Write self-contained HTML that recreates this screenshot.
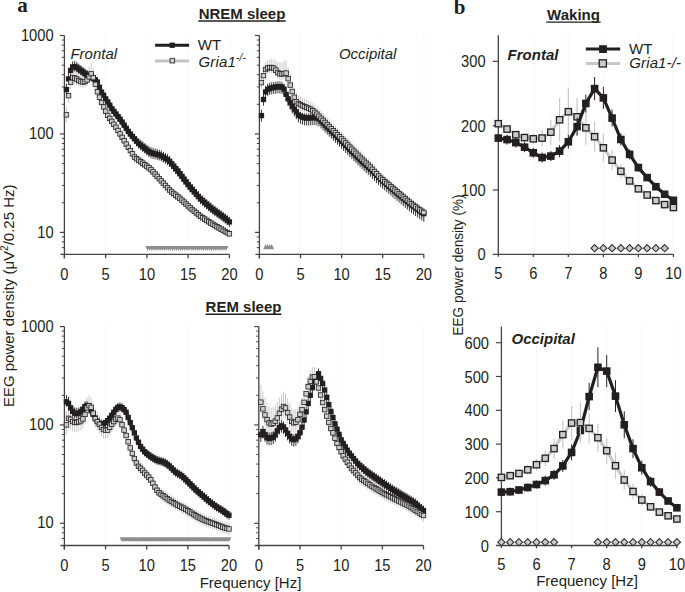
<!DOCTYPE html>
<html><head><meta charset="utf-8"><title>EEG power density</title><style>html,body{margin:0;padding:0;background:#fff;width:685px;height:592px;overflow:hidden}svg{display:block}</style></head><body>
<svg width="685" height="592" viewBox="0 0 685 592">
<rect width="685" height="592" fill="#ffffff"/>
<line x1="105.65" y1="35.50" x2="105.65" y2="253.30" stroke="#e6e6e6" stroke-width="1" stroke-dasharray="1 3"/>
<line x1="146.90" y1="35.50" x2="146.90" y2="253.30" stroke="#e6e6e6" stroke-width="1" stroke-dasharray="1 3"/>
<line x1="188.15" y1="35.50" x2="188.15" y2="253.30" stroke="#e6e6e6" stroke-width="1" stroke-dasharray="1 3"/>
<line x1="229.40" y1="35.50" x2="229.40" y2="253.30" stroke="#e6e6e6" stroke-width="1" stroke-dasharray="1 3"/>
<line x1="64.40" y1="35.50" x2="64.40" y2="258.30" stroke="#444444" stroke-width="1.3" />
<line x1="60.40" y1="254.30" x2="229.40" y2="254.30" stroke="#444444" stroke-width="1.3" />
<line x1="64.40" y1="254.30" x2="64.40" y2="258.30" stroke="#444444" stroke-width="1.3" />
<line x1="105.65" y1="254.30" x2="105.65" y2="258.30" stroke="#444444" stroke-width="1.3" />
<line x1="146.90" y1="254.30" x2="146.90" y2="258.30" stroke="#444444" stroke-width="1.3" />
<line x1="188.15" y1="254.30" x2="188.15" y2="258.30" stroke="#444444" stroke-width="1.3" />
<line x1="229.40" y1="254.30" x2="229.40" y2="258.30" stroke="#444444" stroke-width="1.3" />
<line x1="59.90" y1="232.40" x2="64.40" y2="232.40" stroke="#444444" stroke-width="1.2" />
<line x1="59.90" y1="133.95" x2="64.40" y2="133.95" stroke="#444444" stroke-width="1.2" />
<line x1="59.90" y1="35.50" x2="64.40" y2="35.50" stroke="#444444" stroke-width="1.2" />
<line x1="61.80" y1="247.65" x2="64.40" y2="247.65" stroke="#444444" stroke-width="1.0" />
<line x1="61.80" y1="241.94" x2="64.40" y2="241.94" stroke="#444444" stroke-width="1.0" />
<line x1="61.80" y1="236.90" x2="64.40" y2="236.90" stroke="#444444" stroke-width="1.0" />
<line x1="61.80" y1="202.76" x2="64.40" y2="202.76" stroke="#444444" stroke-width="1.0" />
<line x1="61.80" y1="185.43" x2="64.40" y2="185.43" stroke="#444444" stroke-width="1.0" />
<line x1="61.80" y1="173.13" x2="64.40" y2="173.13" stroke="#444444" stroke-width="1.0" />
<line x1="61.80" y1="163.59" x2="64.40" y2="163.59" stroke="#444444" stroke-width="1.0" />
<line x1="61.80" y1="155.79" x2="64.40" y2="155.79" stroke="#444444" stroke-width="1.0" />
<line x1="61.80" y1="149.20" x2="64.40" y2="149.20" stroke="#444444" stroke-width="1.0" />
<line x1="61.80" y1="143.49" x2="64.40" y2="143.49" stroke="#444444" stroke-width="1.0" />
<line x1="61.80" y1="138.45" x2="64.40" y2="138.45" stroke="#444444" stroke-width="1.0" />
<line x1="61.80" y1="104.31" x2="64.40" y2="104.31" stroke="#444444" stroke-width="1.0" />
<line x1="61.80" y1="86.98" x2="64.40" y2="86.98" stroke="#444444" stroke-width="1.0" />
<line x1="61.80" y1="74.68" x2="64.40" y2="74.68" stroke="#444444" stroke-width="1.0" />
<line x1="61.80" y1="65.14" x2="64.40" y2="65.14" stroke="#444444" stroke-width="1.0" />
<line x1="61.80" y1="57.34" x2="64.40" y2="57.34" stroke="#444444" stroke-width="1.0" />
<line x1="61.80" y1="50.75" x2="64.40" y2="50.75" stroke="#444444" stroke-width="1.0" />
<line x1="61.80" y1="45.04" x2="64.40" y2="45.04" stroke="#444444" stroke-width="1.0" />
<line x1="61.80" y1="40.00" x2="64.40" y2="40.00" stroke="#444444" stroke-width="1.0" />
<text transform="translate(53.60,237.50) scale(0.98,1.05)" x="0" y="0" font-family="Liberation Sans" font-size="15" font-weight="normal" font-style="normal" text-anchor="end" fill="#231f20" >10</text>
<text transform="translate(53.60,139.05) scale(0.98,1.05)" x="0" y="0" font-family="Liberation Sans" font-size="15" font-weight="normal" font-style="normal" text-anchor="end" fill="#231f20" >100</text>
<text transform="translate(53.60,40.60) scale(0.98,1.05)" x="0" y="0" font-family="Liberation Sans" font-size="15" font-weight="normal" font-style="normal" text-anchor="end" fill="#231f20" >1000</text>
<text transform="translate(64.40,280.10) scale(0.98,1.05)" x="0" y="0" font-family="Liberation Sans" font-size="15" font-weight="normal" font-style="normal" text-anchor="middle" fill="#231f20" >0</text>
<text transform="translate(105.65,280.10) scale(0.98,1.05)" x="0" y="0" font-family="Liberation Sans" font-size="15" font-weight="normal" font-style="normal" text-anchor="middle" fill="#231f20" >5</text>
<text transform="translate(146.90,280.10) scale(0.98,1.05)" x="0" y="0" font-family="Liberation Sans" font-size="15" font-weight="normal" font-style="normal" text-anchor="middle" fill="#231f20" >10</text>
<text transform="translate(188.15,280.10) scale(0.98,1.05)" x="0" y="0" font-family="Liberation Sans" font-size="15" font-weight="normal" font-style="normal" text-anchor="middle" fill="#231f20" >15</text>
<text transform="translate(229.40,280.10) scale(0.98,1.05)" x="0" y="0" font-family="Liberation Sans" font-size="15" font-weight="normal" font-style="normal" text-anchor="middle" fill="#231f20" >20</text>
<line x1="300.50" y1="35.50" x2="300.50" y2="253.30" stroke="#e6e6e6" stroke-width="1" stroke-dasharray="1 3"/>
<line x1="341.60" y1="35.50" x2="341.60" y2="253.30" stroke="#e6e6e6" stroke-width="1" stroke-dasharray="1 3"/>
<line x1="382.70" y1="35.50" x2="382.70" y2="253.30" stroke="#e6e6e6" stroke-width="1" stroke-dasharray="1 3"/>
<line x1="423.80" y1="35.50" x2="423.80" y2="253.30" stroke="#e6e6e6" stroke-width="1" stroke-dasharray="1 3"/>
<line x1="259.40" y1="35.50" x2="259.40" y2="258.30" stroke="#444444" stroke-width="1.3" />
<line x1="255.40" y1="254.30" x2="423.80" y2="254.30" stroke="#444444" stroke-width="1.3" />
<line x1="259.40" y1="254.30" x2="259.40" y2="258.30" stroke="#444444" stroke-width="1.3" />
<line x1="300.50" y1="254.30" x2="300.50" y2="258.30" stroke="#444444" stroke-width="1.3" />
<line x1="341.60" y1="254.30" x2="341.60" y2="258.30" stroke="#444444" stroke-width="1.3" />
<line x1="382.70" y1="254.30" x2="382.70" y2="258.30" stroke="#444444" stroke-width="1.3" />
<line x1="423.80" y1="254.30" x2="423.80" y2="258.30" stroke="#444444" stroke-width="1.3" />
<line x1="254.90" y1="232.40" x2="259.40" y2="232.40" stroke="#444444" stroke-width="1.2" />
<line x1="254.90" y1="133.95" x2="259.40" y2="133.95" stroke="#444444" stroke-width="1.2" />
<line x1="254.90" y1="35.50" x2="259.40" y2="35.50" stroke="#444444" stroke-width="1.2" />
<line x1="256.80" y1="247.65" x2="259.40" y2="247.65" stroke="#444444" stroke-width="1.0" />
<line x1="256.80" y1="241.94" x2="259.40" y2="241.94" stroke="#444444" stroke-width="1.0" />
<line x1="256.80" y1="236.90" x2="259.40" y2="236.90" stroke="#444444" stroke-width="1.0" />
<line x1="256.80" y1="202.76" x2="259.40" y2="202.76" stroke="#444444" stroke-width="1.0" />
<line x1="256.80" y1="185.43" x2="259.40" y2="185.43" stroke="#444444" stroke-width="1.0" />
<line x1="256.80" y1="173.13" x2="259.40" y2="173.13" stroke="#444444" stroke-width="1.0" />
<line x1="256.80" y1="163.59" x2="259.40" y2="163.59" stroke="#444444" stroke-width="1.0" />
<line x1="256.80" y1="155.79" x2="259.40" y2="155.79" stroke="#444444" stroke-width="1.0" />
<line x1="256.80" y1="149.20" x2="259.40" y2="149.20" stroke="#444444" stroke-width="1.0" />
<line x1="256.80" y1="143.49" x2="259.40" y2="143.49" stroke="#444444" stroke-width="1.0" />
<line x1="256.80" y1="138.45" x2="259.40" y2="138.45" stroke="#444444" stroke-width="1.0" />
<line x1="256.80" y1="104.31" x2="259.40" y2="104.31" stroke="#444444" stroke-width="1.0" />
<line x1="256.80" y1="86.98" x2="259.40" y2="86.98" stroke="#444444" stroke-width="1.0" />
<line x1="256.80" y1="74.68" x2="259.40" y2="74.68" stroke="#444444" stroke-width="1.0" />
<line x1="256.80" y1="65.14" x2="259.40" y2="65.14" stroke="#444444" stroke-width="1.0" />
<line x1="256.80" y1="57.34" x2="259.40" y2="57.34" stroke="#444444" stroke-width="1.0" />
<line x1="256.80" y1="50.75" x2="259.40" y2="50.75" stroke="#444444" stroke-width="1.0" />
<line x1="256.80" y1="45.04" x2="259.40" y2="45.04" stroke="#444444" stroke-width="1.0" />
<line x1="256.80" y1="40.00" x2="259.40" y2="40.00" stroke="#444444" stroke-width="1.0" />
<text transform="translate(259.40,280.10) scale(0.98,1.05)" x="0" y="0" font-family="Liberation Sans" font-size="15" font-weight="normal" font-style="normal" text-anchor="middle" fill="#231f20" >0</text>
<text transform="translate(300.50,280.10) scale(0.98,1.05)" x="0" y="0" font-family="Liberation Sans" font-size="15" font-weight="normal" font-style="normal" text-anchor="middle" fill="#231f20" >5</text>
<text transform="translate(341.60,280.10) scale(0.98,1.05)" x="0" y="0" font-family="Liberation Sans" font-size="15" font-weight="normal" font-style="normal" text-anchor="middle" fill="#231f20" >10</text>
<text transform="translate(382.70,280.10) scale(0.98,1.05)" x="0" y="0" font-family="Liberation Sans" font-size="15" font-weight="normal" font-style="normal" text-anchor="middle" fill="#231f20" >15</text>
<text transform="translate(423.80,280.10) scale(0.98,1.05)" x="0" y="0" font-family="Liberation Sans" font-size="15" font-weight="normal" font-style="normal" text-anchor="middle" fill="#231f20" >20</text>
<line x1="105.55" y1="326.60" x2="105.55" y2="544.50" stroke="#e6e6e6" stroke-width="1" stroke-dasharray="1 3"/>
<line x1="146.70" y1="326.60" x2="146.70" y2="544.50" stroke="#e6e6e6" stroke-width="1" stroke-dasharray="1 3"/>
<line x1="187.85" y1="326.60" x2="187.85" y2="544.50" stroke="#e6e6e6" stroke-width="1" stroke-dasharray="1 3"/>
<line x1="229.00" y1="326.60" x2="229.00" y2="544.50" stroke="#e6e6e6" stroke-width="1" stroke-dasharray="1 3"/>
<line x1="64.40" y1="326.60" x2="64.40" y2="549.50" stroke="#444444" stroke-width="1.3" />
<line x1="60.40" y1="545.50" x2="229.00" y2="545.50" stroke="#444444" stroke-width="1.3" />
<line x1="64.40" y1="545.50" x2="64.40" y2="549.50" stroke="#444444" stroke-width="1.3" />
<line x1="105.55" y1="545.50" x2="105.55" y2="549.50" stroke="#444444" stroke-width="1.3" />
<line x1="146.70" y1="545.50" x2="146.70" y2="549.50" stroke="#444444" stroke-width="1.3" />
<line x1="187.85" y1="545.50" x2="187.85" y2="549.50" stroke="#444444" stroke-width="1.3" />
<line x1="229.00" y1="545.50" x2="229.00" y2="549.50" stroke="#444444" stroke-width="1.3" />
<line x1="59.90" y1="523.30" x2="64.40" y2="523.30" stroke="#444444" stroke-width="1.2" />
<line x1="59.90" y1="424.95" x2="64.40" y2="424.95" stroke="#444444" stroke-width="1.2" />
<line x1="59.90" y1="326.60" x2="64.40" y2="326.60" stroke="#444444" stroke-width="1.2" />
<line x1="61.80" y1="538.53" x2="64.40" y2="538.53" stroke="#444444" stroke-width="1.0" />
<line x1="61.80" y1="532.83" x2="64.40" y2="532.83" stroke="#444444" stroke-width="1.0" />
<line x1="61.80" y1="527.80" x2="64.40" y2="527.80" stroke="#444444" stroke-width="1.0" />
<line x1="61.80" y1="493.69" x2="64.40" y2="493.69" stroke="#444444" stroke-width="1.0" />
<line x1="61.80" y1="476.38" x2="64.40" y2="476.38" stroke="#444444" stroke-width="1.0" />
<line x1="61.80" y1="464.09" x2="64.40" y2="464.09" stroke="#444444" stroke-width="1.0" />
<line x1="61.80" y1="454.56" x2="64.40" y2="454.56" stroke="#444444" stroke-width="1.0" />
<line x1="61.80" y1="446.77" x2="64.40" y2="446.77" stroke="#444444" stroke-width="1.0" />
<line x1="61.80" y1="440.18" x2="64.40" y2="440.18" stroke="#444444" stroke-width="1.0" />
<line x1="61.80" y1="434.48" x2="64.40" y2="434.48" stroke="#444444" stroke-width="1.0" />
<line x1="61.80" y1="429.45" x2="64.40" y2="429.45" stroke="#444444" stroke-width="1.0" />
<line x1="61.80" y1="395.34" x2="64.40" y2="395.34" stroke="#444444" stroke-width="1.0" />
<line x1="61.80" y1="378.03" x2="64.40" y2="378.03" stroke="#444444" stroke-width="1.0" />
<line x1="61.80" y1="365.74" x2="64.40" y2="365.74" stroke="#444444" stroke-width="1.0" />
<line x1="61.80" y1="356.21" x2="64.40" y2="356.21" stroke="#444444" stroke-width="1.0" />
<line x1="61.80" y1="348.42" x2="64.40" y2="348.42" stroke="#444444" stroke-width="1.0" />
<line x1="61.80" y1="341.83" x2="64.40" y2="341.83" stroke="#444444" stroke-width="1.0" />
<line x1="61.80" y1="336.13" x2="64.40" y2="336.13" stroke="#444444" stroke-width="1.0" />
<line x1="61.80" y1="331.10" x2="64.40" y2="331.10" stroke="#444444" stroke-width="1.0" />
<text transform="translate(53.60,528.40) scale(0.98,1.05)" x="0" y="0" font-family="Liberation Sans" font-size="15" font-weight="normal" font-style="normal" text-anchor="end" fill="#231f20" >10</text>
<text transform="translate(53.60,430.05) scale(0.98,1.05)" x="0" y="0" font-family="Liberation Sans" font-size="15" font-weight="normal" font-style="normal" text-anchor="end" fill="#231f20" >100</text>
<text transform="translate(53.60,331.70) scale(0.98,1.05)" x="0" y="0" font-family="Liberation Sans" font-size="15" font-weight="normal" font-style="normal" text-anchor="end" fill="#231f20" >1000</text>
<text transform="translate(64.40,571.30) scale(0.98,1.05)" x="0" y="0" font-family="Liberation Sans" font-size="15" font-weight="normal" font-style="normal" text-anchor="middle" fill="#231f20" >0</text>
<text transform="translate(105.55,571.30) scale(0.98,1.05)" x="0" y="0" font-family="Liberation Sans" font-size="15" font-weight="normal" font-style="normal" text-anchor="middle" fill="#231f20" >5</text>
<text transform="translate(146.70,571.30) scale(0.98,1.05)" x="0" y="0" font-family="Liberation Sans" font-size="15" font-weight="normal" font-style="normal" text-anchor="middle" fill="#231f20" >10</text>
<text transform="translate(187.85,571.30) scale(0.98,1.05)" x="0" y="0" font-family="Liberation Sans" font-size="15" font-weight="normal" font-style="normal" text-anchor="middle" fill="#231f20" >15</text>
<text transform="translate(229.00,571.30) scale(0.98,1.05)" x="0" y="0" font-family="Liberation Sans" font-size="15" font-weight="normal" font-style="normal" text-anchor="middle" fill="#231f20" >20</text>
<line x1="299.98" y1="326.60" x2="299.98" y2="544.50" stroke="#e6e6e6" stroke-width="1" stroke-dasharray="1 3"/>
<line x1="341.15" y1="326.60" x2="341.15" y2="544.50" stroke="#e6e6e6" stroke-width="1" stroke-dasharray="1 3"/>
<line x1="382.33" y1="326.60" x2="382.33" y2="544.50" stroke="#e6e6e6" stroke-width="1" stroke-dasharray="1 3"/>
<line x1="423.50" y1="326.60" x2="423.50" y2="544.50" stroke="#e6e6e6" stroke-width="1" stroke-dasharray="1 3"/>
<line x1="258.80" y1="326.60" x2="258.80" y2="549.50" stroke="#444444" stroke-width="1.3" />
<line x1="254.80" y1="545.50" x2="423.50" y2="545.50" stroke="#444444" stroke-width="1.3" />
<line x1="258.80" y1="545.50" x2="258.80" y2="549.50" stroke="#444444" stroke-width="1.3" />
<line x1="299.98" y1="545.50" x2="299.98" y2="549.50" stroke="#444444" stroke-width="1.3" />
<line x1="341.15" y1="545.50" x2="341.15" y2="549.50" stroke="#444444" stroke-width="1.3" />
<line x1="382.33" y1="545.50" x2="382.33" y2="549.50" stroke="#444444" stroke-width="1.3" />
<line x1="423.50" y1="545.50" x2="423.50" y2="549.50" stroke="#444444" stroke-width="1.3" />
<line x1="254.30" y1="523.30" x2="258.80" y2="523.30" stroke="#444444" stroke-width="1.2" />
<line x1="254.30" y1="424.95" x2="258.80" y2="424.95" stroke="#444444" stroke-width="1.2" />
<line x1="254.30" y1="326.60" x2="258.80" y2="326.60" stroke="#444444" stroke-width="1.2" />
<line x1="256.20" y1="538.53" x2="258.80" y2="538.53" stroke="#444444" stroke-width="1.0" />
<line x1="256.20" y1="532.83" x2="258.80" y2="532.83" stroke="#444444" stroke-width="1.0" />
<line x1="256.20" y1="527.80" x2="258.80" y2="527.80" stroke="#444444" stroke-width="1.0" />
<line x1="256.20" y1="493.69" x2="258.80" y2="493.69" stroke="#444444" stroke-width="1.0" />
<line x1="256.20" y1="476.38" x2="258.80" y2="476.38" stroke="#444444" stroke-width="1.0" />
<line x1="256.20" y1="464.09" x2="258.80" y2="464.09" stroke="#444444" stroke-width="1.0" />
<line x1="256.20" y1="454.56" x2="258.80" y2="454.56" stroke="#444444" stroke-width="1.0" />
<line x1="256.20" y1="446.77" x2="258.80" y2="446.77" stroke="#444444" stroke-width="1.0" />
<line x1="256.20" y1="440.18" x2="258.80" y2="440.18" stroke="#444444" stroke-width="1.0" />
<line x1="256.20" y1="434.48" x2="258.80" y2="434.48" stroke="#444444" stroke-width="1.0" />
<line x1="256.20" y1="429.45" x2="258.80" y2="429.45" stroke="#444444" stroke-width="1.0" />
<line x1="256.20" y1="395.34" x2="258.80" y2="395.34" stroke="#444444" stroke-width="1.0" />
<line x1="256.20" y1="378.03" x2="258.80" y2="378.03" stroke="#444444" stroke-width="1.0" />
<line x1="256.20" y1="365.74" x2="258.80" y2="365.74" stroke="#444444" stroke-width="1.0" />
<line x1="256.20" y1="356.21" x2="258.80" y2="356.21" stroke="#444444" stroke-width="1.0" />
<line x1="256.20" y1="348.42" x2="258.80" y2="348.42" stroke="#444444" stroke-width="1.0" />
<line x1="256.20" y1="341.83" x2="258.80" y2="341.83" stroke="#444444" stroke-width="1.0" />
<line x1="256.20" y1="336.13" x2="258.80" y2="336.13" stroke="#444444" stroke-width="1.0" />
<line x1="256.20" y1="331.10" x2="258.80" y2="331.10" stroke="#444444" stroke-width="1.0" />
<text transform="translate(258.80,571.30) scale(0.98,1.05)" x="0" y="0" font-family="Liberation Sans" font-size="15" font-weight="normal" font-style="normal" text-anchor="middle" fill="#231f20" >0</text>
<text transform="translate(299.98,571.30) scale(0.98,1.05)" x="0" y="0" font-family="Liberation Sans" font-size="15" font-weight="normal" font-style="normal" text-anchor="middle" fill="#231f20" >5</text>
<text transform="translate(341.15,571.30) scale(0.98,1.05)" x="0" y="0" font-family="Liberation Sans" font-size="15" font-weight="normal" font-style="normal" text-anchor="middle" fill="#231f20" >10</text>
<text transform="translate(382.33,571.30) scale(0.98,1.05)" x="0" y="0" font-family="Liberation Sans" font-size="15" font-weight="normal" font-style="normal" text-anchor="middle" fill="#231f20" >15</text>
<text transform="translate(423.50,571.30) scale(0.98,1.05)" x="0" y="0" font-family="Liberation Sans" font-size="15" font-weight="normal" font-style="normal" text-anchor="middle" fill="#231f20" >20</text>
<line x1="66.46" y1="106.86" x2="66.46" y2="122.55" stroke="#c4c4c4" stroke-width="0.9"/>
<line x1="68.53" y1="87.67" x2="68.53" y2="103.10" stroke="#c4c4c4" stroke-width="0.9"/>
<line x1="70.59" y1="74.28" x2="70.59" y2="89.46" stroke="#c4c4c4" stroke-width="0.9"/>
<line x1="72.65" y1="69.54" x2="72.65" y2="84.45" stroke="#c4c4c4" stroke-width="0.9"/>
<line x1="74.71" y1="70.05" x2="74.71" y2="84.71" stroke="#c4c4c4" stroke-width="0.9"/>
<line x1="76.78" y1="71.05" x2="76.78" y2="85.46" stroke="#c4c4c4" stroke-width="0.9"/>
<line x1="78.84" y1="72.52" x2="78.84" y2="86.66" stroke="#c4c4c4" stroke-width="0.9"/>
<line x1="80.90" y1="73.30" x2="80.90" y2="87.52" stroke="#c4c4c4" stroke-width="0.9"/>
<line x1="82.96" y1="73.24" x2="82.96" y2="87.99" stroke="#c4c4c4" stroke-width="0.9"/>
<line x1="85.03" y1="72.22" x2="85.03" y2="87.48" stroke="#c4c4c4" stroke-width="0.9"/>
<line x1="87.09" y1="70.10" x2="87.09" y2="85.87" stroke="#c4c4c4" stroke-width="0.9"/>
<line x1="89.15" y1="66.58" x2="89.15" y2="82.86" stroke="#c4c4c4" stroke-width="0.9"/>
<line x1="91.21" y1="63.07" x2="91.21" y2="79.87" stroke="#c4c4c4" stroke-width="0.9"/>
<line x1="93.28" y1="67.41" x2="93.28" y2="83.62" stroke="#c4c4c4" stroke-width="0.9"/>
<line x1="95.34" y1="75.40" x2="95.34" y2="90.31" stroke="#c4c4c4" stroke-width="0.9"/>
<line x1="97.40" y1="84.15" x2="97.40" y2="97.77" stroke="#c4c4c4" stroke-width="0.9"/>
<line x1="99.46" y1="90.86" x2="99.46" y2="103.20" stroke="#c4c4c4" stroke-width="0.9"/>
<line x1="101.53" y1="96.52" x2="101.53" y2="108.46" stroke="#c4c4c4" stroke-width="0.9"/>
<line x1="103.59" y1="101.00" x2="103.59" y2="112.86" stroke="#c4c4c4" stroke-width="0.9"/>
<line x1="105.65" y1="105.34" x2="105.65" y2="117.12" stroke="#c4c4c4" stroke-width="0.9"/>
<line x1="107.71" y1="109.62" x2="107.71" y2="121.31" stroke="#c4c4c4" stroke-width="0.9"/>
<line x1="109.78" y1="112.62" x2="109.78" y2="124.23" stroke="#c4c4c4" stroke-width="0.9"/>
<line x1="111.84" y1="115.62" x2="111.84" y2="127.15" stroke="#c4c4c4" stroke-width="0.9"/>
<line x1="113.90" y1="118.63" x2="113.90" y2="130.07" stroke="#c4c4c4" stroke-width="0.9"/>
<line x1="115.96" y1="121.63" x2="115.96" y2="132.99" stroke="#c4c4c4" stroke-width="0.9"/>
<line x1="118.03" y1="124.87" x2="118.03" y2="136.15" stroke="#c4c4c4" stroke-width="0.9"/>
<line x1="120.09" y1="128.35" x2="120.09" y2="139.54" stroke="#c4c4c4" stroke-width="0.9"/>
<line x1="122.15" y1="131.83" x2="122.15" y2="142.94" stroke="#c4c4c4" stroke-width="0.9"/>
<line x1="124.21" y1="135.31" x2="124.21" y2="146.34" stroke="#c4c4c4" stroke-width="0.9"/>
<line x1="126.28" y1="138.67" x2="126.28" y2="149.62" stroke="#c4c4c4" stroke-width="0.9"/>
<line x1="128.34" y1="141.94" x2="128.34" y2="152.81" stroke="#c4c4c4" stroke-width="0.9"/>
<line x1="130.40" y1="145.22" x2="130.40" y2="156.00" stroke="#c4c4c4" stroke-width="0.9"/>
<line x1="132.46" y1="148.50" x2="132.46" y2="159.20" stroke="#c4c4c4" stroke-width="0.9"/>
<line x1="134.53" y1="151.77" x2="134.53" y2="162.39" stroke="#c4c4c4" stroke-width="0.9"/>
<line x1="136.59" y1="153.39" x2="136.59" y2="163.93" stroke="#c4c4c4" stroke-width="0.9"/>
<line x1="138.65" y1="154.94" x2="138.65" y2="165.40" stroke="#c4c4c4" stroke-width="0.9"/>
<line x1="140.71" y1="156.50" x2="140.71" y2="166.87" stroke="#c4c4c4" stroke-width="0.9"/>
<line x1="142.78" y1="158.05" x2="142.78" y2="168.34" stroke="#c4c4c4" stroke-width="0.9"/>
<line x1="144.84" y1="159.61" x2="144.84" y2="169.82" stroke="#c4c4c4" stroke-width="0.9"/>
<line x1="146.90" y1="161.16" x2="146.90" y2="171.29" stroke="#c4c4c4" stroke-width="0.9"/>
<line x1="148.96" y1="162.72" x2="148.96" y2="172.76" stroke="#c4c4c4" stroke-width="0.9"/>
<line x1="151.03" y1="164.63" x2="151.03" y2="174.60" stroke="#c4c4c4" stroke-width="0.9"/>
<line x1="153.09" y1="166.90" x2="153.09" y2="176.82" stroke="#c4c4c4" stroke-width="0.9"/>
<line x1="155.15" y1="169.17" x2="155.15" y2="179.04" stroke="#c4c4c4" stroke-width="0.9"/>
<line x1="157.21" y1="171.44" x2="157.21" y2="181.26" stroke="#c4c4c4" stroke-width="0.9"/>
<line x1="159.28" y1="173.71" x2="159.28" y2="183.47" stroke="#c4c4c4" stroke-width="0.9"/>
<line x1="161.34" y1="176.00" x2="161.34" y2="185.72" stroke="#c4c4c4" stroke-width="0.9"/>
<line x1="163.40" y1="178.32" x2="163.40" y2="187.98" stroke="#c4c4c4" stroke-width="0.9"/>
<line x1="165.46" y1="180.63" x2="165.46" y2="190.25" stroke="#c4c4c4" stroke-width="0.9"/>
<line x1="167.53" y1="182.95" x2="167.53" y2="192.51" stroke="#c4c4c4" stroke-width="0.9"/>
<line x1="169.59" y1="185.26" x2="169.59" y2="194.77" stroke="#c4c4c4" stroke-width="0.9"/>
<line x1="171.65" y1="187.15" x2="171.65" y2="196.61" stroke="#c4c4c4" stroke-width="0.9"/>
<line x1="173.71" y1="188.81" x2="173.71" y2="198.21" stroke="#c4c4c4" stroke-width="0.9"/>
<line x1="175.78" y1="190.46" x2="175.78" y2="199.82" stroke="#c4c4c4" stroke-width="0.9"/>
<line x1="177.84" y1="192.12" x2="177.84" y2="201.42" stroke="#c4c4c4" stroke-width="0.9"/>
<line x1="179.90" y1="193.78" x2="179.90" y2="203.03" stroke="#c4c4c4" stroke-width="0.9"/>
<line x1="181.96" y1="195.64" x2="181.96" y2="204.84" stroke="#c4c4c4" stroke-width="0.9"/>
<line x1="184.03" y1="197.56" x2="184.03" y2="206.71" stroke="#c4c4c4" stroke-width="0.9"/>
<line x1="186.09" y1="199.49" x2="186.09" y2="208.59" stroke="#c4c4c4" stroke-width="0.9"/>
<line x1="188.15" y1="201.41" x2="188.15" y2="210.46" stroke="#c4c4c4" stroke-width="0.9"/>
<line x1="190.21" y1="203.34" x2="190.21" y2="212.33" stroke="#c4c4c4" stroke-width="0.9"/>
<line x1="192.28" y1="205.09" x2="192.28" y2="214.03" stroke="#c4c4c4" stroke-width="0.9"/>
<line x1="194.34" y1="206.81" x2="194.34" y2="215.71" stroke="#c4c4c4" stroke-width="0.9"/>
<line x1="196.40" y1="208.54" x2="196.40" y2="217.38" stroke="#c4c4c4" stroke-width="0.9"/>
<line x1="198.46" y1="210.26" x2="198.46" y2="219.05" stroke="#c4c4c4" stroke-width="0.9"/>
<line x1="200.53" y1="211.99" x2="200.53" y2="220.72" stroke="#c4c4c4" stroke-width="0.9"/>
<line x1="202.59" y1="213.37" x2="202.59" y2="222.06" stroke="#c4c4c4" stroke-width="0.9"/>
<line x1="204.65" y1="214.73" x2="204.65" y2="223.36" stroke="#c4c4c4" stroke-width="0.9"/>
<line x1="206.71" y1="216.08" x2="206.71" y2="224.66" stroke="#c4c4c4" stroke-width="0.9"/>
<line x1="208.78" y1="217.44" x2="208.78" y2="225.97" stroke="#c4c4c4" stroke-width="0.9"/>
<line x1="210.84" y1="218.79" x2="210.84" y2="227.27" stroke="#c4c4c4" stroke-width="0.9"/>
<line x1="212.90" y1="220.12" x2="212.90" y2="228.55" stroke="#c4c4c4" stroke-width="0.9"/>
<line x1="214.96" y1="221.35" x2="214.96" y2="229.73" stroke="#c4c4c4" stroke-width="0.9"/>
<line x1="217.03" y1="222.58" x2="217.03" y2="230.91" stroke="#c4c4c4" stroke-width="0.9"/>
<line x1="219.09" y1="223.81" x2="219.09" y2="232.08" stroke="#c4c4c4" stroke-width="0.9"/>
<line x1="221.15" y1="225.04" x2="221.15" y2="233.26" stroke="#c4c4c4" stroke-width="0.9"/>
<line x1="223.21" y1="226.26" x2="223.21" y2="234.43" stroke="#c4c4c4" stroke-width="0.9"/>
<line x1="225.28" y1="227.44" x2="225.28" y2="235.55" stroke="#c4c4c4" stroke-width="0.9"/>
<line x1="227.34" y1="228.61" x2="227.34" y2="236.68" stroke="#c4c4c4" stroke-width="0.9"/>
<line x1="229.40" y1="229.79" x2="229.40" y2="237.81" stroke="#c4c4c4" stroke-width="0.9"/>
<line x1="66.46" y1="83.65" x2="66.46" y2="94.51" stroke="#231f20" stroke-width="0.9"/>
<line x1="68.53" y1="73.06" x2="68.53" y2="83.81" stroke="#231f20" stroke-width="0.9"/>
<line x1="70.59" y1="64.62" x2="70.59" y2="75.26" stroke="#231f20" stroke-width="0.9"/>
<line x1="72.65" y1="61.32" x2="72.65" y2="71.84" stroke="#231f20" stroke-width="0.9"/>
<line x1="74.71" y1="61.00" x2="74.71" y2="71.40" stroke="#231f20" stroke-width="0.9"/>
<line x1="76.78" y1="62.09" x2="76.78" y2="72.38" stroke="#231f20" stroke-width="0.9"/>
<line x1="78.84" y1="63.65" x2="78.84" y2="73.82" stroke="#231f20" stroke-width="0.9"/>
<line x1="80.90" y1="65.28" x2="80.90" y2="75.34" stroke="#231f20" stroke-width="0.9"/>
<line x1="82.96" y1="66.83" x2="82.96" y2="76.78" stroke="#231f20" stroke-width="0.9"/>
<line x1="85.03" y1="68.39" x2="85.03" y2="78.23" stroke="#231f20" stroke-width="0.9"/>
<line x1="87.09" y1="70.01" x2="87.09" y2="79.72" stroke="#231f20" stroke-width="0.9"/>
<line x1="89.15" y1="71.12" x2="89.15" y2="80.73" stroke="#231f20" stroke-width="0.9"/>
<line x1="91.21" y1="72.24" x2="91.21" y2="81.73" stroke="#231f20" stroke-width="0.9"/>
<line x1="93.28" y1="73.43" x2="93.28" y2="82.80" stroke="#231f20" stroke-width="0.9"/>
<line x1="95.34" y1="75.11" x2="95.34" y2="84.37" stroke="#231f20" stroke-width="0.9"/>
<line x1="97.40" y1="77.40" x2="97.40" y2="86.54" stroke="#231f20" stroke-width="0.9"/>
<line x1="99.46" y1="82.73" x2="99.46" y2="91.76" stroke="#231f20" stroke-width="0.9"/>
<line x1="101.53" y1="87.60" x2="101.53" y2="96.60" stroke="#231f20" stroke-width="0.9"/>
<line x1="103.59" y1="90.73" x2="103.59" y2="99.73" stroke="#231f20" stroke-width="0.9"/>
<line x1="105.65" y1="94.35" x2="105.65" y2="103.35" stroke="#231f20" stroke-width="0.9"/>
<line x1="107.71" y1="97.49" x2="107.71" y2="106.49" stroke="#231f20" stroke-width="0.9"/>
<line x1="109.78" y1="100.67" x2="109.78" y2="109.67" stroke="#231f20" stroke-width="0.9"/>
<line x1="111.84" y1="104.20" x2="111.84" y2="113.20" stroke="#231f20" stroke-width="0.9"/>
<line x1="113.90" y1="106.83" x2="113.90" y2="115.83" stroke="#231f20" stroke-width="0.9"/>
<line x1="115.96" y1="109.46" x2="115.96" y2="118.46" stroke="#231f20" stroke-width="0.9"/>
<line x1="118.03" y1="112.08" x2="118.03" y2="121.08" stroke="#231f20" stroke-width="0.9"/>
<line x1="120.09" y1="114.71" x2="120.09" y2="123.71" stroke="#231f20" stroke-width="0.9"/>
<line x1="122.15" y1="117.58" x2="122.15" y2="126.58" stroke="#231f20" stroke-width="0.9"/>
<line x1="124.21" y1="120.69" x2="124.21" y2="129.69" stroke="#231f20" stroke-width="0.9"/>
<line x1="126.28" y1="123.79" x2="126.28" y2="132.79" stroke="#231f20" stroke-width="0.9"/>
<line x1="128.34" y1="126.90" x2="128.34" y2="135.90" stroke="#231f20" stroke-width="0.9"/>
<line x1="130.40" y1="129.56" x2="130.40" y2="138.60" stroke="#231f20" stroke-width="0.9"/>
<line x1="132.46" y1="131.83" x2="132.46" y2="141.07" stroke="#231f20" stroke-width="0.9"/>
<line x1="134.53" y1="134.09" x2="134.53" y2="143.54" stroke="#231f20" stroke-width="0.9"/>
<line x1="136.59" y1="136.36" x2="136.59" y2="146.02" stroke="#231f20" stroke-width="0.9"/>
<line x1="138.65" y1="138.61" x2="138.65" y2="148.47" stroke="#231f20" stroke-width="0.9"/>
<line x1="140.71" y1="140.13" x2="140.71" y2="150.20" stroke="#231f20" stroke-width="0.9"/>
<line x1="142.78" y1="141.66" x2="142.78" y2="151.93" stroke="#231f20" stroke-width="0.9"/>
<line x1="144.84" y1="143.18" x2="144.84" y2="153.67" stroke="#231f20" stroke-width="0.9"/>
<line x1="146.90" y1="144.71" x2="146.90" y2="155.40" stroke="#231f20" stroke-width="0.9"/>
<line x1="148.96" y1="146.23" x2="148.96" y2="157.13" stroke="#231f20" stroke-width="0.9"/>
<line x1="151.03" y1="147.28" x2="151.03" y2="158.27" stroke="#231f20" stroke-width="0.9"/>
<line x1="153.09" y1="147.85" x2="153.09" y2="158.81" stroke="#231f20" stroke-width="0.9"/>
<line x1="155.15" y1="148.42" x2="155.15" y2="159.36" stroke="#231f20" stroke-width="0.9"/>
<line x1="157.21" y1="148.99" x2="157.21" y2="159.90" stroke="#231f20" stroke-width="0.9"/>
<line x1="159.28" y1="149.56" x2="159.28" y2="160.45" stroke="#231f20" stroke-width="0.9"/>
<line x1="161.34" y1="150.56" x2="161.34" y2="161.42" stroke="#231f20" stroke-width="0.9"/>
<line x1="163.40" y1="151.80" x2="163.40" y2="162.63" stroke="#231f20" stroke-width="0.9"/>
<line x1="165.46" y1="153.04" x2="165.46" y2="163.84" stroke="#231f20" stroke-width="0.9"/>
<line x1="167.53" y1="154.27" x2="167.53" y2="165.05" stroke="#231f20" stroke-width="0.9"/>
<line x1="169.59" y1="156.08" x2="169.59" y2="166.83" stroke="#231f20" stroke-width="0.9"/>
<line x1="171.65" y1="158.50" x2="171.65" y2="169.23" stroke="#231f20" stroke-width="0.9"/>
<line x1="173.71" y1="160.92" x2="173.71" y2="171.62" stroke="#231f20" stroke-width="0.9"/>
<line x1="175.78" y1="163.34" x2="175.78" y2="174.02" stroke="#231f20" stroke-width="0.9"/>
<line x1="177.84" y1="165.77" x2="177.84" y2="176.42" stroke="#231f20" stroke-width="0.9"/>
<line x1="179.90" y1="168.38" x2="179.90" y2="179.00" stroke="#231f20" stroke-width="0.9"/>
<line x1="181.96" y1="171.12" x2="181.96" y2="181.72" stroke="#231f20" stroke-width="0.9"/>
<line x1="184.03" y1="173.86" x2="184.03" y2="184.44" stroke="#231f20" stroke-width="0.9"/>
<line x1="186.09" y1="176.60" x2="186.09" y2="187.15" stroke="#231f20" stroke-width="0.9"/>
<line x1="188.15" y1="179.35" x2="188.15" y2="189.87" stroke="#231f20" stroke-width="0.9"/>
<line x1="190.21" y1="181.85" x2="190.21" y2="192.35" stroke="#231f20" stroke-width="0.9"/>
<line x1="192.28" y1="184.23" x2="192.28" y2="194.70" stroke="#231f20" stroke-width="0.9"/>
<line x1="194.34" y1="186.60" x2="194.34" y2="197.04" stroke="#231f20" stroke-width="0.9"/>
<line x1="196.40" y1="188.97" x2="196.40" y2="199.39" stroke="#231f20" stroke-width="0.9"/>
<line x1="198.46" y1="191.34" x2="198.46" y2="201.74" stroke="#231f20" stroke-width="0.9"/>
<line x1="200.53" y1="193.72" x2="200.53" y2="204.08" stroke="#231f20" stroke-width="0.9"/>
<line x1="202.59" y1="195.56" x2="202.59" y2="205.90" stroke="#231f20" stroke-width="0.9"/>
<line x1="204.65" y1="197.36" x2="204.65" y2="207.67" stroke="#231f20" stroke-width="0.9"/>
<line x1="206.71" y1="199.15" x2="206.71" y2="209.44" stroke="#231f20" stroke-width="0.9"/>
<line x1="208.78" y1="200.95" x2="208.78" y2="211.21" stroke="#231f20" stroke-width="0.9"/>
<line x1="210.84" y1="202.74" x2="210.84" y2="212.98" stroke="#231f20" stroke-width="0.9"/>
<line x1="212.90" y1="204.48" x2="212.90" y2="214.69" stroke="#231f20" stroke-width="0.9"/>
<line x1="214.96" y1="205.96" x2="214.96" y2="216.15" stroke="#231f20" stroke-width="0.9"/>
<line x1="217.03" y1="207.44" x2="217.03" y2="217.60" stroke="#231f20" stroke-width="0.9"/>
<line x1="219.09" y1="208.92" x2="219.09" y2="219.06" stroke="#231f20" stroke-width="0.9"/>
<line x1="221.15" y1="210.40" x2="221.15" y2="220.51" stroke="#231f20" stroke-width="0.9"/>
<line x1="223.21" y1="211.88" x2="223.21" y2="221.97" stroke="#231f20" stroke-width="0.9"/>
<line x1="225.28" y1="213.48" x2="225.28" y2="223.54" stroke="#231f20" stroke-width="0.9"/>
<line x1="227.34" y1="215.20" x2="227.34" y2="225.23" stroke="#231f20" stroke-width="0.9"/>
<line x1="229.40" y1="216.91" x2="229.40" y2="226.92" stroke="#231f20" stroke-width="0.9"/>
<rect x="63.81" y="86.90" width="5.3" height="5.3" fill="#231f20"/>
<rect x="65.88" y="76.22" width="5.3" height="5.3" fill="#231f20"/>
<rect x="67.94" y="67.70" width="5.3" height="5.3" fill="#231f20"/>
<rect x="70.00" y="64.31" width="5.3" height="5.3" fill="#231f20"/>
<rect x="72.06" y="63.90" width="5.3" height="5.3" fill="#231f20"/>
<rect x="74.12" y="64.90" width="5.3" height="5.3" fill="#231f20"/>
<rect x="76.19" y="66.38" width="5.3" height="5.3" fill="#231f20"/>
<rect x="78.25" y="67.92" width="5.3" height="5.3" fill="#231f20"/>
<rect x="80.31" y="69.39" width="5.3" height="5.3" fill="#231f20"/>
<rect x="82.38" y="70.87" width="5.3" height="5.3" fill="#231f20"/>
<rect x="84.44" y="72.39" width="5.3" height="5.3" fill="#231f20"/>
<rect x="86.50" y="73.42" width="5.3" height="5.3" fill="#231f20"/>
<rect x="88.56" y="74.46" width="5.3" height="5.3" fill="#231f20"/>
<rect x="90.62" y="75.56" width="5.3" height="5.3" fill="#231f20"/>
<rect x="92.69" y="77.16" width="5.3" height="5.3" fill="#231f20"/>
<rect x="94.75" y="79.36" width="5.3" height="5.3" fill="#231f20"/>
<rect x="96.81" y="84.60" width="5.3" height="5.3" fill="#231f20"/>
<rect x="98.88" y="89.45" width="5.3" height="5.3" fill="#231f20"/>
<rect x="100.94" y="92.58" width="5.3" height="5.3" fill="#231f20"/>
<rect x="103.00" y="96.20" width="5.3" height="5.3" fill="#231f20"/>
<rect x="105.06" y="99.34" width="5.3" height="5.3" fill="#231f20"/>
<rect x="107.12" y="102.52" width="5.3" height="5.3" fill="#231f20"/>
<rect x="109.19" y="106.05" width="5.3" height="5.3" fill="#231f20"/>
<rect x="111.25" y="108.68" width="5.3" height="5.3" fill="#231f20"/>
<rect x="113.31" y="111.31" width="5.3" height="5.3" fill="#231f20"/>
<rect x="115.38" y="113.93" width="5.3" height="5.3" fill="#231f20"/>
<rect x="117.44" y="116.56" width="5.3" height="5.3" fill="#231f20"/>
<rect x="119.50" y="119.43" width="5.3" height="5.3" fill="#231f20"/>
<rect x="121.56" y="122.54" width="5.3" height="5.3" fill="#231f20"/>
<rect x="123.62" y="125.64" width="5.3" height="5.3" fill="#231f20"/>
<rect x="125.69" y="128.75" width="5.3" height="5.3" fill="#231f20"/>
<rect x="127.75" y="131.43" width="5.3" height="5.3" fill="#231f20"/>
<rect x="129.81" y="133.80" width="5.3" height="5.3" fill="#231f20"/>
<rect x="131.88" y="136.17" width="5.3" height="5.3" fill="#231f20"/>
<rect x="133.94" y="138.54" width="5.3" height="5.3" fill="#231f20"/>
<rect x="136.00" y="140.89" width="5.3" height="5.3" fill="#231f20"/>
<rect x="138.06" y="142.52" width="5.3" height="5.3" fill="#231f20"/>
<rect x="140.12" y="144.15" width="5.3" height="5.3" fill="#231f20"/>
<rect x="142.19" y="145.77" width="5.3" height="5.3" fill="#231f20"/>
<rect x="144.25" y="147.40" width="5.3" height="5.3" fill="#231f20"/>
<rect x="146.31" y="149.03" width="5.3" height="5.3" fill="#231f20"/>
<rect x="148.38" y="150.13" width="5.3" height="5.3" fill="#231f20"/>
<rect x="150.44" y="150.68" width="5.3" height="5.3" fill="#231f20"/>
<rect x="152.50" y="151.24" width="5.3" height="5.3" fill="#231f20"/>
<rect x="154.56" y="151.80" width="5.3" height="5.3" fill="#231f20"/>
<rect x="156.62" y="152.35" width="5.3" height="5.3" fill="#231f20"/>
<rect x="158.69" y="153.34" width="5.3" height="5.3" fill="#231f20"/>
<rect x="160.75" y="154.57" width="5.3" height="5.3" fill="#231f20"/>
<rect x="162.81" y="155.79" width="5.3" height="5.3" fill="#231f20"/>
<rect x="164.88" y="157.01" width="5.3" height="5.3" fill="#231f20"/>
<rect x="166.94" y="158.80" width="5.3" height="5.3" fill="#231f20"/>
<rect x="169.00" y="161.21" width="5.3" height="5.3" fill="#231f20"/>
<rect x="171.06" y="163.62" width="5.3" height="5.3" fill="#231f20"/>
<rect x="173.12" y="166.03" width="5.3" height="5.3" fill="#231f20"/>
<rect x="175.19" y="168.44" width="5.3" height="5.3" fill="#231f20"/>
<rect x="177.25" y="171.04" width="5.3" height="5.3" fill="#231f20"/>
<rect x="179.31" y="173.77" width="5.3" height="5.3" fill="#231f20"/>
<rect x="181.38" y="176.50" width="5.3" height="5.3" fill="#231f20"/>
<rect x="183.44" y="179.23" width="5.3" height="5.3" fill="#231f20"/>
<rect x="185.50" y="181.96" width="5.3" height="5.3" fill="#231f20"/>
<rect x="187.56" y="184.45" width="5.3" height="5.3" fill="#231f20"/>
<rect x="189.62" y="186.81" width="5.3" height="5.3" fill="#231f20"/>
<rect x="191.69" y="189.17" width="5.3" height="5.3" fill="#231f20"/>
<rect x="193.75" y="191.53" width="5.3" height="5.3" fill="#231f20"/>
<rect x="195.81" y="193.89" width="5.3" height="5.3" fill="#231f20"/>
<rect x="197.88" y="196.25" width="5.3" height="5.3" fill="#231f20"/>
<rect x="199.94" y="198.08" width="5.3" height="5.3" fill="#231f20"/>
<rect x="202.00" y="199.86" width="5.3" height="5.3" fill="#231f20"/>
<rect x="204.06" y="201.65" width="5.3" height="5.3" fill="#231f20"/>
<rect x="206.12" y="203.43" width="5.3" height="5.3" fill="#231f20"/>
<rect x="208.19" y="205.21" width="5.3" height="5.3" fill="#231f20"/>
<rect x="210.25" y="206.93" width="5.3" height="5.3" fill="#231f20"/>
<rect x="212.31" y="208.40" width="5.3" height="5.3" fill="#231f20"/>
<rect x="214.38" y="209.87" width="5.3" height="5.3" fill="#231f20"/>
<rect x="216.44" y="211.34" width="5.3" height="5.3" fill="#231f20"/>
<rect x="218.50" y="212.81" width="5.3" height="5.3" fill="#231f20"/>
<rect x="220.56" y="214.28" width="5.3" height="5.3" fill="#231f20"/>
<rect x="222.62" y="215.86" width="5.3" height="5.3" fill="#231f20"/>
<rect x="224.69" y="217.56" width="5.3" height="5.3" fill="#231f20"/>
<rect x="226.75" y="219.27" width="5.3" height="5.3" fill="#231f20"/>
<rect x="64.21" y="112.61" width="4.5" height="4.5" fill="#cbcccd" stroke="#231f20" stroke-width="0.8"/>
<rect x="66.28" y="93.42" width="4.5" height="4.5" fill="#cbcccd" stroke="#231f20" stroke-width="0.8"/>
<rect x="68.34" y="80.03" width="4.5" height="4.5" fill="#cbcccd" stroke="#231f20" stroke-width="0.8"/>
<rect x="70.40" y="75.29" width="4.5" height="4.5" fill="#cbcccd" stroke="#231f20" stroke-width="0.8"/>
<rect x="72.46" y="75.80" width="4.5" height="4.5" fill="#cbcccd" stroke="#231f20" stroke-width="0.8"/>
<rect x="74.53" y="76.80" width="4.5" height="4.5" fill="#cbcccd" stroke="#231f20" stroke-width="0.8"/>
<rect x="76.59" y="78.27" width="4.5" height="4.5" fill="#cbcccd" stroke="#231f20" stroke-width="0.8"/>
<rect x="78.65" y="79.27" width="4.5" height="4.5" fill="#cbcccd" stroke="#231f20" stroke-width="0.8"/>
<rect x="80.71" y="79.74" width="4.5" height="4.5" fill="#cbcccd" stroke="#231f20" stroke-width="0.8"/>
<rect x="82.78" y="79.23" width="4.5" height="4.5" fill="#cbcccd" stroke="#231f20" stroke-width="0.8"/>
<rect x="84.84" y="77.62" width="4.5" height="4.5" fill="#cbcccd" stroke="#231f20" stroke-width="0.8"/>
<rect x="86.90" y="74.61" width="4.5" height="4.5" fill="#cbcccd" stroke="#231f20" stroke-width="0.8"/>
<rect x="88.96" y="71.62" width="4.5" height="4.5" fill="#cbcccd" stroke="#231f20" stroke-width="0.8"/>
<rect x="91.03" y="75.37" width="4.5" height="4.5" fill="#cbcccd" stroke="#231f20" stroke-width="0.8"/>
<rect x="93.09" y="82.06" width="4.5" height="4.5" fill="#cbcccd" stroke="#231f20" stroke-width="0.8"/>
<rect x="95.15" y="89.52" width="4.5" height="4.5" fill="#cbcccd" stroke="#231f20" stroke-width="0.8"/>
<rect x="97.21" y="94.95" width="4.5" height="4.5" fill="#cbcccd" stroke="#231f20" stroke-width="0.8"/>
<rect x="99.28" y="100.24" width="4.5" height="4.5" fill="#cbcccd" stroke="#231f20" stroke-width="0.8"/>
<rect x="101.34" y="104.68" width="4.5" height="4.5" fill="#cbcccd" stroke="#231f20" stroke-width="0.8"/>
<rect x="103.40" y="108.98" width="4.5" height="4.5" fill="#cbcccd" stroke="#231f20" stroke-width="0.8"/>
<rect x="105.46" y="113.21" width="4.5" height="4.5" fill="#cbcccd" stroke="#231f20" stroke-width="0.8"/>
<rect x="107.53" y="116.17" width="4.5" height="4.5" fill="#cbcccd" stroke="#231f20" stroke-width="0.8"/>
<rect x="109.59" y="119.14" width="4.5" height="4.5" fill="#cbcccd" stroke="#231f20" stroke-width="0.8"/>
<rect x="111.65" y="122.10" width="4.5" height="4.5" fill="#cbcccd" stroke="#231f20" stroke-width="0.8"/>
<rect x="113.71" y="125.06" width="4.5" height="4.5" fill="#cbcccd" stroke="#231f20" stroke-width="0.8"/>
<rect x="115.78" y="128.26" width="4.5" height="4.5" fill="#cbcccd" stroke="#231f20" stroke-width="0.8"/>
<rect x="117.84" y="131.70" width="4.5" height="4.5" fill="#cbcccd" stroke="#231f20" stroke-width="0.8"/>
<rect x="119.90" y="135.13" width="4.5" height="4.5" fill="#cbcccd" stroke="#231f20" stroke-width="0.8"/>
<rect x="121.96" y="138.57" width="4.5" height="4.5" fill="#cbcccd" stroke="#231f20" stroke-width="0.8"/>
<rect x="124.03" y="141.89" width="4.5" height="4.5" fill="#cbcccd" stroke="#231f20" stroke-width="0.8"/>
<rect x="126.09" y="145.13" width="4.5" height="4.5" fill="#cbcccd" stroke="#231f20" stroke-width="0.8"/>
<rect x="128.15" y="148.36" width="4.5" height="4.5" fill="#cbcccd" stroke="#231f20" stroke-width="0.8"/>
<rect x="130.21" y="151.60" width="4.5" height="4.5" fill="#cbcccd" stroke="#231f20" stroke-width="0.8"/>
<rect x="132.28" y="154.83" width="4.5" height="4.5" fill="#cbcccd" stroke="#231f20" stroke-width="0.8"/>
<rect x="134.34" y="156.41" width="4.5" height="4.5" fill="#cbcccd" stroke="#231f20" stroke-width="0.8"/>
<rect x="136.40" y="157.92" width="4.5" height="4.5" fill="#cbcccd" stroke="#231f20" stroke-width="0.8"/>
<rect x="138.46" y="159.44" width="4.5" height="4.5" fill="#cbcccd" stroke="#231f20" stroke-width="0.8"/>
<rect x="140.53" y="160.95" width="4.5" height="4.5" fill="#cbcccd" stroke="#231f20" stroke-width="0.8"/>
<rect x="142.59" y="162.46" width="4.5" height="4.5" fill="#cbcccd" stroke="#231f20" stroke-width="0.8"/>
<rect x="144.65" y="163.98" width="4.5" height="4.5" fill="#cbcccd" stroke="#231f20" stroke-width="0.8"/>
<rect x="146.71" y="165.49" width="4.5" height="4.5" fill="#cbcccd" stroke="#231f20" stroke-width="0.8"/>
<rect x="148.78" y="167.36" width="4.5" height="4.5" fill="#cbcccd" stroke="#231f20" stroke-width="0.8"/>
<rect x="150.84" y="169.61" width="4.5" height="4.5" fill="#cbcccd" stroke="#231f20" stroke-width="0.8"/>
<rect x="152.90" y="171.85" width="4.5" height="4.5" fill="#cbcccd" stroke="#231f20" stroke-width="0.8"/>
<rect x="154.96" y="174.10" width="4.5" height="4.5" fill="#cbcccd" stroke="#231f20" stroke-width="0.8"/>
<rect x="157.03" y="176.34" width="4.5" height="4.5" fill="#cbcccd" stroke="#231f20" stroke-width="0.8"/>
<rect x="159.09" y="178.61" width="4.5" height="4.5" fill="#cbcccd" stroke="#231f20" stroke-width="0.8"/>
<rect x="161.15" y="180.90" width="4.5" height="4.5" fill="#cbcccd" stroke="#231f20" stroke-width="0.8"/>
<rect x="163.21" y="183.19" width="4.5" height="4.5" fill="#cbcccd" stroke="#231f20" stroke-width="0.8"/>
<rect x="165.28" y="185.48" width="4.5" height="4.5" fill="#cbcccd" stroke="#231f20" stroke-width="0.8"/>
<rect x="167.34" y="187.77" width="4.5" height="4.5" fill="#cbcccd" stroke="#231f20" stroke-width="0.8"/>
<rect x="169.40" y="189.63" width="4.5" height="4.5" fill="#cbcccd" stroke="#231f20" stroke-width="0.8"/>
<rect x="171.46" y="191.26" width="4.5" height="4.5" fill="#cbcccd" stroke="#231f20" stroke-width="0.8"/>
<rect x="173.53" y="192.89" width="4.5" height="4.5" fill="#cbcccd" stroke="#231f20" stroke-width="0.8"/>
<rect x="175.59" y="194.52" width="4.5" height="4.5" fill="#cbcccd" stroke="#231f20" stroke-width="0.8"/>
<rect x="177.65" y="196.15" width="4.5" height="4.5" fill="#cbcccd" stroke="#231f20" stroke-width="0.8"/>
<rect x="179.71" y="197.99" width="4.5" height="4.5" fill="#cbcccd" stroke="#231f20" stroke-width="0.8"/>
<rect x="181.78" y="199.89" width="4.5" height="4.5" fill="#cbcccd" stroke="#231f20" stroke-width="0.8"/>
<rect x="183.84" y="201.79" width="4.5" height="4.5" fill="#cbcccd" stroke="#231f20" stroke-width="0.8"/>
<rect x="185.90" y="203.69" width="4.5" height="4.5" fill="#cbcccd" stroke="#231f20" stroke-width="0.8"/>
<rect x="187.96" y="205.59" width="4.5" height="4.5" fill="#cbcccd" stroke="#231f20" stroke-width="0.8"/>
<rect x="190.03" y="207.31" width="4.5" height="4.5" fill="#cbcccd" stroke="#231f20" stroke-width="0.8"/>
<rect x="192.09" y="209.01" width="4.5" height="4.5" fill="#cbcccd" stroke="#231f20" stroke-width="0.8"/>
<rect x="194.15" y="210.71" width="4.5" height="4.5" fill="#cbcccd" stroke="#231f20" stroke-width="0.8"/>
<rect x="196.21" y="212.41" width="4.5" height="4.5" fill="#cbcccd" stroke="#231f20" stroke-width="0.8"/>
<rect x="198.28" y="214.11" width="4.5" height="4.5" fill="#cbcccd" stroke="#231f20" stroke-width="0.8"/>
<rect x="200.34" y="215.47" width="4.5" height="4.5" fill="#cbcccd" stroke="#231f20" stroke-width="0.8"/>
<rect x="202.40" y="216.79" width="4.5" height="4.5" fill="#cbcccd" stroke="#231f20" stroke-width="0.8"/>
<rect x="204.46" y="218.12" width="4.5" height="4.5" fill="#cbcccd" stroke="#231f20" stroke-width="0.8"/>
<rect x="206.53" y="219.45" width="4.5" height="4.5" fill="#cbcccd" stroke="#231f20" stroke-width="0.8"/>
<rect x="208.59" y="220.78" width="4.5" height="4.5" fill="#cbcccd" stroke="#231f20" stroke-width="0.8"/>
<rect x="210.65" y="222.08" width="4.5" height="4.5" fill="#cbcccd" stroke="#231f20" stroke-width="0.8"/>
<rect x="212.71" y="223.29" width="4.5" height="4.5" fill="#cbcccd" stroke="#231f20" stroke-width="0.8"/>
<rect x="214.78" y="224.49" width="4.5" height="4.5" fill="#cbcccd" stroke="#231f20" stroke-width="0.8"/>
<rect x="216.84" y="225.70" width="4.5" height="4.5" fill="#cbcccd" stroke="#231f20" stroke-width="0.8"/>
<rect x="218.90" y="226.90" width="4.5" height="4.5" fill="#cbcccd" stroke="#231f20" stroke-width="0.8"/>
<rect x="220.96" y="228.09" width="4.5" height="4.5" fill="#cbcccd" stroke="#231f20" stroke-width="0.8"/>
<rect x="223.03" y="229.24" width="4.5" height="4.5" fill="#cbcccd" stroke="#231f20" stroke-width="0.8"/>
<rect x="225.09" y="230.40" width="4.5" height="4.5" fill="#cbcccd" stroke="#231f20" stroke-width="0.8"/>
<rect x="227.15" y="231.55" width="4.5" height="4.5" fill="#cbcccd" stroke="#231f20" stroke-width="0.8"/>
<line x1="261.45" y1="75.39" x2="261.45" y2="88.61" stroke="#c4c4c4" stroke-width="0.9"/>
<line x1="263.51" y1="68.26" x2="263.51" y2="81.67" stroke="#c4c4c4" stroke-width="0.9"/>
<line x1="265.56" y1="61.85" x2="265.56" y2="75.45" stroke="#c4c4c4" stroke-width="0.9"/>
<line x1="267.62" y1="60.19" x2="267.62" y2="73.97" stroke="#c4c4c4" stroke-width="0.9"/>
<line x1="269.67" y1="59.53" x2="269.67" y2="73.50" stroke="#c4c4c4" stroke-width="0.9"/>
<line x1="271.73" y1="58.95" x2="271.73" y2="73.53" stroke="#c4c4c4" stroke-width="0.9"/>
<line x1="273.78" y1="58.82" x2="273.78" y2="74.08" stroke="#c4c4c4" stroke-width="0.9"/>
<line x1="275.84" y1="60.22" x2="275.84" y2="76.17" stroke="#c4c4c4" stroke-width="0.9"/>
<line x1="277.89" y1="61.93" x2="277.89" y2="78.56" stroke="#c4c4c4" stroke-width="0.9"/>
<line x1="279.95" y1="62.50" x2="279.95" y2="79.81" stroke="#c4c4c4" stroke-width="0.9"/>
<line x1="282.00" y1="61.97" x2="282.00" y2="79.97" stroke="#c4c4c4" stroke-width="0.9"/>
<line x1="284.06" y1="60.76" x2="284.06" y2="79.45" stroke="#c4c4c4" stroke-width="0.9"/>
<line x1="286.12" y1="60.48" x2="286.12" y2="79.11" stroke="#c4c4c4" stroke-width="0.9"/>
<line x1="288.17" y1="66.78" x2="288.17" y2="84.73" stroke="#c4c4c4" stroke-width="0.9"/>
<line x1="290.22" y1="73.84" x2="290.22" y2="91.09" stroke="#c4c4c4" stroke-width="0.9"/>
<line x1="292.28" y1="80.94" x2="292.28" y2="97.51" stroke="#c4c4c4" stroke-width="0.9"/>
<line x1="294.33" y1="87.42" x2="294.33" y2="103.30" stroke="#c4c4c4" stroke-width="0.9"/>
<line x1="296.39" y1="92.48" x2="296.39" y2="107.68" stroke="#c4c4c4" stroke-width="0.9"/>
<line x1="298.44" y1="95.06" x2="298.44" y2="109.58" stroke="#c4c4c4" stroke-width="0.9"/>
<line x1="300.50" y1="96.65" x2="300.50" y2="110.64" stroke="#c4c4c4" stroke-width="0.9"/>
<line x1="302.56" y1="97.77" x2="302.56" y2="111.69" stroke="#c4c4c4" stroke-width="0.9"/>
<line x1="304.61" y1="98.75" x2="304.61" y2="112.60" stroke="#c4c4c4" stroke-width="0.9"/>
<line x1="306.66" y1="99.62" x2="306.66" y2="113.40" stroke="#c4c4c4" stroke-width="0.9"/>
<line x1="308.72" y1="100.48" x2="308.72" y2="114.20" stroke="#c4c4c4" stroke-width="0.9"/>
<line x1="310.77" y1="101.52" x2="310.77" y2="115.17" stroke="#c4c4c4" stroke-width="0.9"/>
<line x1="312.83" y1="103.13" x2="312.83" y2="116.72" stroke="#c4c4c4" stroke-width="0.9"/>
<line x1="314.88" y1="104.74" x2="314.88" y2="118.26" stroke="#c4c4c4" stroke-width="0.9"/>
<line x1="316.94" y1="106.65" x2="316.94" y2="120.10" stroke="#c4c4c4" stroke-width="0.9"/>
<line x1="319.00" y1="108.75" x2="319.00" y2="122.14" stroke="#c4c4c4" stroke-width="0.9"/>
<line x1="321.05" y1="110.86" x2="321.05" y2="124.18" stroke="#c4c4c4" stroke-width="0.9"/>
<line x1="323.11" y1="112.96" x2="323.11" y2="126.22" stroke="#c4c4c4" stroke-width="0.9"/>
<line x1="325.16" y1="115.07" x2="325.16" y2="128.26" stroke="#c4c4c4" stroke-width="0.9"/>
<line x1="327.21" y1="117.17" x2="327.21" y2="130.30" stroke="#c4c4c4" stroke-width="0.9"/>
<line x1="329.27" y1="119.28" x2="329.27" y2="132.33" stroke="#c4c4c4" stroke-width="0.9"/>
<line x1="331.32" y1="121.38" x2="331.32" y2="134.37" stroke="#c4c4c4" stroke-width="0.9"/>
<line x1="333.38" y1="123.49" x2="333.38" y2="136.41" stroke="#c4c4c4" stroke-width="0.9"/>
<line x1="335.44" y1="125.59" x2="335.44" y2="138.45" stroke="#c4c4c4" stroke-width="0.9"/>
<line x1="337.49" y1="127.70" x2="337.49" y2="140.49" stroke="#c4c4c4" stroke-width="0.9"/>
<line x1="339.54" y1="129.80" x2="339.54" y2="142.53" stroke="#c4c4c4" stroke-width="0.9"/>
<line x1="341.60" y1="131.91" x2="341.60" y2="144.56" stroke="#c4c4c4" stroke-width="0.9"/>
<line x1="343.65" y1="134.01" x2="343.65" y2="146.60" stroke="#c4c4c4" stroke-width="0.9"/>
<line x1="345.71" y1="136.12" x2="345.71" y2="148.64" stroke="#c4c4c4" stroke-width="0.9"/>
<line x1="347.76" y1="138.22" x2="347.76" y2="150.68" stroke="#c4c4c4" stroke-width="0.9"/>
<line x1="349.82" y1="140.33" x2="349.82" y2="152.72" stroke="#c4c4c4" stroke-width="0.9"/>
<line x1="351.88" y1="142.43" x2="351.88" y2="154.76" stroke="#c4c4c4" stroke-width="0.9"/>
<line x1="353.93" y1="144.53" x2="353.93" y2="156.80" stroke="#c4c4c4" stroke-width="0.9"/>
<line x1="355.99" y1="146.64" x2="355.99" y2="158.83" stroke="#c4c4c4" stroke-width="0.9"/>
<line x1="358.04" y1="148.74" x2="358.04" y2="160.87" stroke="#c4c4c4" stroke-width="0.9"/>
<line x1="360.10" y1="150.85" x2="360.10" y2="162.91" stroke="#c4c4c4" stroke-width="0.9"/>
<line x1="362.15" y1="152.84" x2="362.15" y2="164.84" stroke="#c4c4c4" stroke-width="0.9"/>
<line x1="364.20" y1="154.82" x2="364.20" y2="166.75" stroke="#c4c4c4" stroke-width="0.9"/>
<line x1="366.26" y1="156.81" x2="366.26" y2="168.67" stroke="#c4c4c4" stroke-width="0.9"/>
<line x1="368.31" y1="158.79" x2="368.31" y2="170.58" stroke="#c4c4c4" stroke-width="0.9"/>
<line x1="370.37" y1="160.78" x2="370.37" y2="172.51" stroke="#c4c4c4" stroke-width="0.9"/>
<line x1="372.43" y1="163.07" x2="372.43" y2="174.73" stroke="#c4c4c4" stroke-width="0.9"/>
<line x1="374.48" y1="165.35" x2="374.48" y2="176.95" stroke="#c4c4c4" stroke-width="0.9"/>
<line x1="376.53" y1="167.64" x2="376.53" y2="179.17" stroke="#c4c4c4" stroke-width="0.9"/>
<line x1="378.59" y1="169.93" x2="378.59" y2="181.39" stroke="#c4c4c4" stroke-width="0.9"/>
<line x1="380.64" y1="172.15" x2="380.64" y2="183.55" stroke="#c4c4c4" stroke-width="0.9"/>
<line x1="382.70" y1="173.91" x2="382.70" y2="185.25" stroke="#c4c4c4" stroke-width="0.9"/>
<line x1="384.75" y1="175.67" x2="384.75" y2="186.94" stroke="#c4c4c4" stroke-width="0.9"/>
<line x1="386.81" y1="177.43" x2="386.81" y2="188.63" stroke="#c4c4c4" stroke-width="0.9"/>
<line x1="388.87" y1="179.19" x2="388.87" y2="190.32" stroke="#c4c4c4" stroke-width="0.9"/>
<line x1="390.92" y1="180.95" x2="390.92" y2="192.02" stroke="#c4c4c4" stroke-width="0.9"/>
<line x1="392.98" y1="182.71" x2="392.98" y2="193.71" stroke="#c4c4c4" stroke-width="0.9"/>
<line x1="395.03" y1="184.47" x2="395.03" y2="195.41" stroke="#c4c4c4" stroke-width="0.9"/>
<line x1="397.09" y1="186.24" x2="397.09" y2="197.10" stroke="#c4c4c4" stroke-width="0.9"/>
<line x1="399.14" y1="188.00" x2="399.14" y2="198.80" stroke="#c4c4c4" stroke-width="0.9"/>
<line x1="401.19" y1="189.76" x2="401.19" y2="200.50" stroke="#c4c4c4" stroke-width="0.9"/>
<line x1="403.25" y1="191.52" x2="403.25" y2="202.19" stroke="#c4c4c4" stroke-width="0.9"/>
<line x1="405.31" y1="193.28" x2="405.31" y2="203.88" stroke="#c4c4c4" stroke-width="0.9"/>
<line x1="407.36" y1="195.04" x2="407.36" y2="205.57" stroke="#c4c4c4" stroke-width="0.9"/>
<line x1="409.42" y1="196.80" x2="409.42" y2="207.27" stroke="#c4c4c4" stroke-width="0.9"/>
<line x1="411.47" y1="198.50" x2="411.47" y2="208.90" stroke="#c4c4c4" stroke-width="0.9"/>
<line x1="413.52" y1="200.08" x2="413.52" y2="210.41" stroke="#c4c4c4" stroke-width="0.9"/>
<line x1="415.58" y1="201.66" x2="415.58" y2="211.93" stroke="#c4c4c4" stroke-width="0.9"/>
<line x1="417.63" y1="203.24" x2="417.63" y2="213.44" stroke="#c4c4c4" stroke-width="0.9"/>
<line x1="419.69" y1="204.82" x2="419.69" y2="214.96" stroke="#c4c4c4" stroke-width="0.9"/>
<line x1="421.75" y1="206.27" x2="421.75" y2="216.34" stroke="#c4c4c4" stroke-width="0.9"/>
<line x1="423.80" y1="207.48" x2="423.80" y2="217.49" stroke="#c4c4c4" stroke-width="0.9"/>
<line x1="261.45" y1="109.65" x2="261.45" y2="121.66" stroke="#231f20" stroke-width="0.9"/>
<line x1="263.51" y1="93.61" x2="263.51" y2="105.63" stroke="#231f20" stroke-width="0.9"/>
<line x1="265.56" y1="86.13" x2="265.56" y2="98.16" stroke="#231f20" stroke-width="0.9"/>
<line x1="267.62" y1="83.72" x2="267.62" y2="95.76" stroke="#231f20" stroke-width="0.9"/>
<line x1="269.67" y1="82.80" x2="269.67" y2="94.85" stroke="#231f20" stroke-width="0.9"/>
<line x1="271.73" y1="82.32" x2="271.73" y2="94.38" stroke="#231f20" stroke-width="0.9"/>
<line x1="273.78" y1="81.93" x2="273.78" y2="93.99" stroke="#231f20" stroke-width="0.9"/>
<line x1="275.84" y1="81.59" x2="275.84" y2="93.66" stroke="#231f20" stroke-width="0.9"/>
<line x1="277.89" y1="81.31" x2="277.89" y2="93.39" stroke="#231f20" stroke-width="0.9"/>
<line x1="279.95" y1="81.35" x2="279.95" y2="93.44" stroke="#231f20" stroke-width="0.9"/>
<line x1="282.00" y1="81.84" x2="282.00" y2="93.94" stroke="#231f20" stroke-width="0.9"/>
<line x1="284.06" y1="83.96" x2="284.06" y2="96.07" stroke="#231f20" stroke-width="0.9"/>
<line x1="286.12" y1="89.21" x2="286.12" y2="101.33" stroke="#231f20" stroke-width="0.9"/>
<line x1="288.17" y1="93.76" x2="288.17" y2="105.89" stroke="#231f20" stroke-width="0.9"/>
<line x1="290.22" y1="97.54" x2="290.22" y2="109.67" stroke="#231f20" stroke-width="0.9"/>
<line x1="292.28" y1="101.23" x2="292.28" y2="113.33" stroke="#231f20" stroke-width="0.9"/>
<line x1="294.33" y1="104.32" x2="294.33" y2="116.40" stroke="#231f20" stroke-width="0.9"/>
<line x1="296.39" y1="107.14" x2="296.39" y2="119.19" stroke="#231f20" stroke-width="0.9"/>
<line x1="298.44" y1="110.45" x2="298.44" y2="122.47" stroke="#231f20" stroke-width="0.9"/>
<line x1="300.50" y1="111.74" x2="300.50" y2="123.74" stroke="#231f20" stroke-width="0.9"/>
<line x1="302.56" y1="112.73" x2="302.56" y2="124.73" stroke="#231f20" stroke-width="0.9"/>
<line x1="304.61" y1="113.35" x2="304.61" y2="125.35" stroke="#231f20" stroke-width="0.9"/>
<line x1="306.66" y1="113.50" x2="306.66" y2="125.50" stroke="#231f20" stroke-width="0.9"/>
<line x1="308.72" y1="113.49" x2="308.72" y2="125.49" stroke="#231f20" stroke-width="0.9"/>
<line x1="310.77" y1="113.37" x2="310.77" y2="125.37" stroke="#231f20" stroke-width="0.9"/>
<line x1="312.83" y1="113.22" x2="312.83" y2="125.22" stroke="#231f20" stroke-width="0.9"/>
<line x1="314.88" y1="113.04" x2="314.88" y2="125.04" stroke="#231f20" stroke-width="0.9"/>
<line x1="316.94" y1="113.50" x2="316.94" y2="125.50" stroke="#231f20" stroke-width="0.9"/>
<line x1="319.00" y1="114.39" x2="319.00" y2="126.39" stroke="#231f20" stroke-width="0.9"/>
<line x1="321.05" y1="116.45" x2="321.05" y2="128.45" stroke="#231f20" stroke-width="0.9"/>
<line x1="323.11" y1="118.50" x2="323.11" y2="130.50" stroke="#231f20" stroke-width="0.9"/>
<line x1="325.16" y1="120.56" x2="325.16" y2="132.56" stroke="#231f20" stroke-width="0.9"/>
<line x1="327.21" y1="122.61" x2="327.21" y2="134.61" stroke="#231f20" stroke-width="0.9"/>
<line x1="329.27" y1="124.67" x2="329.27" y2="136.67" stroke="#231f20" stroke-width="0.9"/>
<line x1="331.32" y1="126.72" x2="331.32" y2="138.72" stroke="#231f20" stroke-width="0.9"/>
<line x1="333.38" y1="128.78" x2="333.38" y2="140.78" stroke="#231f20" stroke-width="0.9"/>
<line x1="335.44" y1="130.84" x2="335.44" y2="142.84" stroke="#231f20" stroke-width="0.9"/>
<line x1="337.49" y1="132.88" x2="337.49" y2="144.88" stroke="#231f20" stroke-width="0.9"/>
<line x1="339.54" y1="134.92" x2="339.54" y2="146.92" stroke="#231f20" stroke-width="0.9"/>
<line x1="341.60" y1="136.96" x2="341.60" y2="148.96" stroke="#231f20" stroke-width="0.9"/>
<line x1="343.65" y1="139.00" x2="343.65" y2="151.00" stroke="#231f20" stroke-width="0.9"/>
<line x1="345.71" y1="141.02" x2="345.71" y2="153.02" stroke="#231f20" stroke-width="0.9"/>
<line x1="347.76" y1="143.05" x2="347.76" y2="155.05" stroke="#231f20" stroke-width="0.9"/>
<line x1="349.82" y1="145.07" x2="349.82" y2="157.07" stroke="#231f20" stroke-width="0.9"/>
<line x1="351.88" y1="147.10" x2="351.88" y2="159.11" stroke="#231f20" stroke-width="0.9"/>
<line x1="353.93" y1="149.12" x2="353.93" y2="161.15" stroke="#231f20" stroke-width="0.9"/>
<line x1="355.99" y1="151.15" x2="355.99" y2="163.19" stroke="#231f20" stroke-width="0.9"/>
<line x1="358.04" y1="153.17" x2="358.04" y2="165.22" stroke="#231f20" stroke-width="0.9"/>
<line x1="360.10" y1="155.19" x2="360.10" y2="167.26" stroke="#231f20" stroke-width="0.9"/>
<line x1="362.15" y1="157.11" x2="362.15" y2="169.19" stroke="#231f20" stroke-width="0.9"/>
<line x1="364.20" y1="159.01" x2="364.20" y2="171.10" stroke="#231f20" stroke-width="0.9"/>
<line x1="366.26" y1="160.91" x2="366.26" y2="173.02" stroke="#231f20" stroke-width="0.9"/>
<line x1="368.31" y1="162.81" x2="368.31" y2="174.93" stroke="#231f20" stroke-width="0.9"/>
<line x1="370.37" y1="164.72" x2="370.37" y2="176.85" stroke="#231f20" stroke-width="0.9"/>
<line x1="372.43" y1="166.76" x2="372.43" y2="178.91" stroke="#231f20" stroke-width="0.9"/>
<line x1="374.48" y1="168.81" x2="374.48" y2="180.97" stroke="#231f20" stroke-width="0.9"/>
<line x1="376.53" y1="170.85" x2="376.53" y2="183.03" stroke="#231f20" stroke-width="0.9"/>
<line x1="378.59" y1="172.90" x2="378.59" y2="185.09" stroke="#231f20" stroke-width="0.9"/>
<line x1="380.64" y1="174.90" x2="380.64" y2="187.11" stroke="#231f20" stroke-width="0.9"/>
<line x1="382.70" y1="176.61" x2="382.70" y2="188.83" stroke="#231f20" stroke-width="0.9"/>
<line x1="384.75" y1="178.32" x2="384.75" y2="190.56" stroke="#231f20" stroke-width="0.9"/>
<line x1="386.81" y1="180.03" x2="386.81" y2="192.28" stroke="#231f20" stroke-width="0.9"/>
<line x1="388.87" y1="181.74" x2="388.87" y2="194.00" stroke="#231f20" stroke-width="0.9"/>
<line x1="390.92" y1="183.45" x2="390.92" y2="195.73" stroke="#231f20" stroke-width="0.9"/>
<line x1="392.98" y1="185.16" x2="392.98" y2="197.45" stroke="#231f20" stroke-width="0.9"/>
<line x1="395.03" y1="186.87" x2="395.03" y2="199.18" stroke="#231f20" stroke-width="0.9"/>
<line x1="397.09" y1="188.59" x2="397.09" y2="200.91" stroke="#231f20" stroke-width="0.9"/>
<line x1="399.14" y1="190.30" x2="399.14" y2="202.63" stroke="#231f20" stroke-width="0.9"/>
<line x1="401.19" y1="192.01" x2="401.19" y2="204.36" stroke="#231f20" stroke-width="0.9"/>
<line x1="403.25" y1="193.72" x2="403.25" y2="206.08" stroke="#231f20" stroke-width="0.9"/>
<line x1="405.31" y1="195.43" x2="405.31" y2="207.80" stroke="#231f20" stroke-width="0.9"/>
<line x1="407.36" y1="197.14" x2="407.36" y2="209.53" stroke="#231f20" stroke-width="0.9"/>
<line x1="409.42" y1="198.85" x2="409.42" y2="211.25" stroke="#231f20" stroke-width="0.9"/>
<line x1="411.47" y1="200.50" x2="411.47" y2="212.91" stroke="#231f20" stroke-width="0.9"/>
<line x1="413.52" y1="202.03" x2="413.52" y2="214.46" stroke="#231f20" stroke-width="0.9"/>
<line x1="415.58" y1="203.56" x2="415.58" y2="216.00" stroke="#231f20" stroke-width="0.9"/>
<line x1="417.63" y1="205.09" x2="417.63" y2="217.55" stroke="#231f20" stroke-width="0.9"/>
<line x1="419.69" y1="206.62" x2="419.69" y2="219.09" stroke="#231f20" stroke-width="0.9"/>
<line x1="421.75" y1="208.02" x2="421.75" y2="220.51" stroke="#231f20" stroke-width="0.9"/>
<line x1="423.80" y1="209.19" x2="423.80" y2="221.69" stroke="#231f20" stroke-width="0.9"/>
<rect x="258.81" y="112.92" width="5.3" height="5.3" fill="#231f20"/>
<rect x="260.86" y="96.81" width="5.3" height="5.3" fill="#231f20"/>
<rect x="262.92" y="89.27" width="5.3" height="5.3" fill="#231f20"/>
<rect x="264.97" y="86.79" width="5.3" height="5.3" fill="#231f20"/>
<rect x="267.02" y="85.81" width="5.3" height="5.3" fill="#231f20"/>
<rect x="269.08" y="85.26" width="5.3" height="5.3" fill="#231f20"/>
<rect x="271.13" y="84.80" width="5.3" height="5.3" fill="#231f20"/>
<rect x="273.19" y="84.39" width="5.3" height="5.3" fill="#231f20"/>
<rect x="275.25" y="84.05" width="5.3" height="5.3" fill="#231f20"/>
<rect x="277.30" y="84.02" width="5.3" height="5.3" fill="#231f20"/>
<rect x="279.36" y="84.45" width="5.3" height="5.3" fill="#231f20"/>
<rect x="281.41" y="86.50" width="5.3" height="5.3" fill="#231f20"/>
<rect x="283.47" y="91.68" width="5.3" height="5.3" fill="#231f20"/>
<rect x="285.52" y="96.17" width="5.3" height="5.3" fill="#231f20"/>
<rect x="287.57" y="99.88" width="5.3" height="5.3" fill="#231f20"/>
<rect x="289.63" y="103.47" width="5.3" height="5.3" fill="#231f20"/>
<rect x="291.69" y="106.45" width="5.3" height="5.3" fill="#231f20"/>
<rect x="293.74" y="109.17" width="5.3" height="5.3" fill="#231f20"/>
<rect x="295.80" y="112.38" width="5.3" height="5.3" fill="#231f20"/>
<rect x="297.85" y="113.59" width="5.3" height="5.3" fill="#231f20"/>
<rect x="299.91" y="114.58" width="5.3" height="5.3" fill="#231f20"/>
<rect x="301.96" y="115.20" width="5.3" height="5.3" fill="#231f20"/>
<rect x="304.01" y="115.35" width="5.3" height="5.3" fill="#231f20"/>
<rect x="306.07" y="115.34" width="5.3" height="5.3" fill="#231f20"/>
<rect x="308.12" y="115.22" width="5.3" height="5.3" fill="#231f20"/>
<rect x="310.18" y="115.07" width="5.3" height="5.3" fill="#231f20"/>
<rect x="312.24" y="114.89" width="5.3" height="5.3" fill="#231f20"/>
<rect x="314.29" y="115.35" width="5.3" height="5.3" fill="#231f20"/>
<rect x="316.35" y="116.24" width="5.3" height="5.3" fill="#231f20"/>
<rect x="318.40" y="118.30" width="5.3" height="5.3" fill="#231f20"/>
<rect x="320.46" y="120.35" width="5.3" height="5.3" fill="#231f20"/>
<rect x="322.51" y="122.41" width="5.3" height="5.3" fill="#231f20"/>
<rect x="324.56" y="124.46" width="5.3" height="5.3" fill="#231f20"/>
<rect x="326.62" y="126.52" width="5.3" height="5.3" fill="#231f20"/>
<rect x="328.68" y="128.57" width="5.3" height="5.3" fill="#231f20"/>
<rect x="330.73" y="130.63" width="5.3" height="5.3" fill="#231f20"/>
<rect x="332.79" y="132.69" width="5.3" height="5.3" fill="#231f20"/>
<rect x="334.84" y="134.73" width="5.3" height="5.3" fill="#231f20"/>
<rect x="336.89" y="136.77" width="5.3" height="5.3" fill="#231f20"/>
<rect x="338.95" y="138.81" width="5.3" height="5.3" fill="#231f20"/>
<rect x="341.00" y="140.85" width="5.3" height="5.3" fill="#231f20"/>
<rect x="343.06" y="142.87" width="5.3" height="5.3" fill="#231f20"/>
<rect x="345.12" y="144.90" width="5.3" height="5.3" fill="#231f20"/>
<rect x="347.17" y="146.92" width="5.3" height="5.3" fill="#231f20"/>
<rect x="349.23" y="148.95" width="5.3" height="5.3" fill="#231f20"/>
<rect x="351.28" y="150.97" width="5.3" height="5.3" fill="#231f20"/>
<rect x="353.34" y="153.00" width="5.3" height="5.3" fill="#231f20"/>
<rect x="355.39" y="155.02" width="5.3" height="5.3" fill="#231f20"/>
<rect x="357.45" y="157.04" width="5.3" height="5.3" fill="#231f20"/>
<rect x="359.50" y="158.96" width="5.3" height="5.3" fill="#231f20"/>
<rect x="361.56" y="160.86" width="5.3" height="5.3" fill="#231f20"/>
<rect x="363.61" y="162.76" width="5.3" height="5.3" fill="#231f20"/>
<rect x="365.67" y="164.66" width="5.3" height="5.3" fill="#231f20"/>
<rect x="367.72" y="166.57" width="5.3" height="5.3" fill="#231f20"/>
<rect x="369.78" y="168.61" width="5.3" height="5.3" fill="#231f20"/>
<rect x="371.83" y="170.66" width="5.3" height="5.3" fill="#231f20"/>
<rect x="373.88" y="172.70" width="5.3" height="5.3" fill="#231f20"/>
<rect x="375.94" y="174.75" width="5.3" height="5.3" fill="#231f20"/>
<rect x="378.00" y="176.75" width="5.3" height="5.3" fill="#231f20"/>
<rect x="380.05" y="178.46" width="5.3" height="5.3" fill="#231f20"/>
<rect x="382.11" y="180.17" width="5.3" height="5.3" fill="#231f20"/>
<rect x="384.16" y="181.88" width="5.3" height="5.3" fill="#231f20"/>
<rect x="386.22" y="183.59" width="5.3" height="5.3" fill="#231f20"/>
<rect x="388.27" y="185.30" width="5.3" height="5.3" fill="#231f20"/>
<rect x="390.33" y="187.01" width="5.3" height="5.3" fill="#231f20"/>
<rect x="392.38" y="188.72" width="5.3" height="5.3" fill="#231f20"/>
<rect x="394.44" y="190.44" width="5.3" height="5.3" fill="#231f20"/>
<rect x="396.49" y="192.15" width="5.3" height="5.3" fill="#231f20"/>
<rect x="398.55" y="193.86" width="5.3" height="5.3" fill="#231f20"/>
<rect x="400.60" y="195.57" width="5.3" height="5.3" fill="#231f20"/>
<rect x="402.66" y="197.28" width="5.3" height="5.3" fill="#231f20"/>
<rect x="404.71" y="198.99" width="5.3" height="5.3" fill="#231f20"/>
<rect x="406.77" y="200.70" width="5.3" height="5.3" fill="#231f20"/>
<rect x="408.82" y="202.35" width="5.3" height="5.3" fill="#231f20"/>
<rect x="410.88" y="203.88" width="5.3" height="5.3" fill="#231f20"/>
<rect x="412.93" y="205.41" width="5.3" height="5.3" fill="#231f20"/>
<rect x="414.99" y="206.94" width="5.3" height="5.3" fill="#231f20"/>
<rect x="417.04" y="208.47" width="5.3" height="5.3" fill="#231f20"/>
<rect x="419.10" y="209.87" width="5.3" height="5.3" fill="#231f20"/>
<rect x="421.15" y="211.04" width="5.3" height="5.3" fill="#231f20"/>
<rect x="259.20" y="80.36" width="4.5" height="4.5" fill="#cbcccd" stroke="#231f20" stroke-width="0.8"/>
<rect x="261.26" y="73.42" width="4.5" height="4.5" fill="#cbcccd" stroke="#231f20" stroke-width="0.8"/>
<rect x="263.31" y="67.20" width="4.5" height="4.5" fill="#cbcccd" stroke="#231f20" stroke-width="0.8"/>
<rect x="265.37" y="65.72" width="4.5" height="4.5" fill="#cbcccd" stroke="#231f20" stroke-width="0.8"/>
<rect x="267.42" y="65.25" width="4.5" height="4.5" fill="#cbcccd" stroke="#231f20" stroke-width="0.8"/>
<rect x="269.48" y="65.28" width="4.5" height="4.5" fill="#cbcccd" stroke="#231f20" stroke-width="0.8"/>
<rect x="271.53" y="65.83" width="4.5" height="4.5" fill="#cbcccd" stroke="#231f20" stroke-width="0.8"/>
<rect x="273.59" y="67.92" width="4.5" height="4.5" fill="#cbcccd" stroke="#231f20" stroke-width="0.8"/>
<rect x="275.64" y="70.31" width="4.5" height="4.5" fill="#cbcccd" stroke="#231f20" stroke-width="0.8"/>
<rect x="277.70" y="71.56" width="4.5" height="4.5" fill="#cbcccd" stroke="#231f20" stroke-width="0.8"/>
<rect x="279.75" y="71.72" width="4.5" height="4.5" fill="#cbcccd" stroke="#231f20" stroke-width="0.8"/>
<rect x="281.81" y="71.20" width="4.5" height="4.5" fill="#cbcccd" stroke="#231f20" stroke-width="0.8"/>
<rect x="283.87" y="70.86" width="4.5" height="4.5" fill="#cbcccd" stroke="#231f20" stroke-width="0.8"/>
<rect x="285.92" y="76.48" width="4.5" height="4.5" fill="#cbcccd" stroke="#231f20" stroke-width="0.8"/>
<rect x="287.97" y="82.84" width="4.5" height="4.5" fill="#cbcccd" stroke="#231f20" stroke-width="0.8"/>
<rect x="290.03" y="89.26" width="4.5" height="4.5" fill="#cbcccd" stroke="#231f20" stroke-width="0.8"/>
<rect x="292.08" y="95.05" width="4.5" height="4.5" fill="#cbcccd" stroke="#231f20" stroke-width="0.8"/>
<rect x="294.14" y="99.43" width="4.5" height="4.5" fill="#cbcccd" stroke="#231f20" stroke-width="0.8"/>
<rect x="296.19" y="101.33" width="4.5" height="4.5" fill="#cbcccd" stroke="#231f20" stroke-width="0.8"/>
<rect x="298.25" y="102.39" width="4.5" height="4.5" fill="#cbcccd" stroke="#231f20" stroke-width="0.8"/>
<rect x="300.31" y="103.46" width="4.5" height="4.5" fill="#cbcccd" stroke="#231f20" stroke-width="0.8"/>
<rect x="302.36" y="104.39" width="4.5" height="4.5" fill="#cbcccd" stroke="#231f20" stroke-width="0.8"/>
<rect x="304.41" y="105.21" width="4.5" height="4.5" fill="#cbcccd" stroke="#231f20" stroke-width="0.8"/>
<rect x="306.47" y="106.02" width="4.5" height="4.5" fill="#cbcccd" stroke="#231f20" stroke-width="0.8"/>
<rect x="308.52" y="107.01" width="4.5" height="4.5" fill="#cbcccd" stroke="#231f20" stroke-width="0.8"/>
<rect x="310.58" y="108.57" width="4.5" height="4.5" fill="#cbcccd" stroke="#231f20" stroke-width="0.8"/>
<rect x="312.63" y="110.13" width="4.5" height="4.5" fill="#cbcccd" stroke="#231f20" stroke-width="0.8"/>
<rect x="314.69" y="111.99" width="4.5" height="4.5" fill="#cbcccd" stroke="#231f20" stroke-width="0.8"/>
<rect x="316.75" y="114.05" width="4.5" height="4.5" fill="#cbcccd" stroke="#231f20" stroke-width="0.8"/>
<rect x="318.80" y="116.10" width="4.5" height="4.5" fill="#cbcccd" stroke="#231f20" stroke-width="0.8"/>
<rect x="320.86" y="118.16" width="4.5" height="4.5" fill="#cbcccd" stroke="#231f20" stroke-width="0.8"/>
<rect x="322.91" y="120.21" width="4.5" height="4.5" fill="#cbcccd" stroke="#231f20" stroke-width="0.8"/>
<rect x="324.96" y="122.26" width="4.5" height="4.5" fill="#cbcccd" stroke="#231f20" stroke-width="0.8"/>
<rect x="327.02" y="124.32" width="4.5" height="4.5" fill="#cbcccd" stroke="#231f20" stroke-width="0.8"/>
<rect x="329.07" y="126.37" width="4.5" height="4.5" fill="#cbcccd" stroke="#231f20" stroke-width="0.8"/>
<rect x="331.13" y="128.43" width="4.5" height="4.5" fill="#cbcccd" stroke="#231f20" stroke-width="0.8"/>
<rect x="333.19" y="130.49" width="4.5" height="4.5" fill="#cbcccd" stroke="#231f20" stroke-width="0.8"/>
<rect x="335.24" y="132.54" width="4.5" height="4.5" fill="#cbcccd" stroke="#231f20" stroke-width="0.8"/>
<rect x="337.29" y="134.59" width="4.5" height="4.5" fill="#cbcccd" stroke="#231f20" stroke-width="0.8"/>
<rect x="339.35" y="136.65" width="4.5" height="4.5" fill="#cbcccd" stroke="#231f20" stroke-width="0.8"/>
<rect x="341.40" y="138.70" width="4.5" height="4.5" fill="#cbcccd" stroke="#231f20" stroke-width="0.8"/>
<rect x="343.46" y="140.76" width="4.5" height="4.5" fill="#cbcccd" stroke="#231f20" stroke-width="0.8"/>
<rect x="345.51" y="142.81" width="4.5" height="4.5" fill="#cbcccd" stroke="#231f20" stroke-width="0.8"/>
<rect x="347.57" y="144.87" width="4.5" height="4.5" fill="#cbcccd" stroke="#231f20" stroke-width="0.8"/>
<rect x="349.62" y="146.93" width="4.5" height="4.5" fill="#cbcccd" stroke="#231f20" stroke-width="0.8"/>
<rect x="351.68" y="148.98" width="4.5" height="4.5" fill="#cbcccd" stroke="#231f20" stroke-width="0.8"/>
<rect x="353.74" y="151.04" width="4.5" height="4.5" fill="#cbcccd" stroke="#231f20" stroke-width="0.8"/>
<rect x="355.79" y="153.09" width="4.5" height="4.5" fill="#cbcccd" stroke="#231f20" stroke-width="0.8"/>
<rect x="357.85" y="155.15" width="4.5" height="4.5" fill="#cbcccd" stroke="#231f20" stroke-width="0.8"/>
<rect x="359.90" y="157.09" width="4.5" height="4.5" fill="#cbcccd" stroke="#231f20" stroke-width="0.8"/>
<rect x="361.95" y="159.02" width="4.5" height="4.5" fill="#cbcccd" stroke="#231f20" stroke-width="0.8"/>
<rect x="364.01" y="160.95" width="4.5" height="4.5" fill="#cbcccd" stroke="#231f20" stroke-width="0.8"/>
<rect x="366.06" y="162.88" width="4.5" height="4.5" fill="#cbcccd" stroke="#231f20" stroke-width="0.8"/>
<rect x="368.12" y="164.83" width="4.5" height="4.5" fill="#cbcccd" stroke="#231f20" stroke-width="0.8"/>
<rect x="370.18" y="167.06" width="4.5" height="4.5" fill="#cbcccd" stroke="#231f20" stroke-width="0.8"/>
<rect x="372.23" y="169.30" width="4.5" height="4.5" fill="#cbcccd" stroke="#231f20" stroke-width="0.8"/>
<rect x="374.28" y="171.54" width="4.5" height="4.5" fill="#cbcccd" stroke="#231f20" stroke-width="0.8"/>
<rect x="376.34" y="173.78" width="4.5" height="4.5" fill="#cbcccd" stroke="#231f20" stroke-width="0.8"/>
<rect x="378.39" y="175.95" width="4.5" height="4.5" fill="#cbcccd" stroke="#231f20" stroke-width="0.8"/>
<rect x="380.45" y="177.66" width="4.5" height="4.5" fill="#cbcccd" stroke="#231f20" stroke-width="0.8"/>
<rect x="382.50" y="179.37" width="4.5" height="4.5" fill="#cbcccd" stroke="#231f20" stroke-width="0.8"/>
<rect x="384.56" y="181.08" width="4.5" height="4.5" fill="#cbcccd" stroke="#231f20" stroke-width="0.8"/>
<rect x="386.62" y="182.79" width="4.5" height="4.5" fill="#cbcccd" stroke="#231f20" stroke-width="0.8"/>
<rect x="388.67" y="184.50" width="4.5" height="4.5" fill="#cbcccd" stroke="#231f20" stroke-width="0.8"/>
<rect x="390.73" y="186.21" width="4.5" height="4.5" fill="#cbcccd" stroke="#231f20" stroke-width="0.8"/>
<rect x="392.78" y="187.92" width="4.5" height="4.5" fill="#cbcccd" stroke="#231f20" stroke-width="0.8"/>
<rect x="394.84" y="189.64" width="4.5" height="4.5" fill="#cbcccd" stroke="#231f20" stroke-width="0.8"/>
<rect x="396.89" y="191.35" width="4.5" height="4.5" fill="#cbcccd" stroke="#231f20" stroke-width="0.8"/>
<rect x="398.94" y="193.06" width="4.5" height="4.5" fill="#cbcccd" stroke="#231f20" stroke-width="0.8"/>
<rect x="401.00" y="194.77" width="4.5" height="4.5" fill="#cbcccd" stroke="#231f20" stroke-width="0.8"/>
<rect x="403.06" y="196.48" width="4.5" height="4.5" fill="#cbcccd" stroke="#231f20" stroke-width="0.8"/>
<rect x="405.11" y="198.19" width="4.5" height="4.5" fill="#cbcccd" stroke="#231f20" stroke-width="0.8"/>
<rect x="407.17" y="199.90" width="4.5" height="4.5" fill="#cbcccd" stroke="#231f20" stroke-width="0.8"/>
<rect x="409.22" y="201.55" width="4.5" height="4.5" fill="#cbcccd" stroke="#231f20" stroke-width="0.8"/>
<rect x="411.27" y="203.08" width="4.5" height="4.5" fill="#cbcccd" stroke="#231f20" stroke-width="0.8"/>
<rect x="413.33" y="204.61" width="4.5" height="4.5" fill="#cbcccd" stroke="#231f20" stroke-width="0.8"/>
<rect x="415.38" y="206.14" width="4.5" height="4.5" fill="#cbcccd" stroke="#231f20" stroke-width="0.8"/>
<rect x="417.44" y="207.67" width="4.5" height="4.5" fill="#cbcccd" stroke="#231f20" stroke-width="0.8"/>
<rect x="419.50" y="209.07" width="4.5" height="4.5" fill="#cbcccd" stroke="#231f20" stroke-width="0.8"/>
<rect x="421.55" y="210.24" width="4.5" height="4.5" fill="#cbcccd" stroke="#231f20" stroke-width="0.8"/>
<line x1="66.46" y1="411.26" x2="66.46" y2="434.81" stroke="#c4c4c4" stroke-width="0.9"/>
<line x1="68.52" y1="405.00" x2="68.52" y2="428.18" stroke="#c4c4c4" stroke-width="0.9"/>
<line x1="70.57" y1="406.25" x2="70.57" y2="429.06" stroke="#c4c4c4" stroke-width="0.9"/>
<line x1="72.63" y1="408.81" x2="72.63" y2="431.24" stroke="#c4c4c4" stroke-width="0.9"/>
<line x1="74.69" y1="410.13" x2="74.69" y2="432.19" stroke="#c4c4c4" stroke-width="0.9"/>
<line x1="76.75" y1="410.41" x2="76.75" y2="432.09" stroke="#c4c4c4" stroke-width="0.9"/>
<line x1="78.80" y1="410.09" x2="78.80" y2="431.40" stroke="#c4c4c4" stroke-width="0.9"/>
<line x1="80.86" y1="409.41" x2="80.86" y2="430.35" stroke="#c4c4c4" stroke-width="0.9"/>
<line x1="82.92" y1="407.78" x2="82.92" y2="428.34" stroke="#c4c4c4" stroke-width="0.9"/>
<line x1="84.98" y1="403.62" x2="84.98" y2="423.81" stroke="#c4c4c4" stroke-width="0.9"/>
<line x1="87.03" y1="397.33" x2="87.03" y2="417.15" stroke="#c4c4c4" stroke-width="0.9"/>
<line x1="89.09" y1="395.48" x2="89.09" y2="414.92" stroke="#c4c4c4" stroke-width="0.9"/>
<line x1="91.15" y1="397.48" x2="91.15" y2="416.62" stroke="#c4c4c4" stroke-width="0.9"/>
<line x1="93.21" y1="403.56" x2="93.21" y2="422.43" stroke="#c4c4c4" stroke-width="0.9"/>
<line x1="95.26" y1="409.16" x2="95.26" y2="427.76" stroke="#c4c4c4" stroke-width="0.9"/>
<line x1="97.32" y1="412.35" x2="97.32" y2="430.69" stroke="#c4c4c4" stroke-width="0.9"/>
<line x1="99.38" y1="415.25" x2="99.38" y2="433.33" stroke="#c4c4c4" stroke-width="0.9"/>
<line x1="101.44" y1="418.55" x2="101.44" y2="436.26" stroke="#c4c4c4" stroke-width="0.9"/>
<line x1="103.49" y1="420.84" x2="103.49" y2="438.14" stroke="#c4c4c4" stroke-width="0.9"/>
<line x1="105.55" y1="421.79" x2="105.55" y2="438.68" stroke="#c4c4c4" stroke-width="0.9"/>
<line x1="107.61" y1="421.85" x2="107.61" y2="438.33" stroke="#c4c4c4" stroke-width="0.9"/>
<line x1="109.67" y1="419.31" x2="109.67" y2="435.38" stroke="#c4c4c4" stroke-width="0.9"/>
<line x1="111.72" y1="416.31" x2="111.72" y2="431.96" stroke="#c4c4c4" stroke-width="0.9"/>
<line x1="113.78" y1="413.93" x2="113.78" y2="429.17" stroke="#c4c4c4" stroke-width="0.9"/>
<line x1="115.84" y1="411.74" x2="115.84" y2="426.57" stroke="#c4c4c4" stroke-width="0.9"/>
<line x1="117.89" y1="410.91" x2="117.89" y2="425.33" stroke="#c4c4c4" stroke-width="0.9"/>
<line x1="119.95" y1="412.61" x2="119.95" y2="426.62" stroke="#c4c4c4" stroke-width="0.9"/>
<line x1="122.01" y1="417.89" x2="122.01" y2="431.49" stroke="#c4c4c4" stroke-width="0.9"/>
<line x1="124.07" y1="423.50" x2="124.07" y2="436.68" stroke="#c4c4c4" stroke-width="0.9"/>
<line x1="126.12" y1="429.11" x2="126.12" y2="441.88" stroke="#c4c4c4" stroke-width="0.9"/>
<line x1="128.18" y1="435.59" x2="128.18" y2="447.95" stroke="#c4c4c4" stroke-width="0.9"/>
<line x1="130.24" y1="441.89" x2="130.24" y2="453.89" stroke="#c4c4c4" stroke-width="0.9"/>
<line x1="132.30" y1="447.49" x2="132.30" y2="459.49" stroke="#c4c4c4" stroke-width="0.9"/>
<line x1="134.36" y1="452.56" x2="134.36" y2="464.56" stroke="#c4c4c4" stroke-width="0.9"/>
<line x1="136.41" y1="457.03" x2="136.41" y2="469.03" stroke="#c4c4c4" stroke-width="0.9"/>
<line x1="138.47" y1="460.37" x2="138.47" y2="472.37" stroke="#c4c4c4" stroke-width="0.9"/>
<line x1="140.53" y1="462.29" x2="140.53" y2="474.29" stroke="#c4c4c4" stroke-width="0.9"/>
<line x1="142.59" y1="464.38" x2="142.59" y2="476.38" stroke="#c4c4c4" stroke-width="0.9"/>
<line x1="144.64" y1="467.01" x2="144.64" y2="479.01" stroke="#c4c4c4" stroke-width="0.9"/>
<line x1="146.70" y1="469.00" x2="146.70" y2="481.00" stroke="#c4c4c4" stroke-width="0.9"/>
<line x1="148.76" y1="471.14" x2="148.76" y2="483.14" stroke="#c4c4c4" stroke-width="0.9"/>
<line x1="150.81" y1="473.81" x2="150.81" y2="485.81" stroke="#c4c4c4" stroke-width="0.9"/>
<line x1="152.87" y1="477.35" x2="152.87" y2="489.35" stroke="#c4c4c4" stroke-width="0.9"/>
<line x1="154.93" y1="481.07" x2="154.93" y2="493.07" stroke="#c4c4c4" stroke-width="0.9"/>
<line x1="156.99" y1="484.32" x2="156.99" y2="496.32" stroke="#c4c4c4" stroke-width="0.9"/>
<line x1="159.05" y1="486.80" x2="159.05" y2="498.80" stroke="#c4c4c4" stroke-width="0.9"/>
<line x1="161.10" y1="488.33" x2="161.10" y2="500.33" stroke="#c4c4c4" stroke-width="0.9"/>
<line x1="163.16" y1="489.72" x2="163.16" y2="501.72" stroke="#c4c4c4" stroke-width="0.9"/>
<line x1="165.22" y1="491.20" x2="165.22" y2="503.20" stroke="#c4c4c4" stroke-width="0.9"/>
<line x1="167.28" y1="492.69" x2="167.28" y2="504.69" stroke="#c4c4c4" stroke-width="0.9"/>
<line x1="169.33" y1="494.08" x2="169.33" y2="506.08" stroke="#c4c4c4" stroke-width="0.9"/>
<line x1="171.39" y1="495.41" x2="171.39" y2="507.41" stroke="#c4c4c4" stroke-width="0.9"/>
<line x1="173.45" y1="496.68" x2="173.45" y2="508.68" stroke="#c4c4c4" stroke-width="0.9"/>
<line x1="175.50" y1="497.95" x2="175.50" y2="509.95" stroke="#c4c4c4" stroke-width="0.9"/>
<line x1="177.56" y1="499.18" x2="177.56" y2="511.18" stroke="#c4c4c4" stroke-width="0.9"/>
<line x1="179.62" y1="500.19" x2="179.62" y2="512.19" stroke="#c4c4c4" stroke-width="0.9"/>
<line x1="181.68" y1="501.21" x2="181.68" y2="513.21" stroke="#c4c4c4" stroke-width="0.9"/>
<line x1="183.74" y1="502.22" x2="183.74" y2="514.22" stroke="#c4c4c4" stroke-width="0.9"/>
<line x1="185.79" y1="503.47" x2="185.79" y2="515.47" stroke="#c4c4c4" stroke-width="0.9"/>
<line x1="187.85" y1="504.74" x2="187.85" y2="516.74" stroke="#c4c4c4" stroke-width="0.9"/>
<line x1="189.91" y1="506.01" x2="189.91" y2="518.01" stroke="#c4c4c4" stroke-width="0.9"/>
<line x1="191.96" y1="507.29" x2="191.96" y2="519.29" stroke="#c4c4c4" stroke-width="0.9"/>
<line x1="194.02" y1="508.58" x2="194.02" y2="520.58" stroke="#c4c4c4" stroke-width="0.9"/>
<line x1="196.08" y1="509.87" x2="196.08" y2="521.87" stroke="#c4c4c4" stroke-width="0.9"/>
<line x1="198.14" y1="511.07" x2="198.14" y2="523.07" stroke="#c4c4c4" stroke-width="0.9"/>
<line x1="200.20" y1="512.10" x2="200.20" y2="524.10" stroke="#c4c4c4" stroke-width="0.9"/>
<line x1="202.25" y1="513.13" x2="202.25" y2="525.13" stroke="#c4c4c4" stroke-width="0.9"/>
<line x1="204.31" y1="514.14" x2="204.31" y2="526.14" stroke="#c4c4c4" stroke-width="0.9"/>
<line x1="206.37" y1="514.91" x2="206.37" y2="526.91" stroke="#c4c4c4" stroke-width="0.9"/>
<line x1="208.43" y1="515.68" x2="208.43" y2="527.68" stroke="#c4c4c4" stroke-width="0.9"/>
<line x1="210.48" y1="516.44" x2="210.48" y2="528.44" stroke="#c4c4c4" stroke-width="0.9"/>
<line x1="212.54" y1="517.20" x2="212.54" y2="529.20" stroke="#c4c4c4" stroke-width="0.9"/>
<line x1="214.60" y1="517.96" x2="214.60" y2="529.96" stroke="#c4c4c4" stroke-width="0.9"/>
<line x1="216.66" y1="518.72" x2="216.66" y2="530.72" stroke="#c4c4c4" stroke-width="0.9"/>
<line x1="218.71" y1="519.50" x2="218.71" y2="531.50" stroke="#c4c4c4" stroke-width="0.9"/>
<line x1="220.77" y1="520.32" x2="220.77" y2="532.32" stroke="#c4c4c4" stroke-width="0.9"/>
<line x1="222.83" y1="521.14" x2="222.83" y2="533.14" stroke="#c4c4c4" stroke-width="0.9"/>
<line x1="224.88" y1="521.90" x2="224.88" y2="533.90" stroke="#c4c4c4" stroke-width="0.9"/>
<line x1="226.94" y1="522.42" x2="226.94" y2="534.42" stroke="#c4c4c4" stroke-width="0.9"/>
<line x1="229.00" y1="522.95" x2="229.00" y2="534.95" stroke="#c4c4c4" stroke-width="0.9"/>
<line x1="66.46" y1="395.03" x2="66.46" y2="406.78" stroke="#231f20" stroke-width="0.9"/>
<line x1="68.52" y1="396.76" x2="68.52" y2="408.30" stroke="#231f20" stroke-width="0.9"/>
<line x1="70.57" y1="401.47" x2="70.57" y2="412.80" stroke="#231f20" stroke-width="0.9"/>
<line x1="72.63" y1="405.21" x2="72.63" y2="416.32" stroke="#231f20" stroke-width="0.9"/>
<line x1="74.69" y1="407.19" x2="74.69" y2="418.09" stroke="#231f20" stroke-width="0.9"/>
<line x1="76.75" y1="407.81" x2="76.75" y2="418.50" stroke="#231f20" stroke-width="0.9"/>
<line x1="78.80" y1="407.50" x2="78.80" y2="417.98" stroke="#231f20" stroke-width="0.9"/>
<line x1="80.86" y1="406.33" x2="80.86" y2="416.60" stroke="#231f20" stroke-width="0.9"/>
<line x1="82.92" y1="404.26" x2="82.92" y2="414.32" stroke="#231f20" stroke-width="0.9"/>
<line x1="84.98" y1="401.53" x2="84.98" y2="411.38" stroke="#231f20" stroke-width="0.9"/>
<line x1="87.03" y1="401.11" x2="87.03" y2="410.35" stroke="#231f20" stroke-width="0.9"/>
<line x1="89.09" y1="403.33" x2="89.09" y2="411.97" stroke="#231f20" stroke-width="0.9"/>
<line x1="91.15" y1="407.51" x2="91.15" y2="415.55" stroke="#231f20" stroke-width="0.9"/>
<line x1="93.21" y1="411.37" x2="93.21" y2="419.15" stroke="#231f20" stroke-width="0.9"/>
<line x1="95.26" y1="415.07" x2="95.26" y2="422.84" stroke="#231f20" stroke-width="0.9"/>
<line x1="97.32" y1="418.05" x2="97.32" y2="425.80" stroke="#231f20" stroke-width="0.9"/>
<line x1="99.38" y1="420.10" x2="99.38" y2="427.83" stroke="#231f20" stroke-width="0.9"/>
<line x1="101.44" y1="421.00" x2="101.44" y2="428.72" stroke="#231f20" stroke-width="0.9"/>
<line x1="103.49" y1="420.77" x2="103.49" y2="428.47" stroke="#231f20" stroke-width="0.9"/>
<line x1="105.55" y1="419.22" x2="105.55" y2="427.20" stroke="#231f20" stroke-width="0.9"/>
<line x1="107.61" y1="416.96" x2="107.61" y2="425.31" stroke="#231f20" stroke-width="0.9"/>
<line x1="109.67" y1="414.15" x2="109.67" y2="422.87" stroke="#231f20" stroke-width="0.9"/>
<line x1="111.72" y1="410.87" x2="111.72" y2="419.95" stroke="#231f20" stroke-width="0.9"/>
<line x1="113.78" y1="407.73" x2="113.78" y2="416.85" stroke="#231f20" stroke-width="0.9"/>
<line x1="115.84" y1="404.83" x2="115.84" y2="413.94" stroke="#231f20" stroke-width="0.9"/>
<line x1="117.89" y1="402.91" x2="117.89" y2="412.01" stroke="#231f20" stroke-width="0.9"/>
<line x1="119.95" y1="402.38" x2="119.95" y2="411.46" stroke="#231f20" stroke-width="0.9"/>
<line x1="122.01" y1="403.20" x2="122.01" y2="412.26" stroke="#231f20" stroke-width="0.9"/>
<line x1="124.07" y1="405.07" x2="124.07" y2="414.11" stroke="#231f20" stroke-width="0.9"/>
<line x1="126.12" y1="407.77" x2="126.12" y2="416.80" stroke="#231f20" stroke-width="0.9"/>
<line x1="128.18" y1="412.95" x2="128.18" y2="421.97" stroke="#231f20" stroke-width="0.9"/>
<line x1="130.24" y1="418.07" x2="130.24" y2="427.07" stroke="#231f20" stroke-width="0.9"/>
<line x1="132.30" y1="423.22" x2="132.30" y2="432.22" stroke="#231f20" stroke-width="0.9"/>
<line x1="134.36" y1="428.38" x2="134.36" y2="437.38" stroke="#231f20" stroke-width="0.9"/>
<line x1="136.41" y1="433.48" x2="136.41" y2="442.48" stroke="#231f20" stroke-width="0.9"/>
<line x1="138.47" y1="437.74" x2="138.47" y2="446.74" stroke="#231f20" stroke-width="0.9"/>
<line x1="140.53" y1="441.94" x2="140.53" y2="450.94" stroke="#231f20" stroke-width="0.9"/>
<line x1="142.59" y1="444.65" x2="142.59" y2="453.65" stroke="#231f20" stroke-width="0.9"/>
<line x1="144.64" y1="447.33" x2="144.64" y2="456.33" stroke="#231f20" stroke-width="0.9"/>
<line x1="146.70" y1="449.01" x2="146.70" y2="458.01" stroke="#231f20" stroke-width="0.9"/>
<line x1="148.76" y1="450.69" x2="148.76" y2="459.69" stroke="#231f20" stroke-width="0.9"/>
<line x1="150.81" y1="452.18" x2="150.81" y2="461.18" stroke="#231f20" stroke-width="0.9"/>
<line x1="152.87" y1="453.41" x2="152.87" y2="462.41" stroke="#231f20" stroke-width="0.9"/>
<line x1="154.93" y1="454.63" x2="154.93" y2="463.63" stroke="#231f20" stroke-width="0.9"/>
<line x1="156.99" y1="455.82" x2="156.99" y2="464.82" stroke="#231f20" stroke-width="0.9"/>
<line x1="159.05" y1="456.34" x2="159.05" y2="465.34" stroke="#231f20" stroke-width="0.9"/>
<line x1="161.10" y1="456.87" x2="161.10" y2="465.87" stroke="#231f20" stroke-width="0.9"/>
<line x1="163.16" y1="457.39" x2="163.16" y2="466.39" stroke="#231f20" stroke-width="0.9"/>
<line x1="165.22" y1="458.55" x2="165.22" y2="467.55" stroke="#231f20" stroke-width="0.9"/>
<line x1="167.28" y1="459.88" x2="167.28" y2="468.88" stroke="#231f20" stroke-width="0.9"/>
<line x1="169.33" y1="461.43" x2="169.33" y2="470.43" stroke="#231f20" stroke-width="0.9"/>
<line x1="171.39" y1="463.49" x2="171.39" y2="472.49" stroke="#231f20" stroke-width="0.9"/>
<line x1="173.45" y1="465.55" x2="173.45" y2="474.55" stroke="#231f20" stroke-width="0.9"/>
<line x1="175.50" y1="467.60" x2="175.50" y2="476.60" stroke="#231f20" stroke-width="0.9"/>
<line x1="177.56" y1="468.86" x2="177.56" y2="477.86" stroke="#231f20" stroke-width="0.9"/>
<line x1="179.62" y1="470.12" x2="179.62" y2="479.12" stroke="#231f20" stroke-width="0.9"/>
<line x1="181.68" y1="471.38" x2="181.68" y2="480.38" stroke="#231f20" stroke-width="0.9"/>
<line x1="183.74" y1="473.21" x2="183.74" y2="482.21" stroke="#231f20" stroke-width="0.9"/>
<line x1="185.79" y1="475.24" x2="185.79" y2="484.24" stroke="#231f20" stroke-width="0.9"/>
<line x1="187.85" y1="477.27" x2="187.85" y2="486.27" stroke="#231f20" stroke-width="0.9"/>
<line x1="189.91" y1="479.32" x2="189.91" y2="488.32" stroke="#231f20" stroke-width="0.9"/>
<line x1="191.96" y1="481.41" x2="191.96" y2="490.41" stroke="#231f20" stroke-width="0.9"/>
<line x1="194.02" y1="483.50" x2="194.02" y2="492.50" stroke="#231f20" stroke-width="0.9"/>
<line x1="196.08" y1="485.53" x2="196.08" y2="494.53" stroke="#231f20" stroke-width="0.9"/>
<line x1="198.14" y1="487.31" x2="198.14" y2="496.31" stroke="#231f20" stroke-width="0.9"/>
<line x1="200.20" y1="489.10" x2="200.20" y2="498.10" stroke="#231f20" stroke-width="0.9"/>
<line x1="202.25" y1="490.89" x2="202.25" y2="499.89" stroke="#231f20" stroke-width="0.9"/>
<line x1="204.31" y1="492.67" x2="204.31" y2="501.67" stroke="#231f20" stroke-width="0.9"/>
<line x1="206.37" y1="494.46" x2="206.37" y2="503.46" stroke="#231f20" stroke-width="0.9"/>
<line x1="208.43" y1="496.24" x2="208.43" y2="505.24" stroke="#231f20" stroke-width="0.9"/>
<line x1="210.48" y1="497.90" x2="210.48" y2="506.90" stroke="#231f20" stroke-width="0.9"/>
<line x1="212.54" y1="499.47" x2="212.54" y2="508.47" stroke="#231f20" stroke-width="0.9"/>
<line x1="214.60" y1="501.03" x2="214.60" y2="510.03" stroke="#231f20" stroke-width="0.9"/>
<line x1="216.66" y1="502.50" x2="216.66" y2="511.50" stroke="#231f20" stroke-width="0.9"/>
<line x1="218.71" y1="503.78" x2="218.71" y2="512.78" stroke="#231f20" stroke-width="0.9"/>
<line x1="220.77" y1="505.05" x2="220.77" y2="514.05" stroke="#231f20" stroke-width="0.9"/>
<line x1="222.83" y1="506.32" x2="222.83" y2="515.32" stroke="#231f20" stroke-width="0.9"/>
<line x1="224.88" y1="507.85" x2="224.88" y2="516.85" stroke="#231f20" stroke-width="0.9"/>
<line x1="226.94" y1="509.39" x2="226.94" y2="518.39" stroke="#231f20" stroke-width="0.9"/>
<line x1="229.00" y1="510.70" x2="229.00" y2="519.70" stroke="#231f20" stroke-width="0.9"/>
<rect x="63.81" y="399.15" width="5.3" height="5.3" fill="#231f20"/>
<rect x="65.86" y="400.68" width="5.3" height="5.3" fill="#231f20"/>
<rect x="67.92" y="405.20" width="5.3" height="5.3" fill="#231f20"/>
<rect x="69.98" y="408.73" width="5.3" height="5.3" fill="#231f20"/>
<rect x="72.04" y="410.52" width="5.3" height="5.3" fill="#231f20"/>
<rect x="74.09" y="410.95" width="5.3" height="5.3" fill="#231f20"/>
<rect x="76.15" y="410.44" width="5.3" height="5.3" fill="#231f20"/>
<rect x="78.21" y="409.08" width="5.3" height="5.3" fill="#231f20"/>
<rect x="80.27" y="406.81" width="5.3" height="5.3" fill="#231f20"/>
<rect x="82.33" y="403.89" width="5.3" height="5.3" fill="#231f20"/>
<rect x="84.38" y="402.87" width="5.3" height="5.3" fill="#231f20"/>
<rect x="86.44" y="404.51" width="5.3" height="5.3" fill="#231f20"/>
<rect x="88.50" y="408.11" width="5.3" height="5.3" fill="#231f20"/>
<rect x="90.56" y="411.72" width="5.3" height="5.3" fill="#231f20"/>
<rect x="92.61" y="415.42" width="5.3" height="5.3" fill="#231f20"/>
<rect x="94.67" y="418.40" width="5.3" height="5.3" fill="#231f20"/>
<rect x="96.73" y="420.45" width="5.3" height="5.3" fill="#231f20"/>
<rect x="98.78" y="421.35" width="5.3" height="5.3" fill="#231f20"/>
<rect x="100.84" y="421.12" width="5.3" height="5.3" fill="#231f20"/>
<rect x="102.90" y="419.86" width="5.3" height="5.3" fill="#231f20"/>
<rect x="104.96" y="417.99" width="5.3" height="5.3" fill="#231f20"/>
<rect x="107.02" y="415.57" width="5.3" height="5.3" fill="#231f20"/>
<rect x="109.07" y="412.67" width="5.3" height="5.3" fill="#231f20"/>
<rect x="111.13" y="409.58" width="5.3" height="5.3" fill="#231f20"/>
<rect x="113.19" y="406.68" width="5.3" height="5.3" fill="#231f20"/>
<rect x="115.24" y="404.76" width="5.3" height="5.3" fill="#231f20"/>
<rect x="117.30" y="404.23" width="5.3" height="5.3" fill="#231f20"/>
<rect x="119.36" y="405.05" width="5.3" height="5.3" fill="#231f20"/>
<rect x="121.42" y="406.92" width="5.3" height="5.3" fill="#231f20"/>
<rect x="123.47" y="409.62" width="5.3" height="5.3" fill="#231f20"/>
<rect x="125.53" y="414.80" width="5.3" height="5.3" fill="#231f20"/>
<rect x="127.59" y="419.92" width="5.3" height="5.3" fill="#231f20"/>
<rect x="129.65" y="425.07" width="5.3" height="5.3" fill="#231f20"/>
<rect x="131.71" y="430.23" width="5.3" height="5.3" fill="#231f20"/>
<rect x="133.76" y="435.33" width="5.3" height="5.3" fill="#231f20"/>
<rect x="135.82" y="439.59" width="5.3" height="5.3" fill="#231f20"/>
<rect x="137.88" y="443.79" width="5.3" height="5.3" fill="#231f20"/>
<rect x="139.94" y="446.50" width="5.3" height="5.3" fill="#231f20"/>
<rect x="141.99" y="449.18" width="5.3" height="5.3" fill="#231f20"/>
<rect x="144.05" y="450.86" width="5.3" height="5.3" fill="#231f20"/>
<rect x="146.11" y="452.54" width="5.3" height="5.3" fill="#231f20"/>
<rect x="148.16" y="454.03" width="5.3" height="5.3" fill="#231f20"/>
<rect x="150.22" y="455.26" width="5.3" height="5.3" fill="#231f20"/>
<rect x="152.28" y="456.48" width="5.3" height="5.3" fill="#231f20"/>
<rect x="154.34" y="457.67" width="5.3" height="5.3" fill="#231f20"/>
<rect x="156.40" y="458.19" width="5.3" height="5.3" fill="#231f20"/>
<rect x="158.45" y="458.72" width="5.3" height="5.3" fill="#231f20"/>
<rect x="160.51" y="459.24" width="5.3" height="5.3" fill="#231f20"/>
<rect x="162.57" y="460.40" width="5.3" height="5.3" fill="#231f20"/>
<rect x="164.62" y="461.73" width="5.3" height="5.3" fill="#231f20"/>
<rect x="166.68" y="463.28" width="5.3" height="5.3" fill="#231f20"/>
<rect x="168.74" y="465.34" width="5.3" height="5.3" fill="#231f20"/>
<rect x="170.80" y="467.40" width="5.3" height="5.3" fill="#231f20"/>
<rect x="172.85" y="469.45" width="5.3" height="5.3" fill="#231f20"/>
<rect x="174.91" y="470.71" width="5.3" height="5.3" fill="#231f20"/>
<rect x="176.97" y="471.97" width="5.3" height="5.3" fill="#231f20"/>
<rect x="179.03" y="473.23" width="5.3" height="5.3" fill="#231f20"/>
<rect x="181.09" y="475.06" width="5.3" height="5.3" fill="#231f20"/>
<rect x="183.14" y="477.09" width="5.3" height="5.3" fill="#231f20"/>
<rect x="185.20" y="479.12" width="5.3" height="5.3" fill="#231f20"/>
<rect x="187.26" y="481.17" width="5.3" height="5.3" fill="#231f20"/>
<rect x="189.31" y="483.26" width="5.3" height="5.3" fill="#231f20"/>
<rect x="191.37" y="485.35" width="5.3" height="5.3" fill="#231f20"/>
<rect x="193.43" y="487.38" width="5.3" height="5.3" fill="#231f20"/>
<rect x="195.49" y="489.16" width="5.3" height="5.3" fill="#231f20"/>
<rect x="197.55" y="490.95" width="5.3" height="5.3" fill="#231f20"/>
<rect x="199.60" y="492.74" width="5.3" height="5.3" fill="#231f20"/>
<rect x="201.66" y="494.52" width="5.3" height="5.3" fill="#231f20"/>
<rect x="203.72" y="496.31" width="5.3" height="5.3" fill="#231f20"/>
<rect x="205.78" y="498.09" width="5.3" height="5.3" fill="#231f20"/>
<rect x="207.83" y="499.75" width="5.3" height="5.3" fill="#231f20"/>
<rect x="209.89" y="501.32" width="5.3" height="5.3" fill="#231f20"/>
<rect x="211.95" y="502.88" width="5.3" height="5.3" fill="#231f20"/>
<rect x="214.00" y="504.35" width="5.3" height="5.3" fill="#231f20"/>
<rect x="216.06" y="505.63" width="5.3" height="5.3" fill="#231f20"/>
<rect x="218.12" y="506.90" width="5.3" height="5.3" fill="#231f20"/>
<rect x="220.18" y="508.17" width="5.3" height="5.3" fill="#231f20"/>
<rect x="222.23" y="509.70" width="5.3" height="5.3" fill="#231f20"/>
<rect x="224.29" y="511.24" width="5.3" height="5.3" fill="#231f20"/>
<rect x="226.35" y="512.55" width="5.3" height="5.3" fill="#231f20"/>
<rect x="64.21" y="422.63" width="4.5" height="4.5" fill="#cbcccd" stroke="#231f20" stroke-width="0.8"/>
<rect x="66.27" y="416.06" width="4.5" height="4.5" fill="#cbcccd" stroke="#231f20" stroke-width="0.8"/>
<rect x="68.32" y="416.99" width="4.5" height="4.5" fill="#cbcccd" stroke="#231f20" stroke-width="0.8"/>
<rect x="70.38" y="419.23" width="4.5" height="4.5" fill="#cbcccd" stroke="#231f20" stroke-width="0.8"/>
<rect x="72.44" y="420.24" width="4.5" height="4.5" fill="#cbcccd" stroke="#231f20" stroke-width="0.8"/>
<rect x="74.50" y="420.20" width="4.5" height="4.5" fill="#cbcccd" stroke="#231f20" stroke-width="0.8"/>
<rect x="76.55" y="419.56" width="4.5" height="4.5" fill="#cbcccd" stroke="#231f20" stroke-width="0.8"/>
<rect x="78.61" y="418.57" width="4.5" height="4.5" fill="#cbcccd" stroke="#231f20" stroke-width="0.8"/>
<rect x="80.67" y="416.62" width="4.5" height="4.5" fill="#cbcccd" stroke="#231f20" stroke-width="0.8"/>
<rect x="82.73" y="412.14" width="4.5" height="4.5" fill="#cbcccd" stroke="#231f20" stroke-width="0.8"/>
<rect x="84.78" y="405.54" width="4.5" height="4.5" fill="#cbcccd" stroke="#231f20" stroke-width="0.8"/>
<rect x="86.84" y="403.37" width="4.5" height="4.5" fill="#cbcccd" stroke="#231f20" stroke-width="0.8"/>
<rect x="88.90" y="405.12" width="4.5" height="4.5" fill="#cbcccd" stroke="#231f20" stroke-width="0.8"/>
<rect x="90.96" y="410.99" width="4.5" height="4.5" fill="#cbcccd" stroke="#231f20" stroke-width="0.8"/>
<rect x="93.01" y="416.38" width="4.5" height="4.5" fill="#cbcccd" stroke="#231f20" stroke-width="0.8"/>
<rect x="95.07" y="419.37" width="4.5" height="4.5" fill="#cbcccd" stroke="#231f20" stroke-width="0.8"/>
<rect x="97.13" y="422.07" width="4.5" height="4.5" fill="#cbcccd" stroke="#231f20" stroke-width="0.8"/>
<rect x="99.19" y="425.15" width="4.5" height="4.5" fill="#cbcccd" stroke="#231f20" stroke-width="0.8"/>
<rect x="101.24" y="427.24" width="4.5" height="4.5" fill="#cbcccd" stroke="#231f20" stroke-width="0.8"/>
<rect x="103.30" y="427.98" width="4.5" height="4.5" fill="#cbcccd" stroke="#231f20" stroke-width="0.8"/>
<rect x="105.36" y="427.84" width="4.5" height="4.5" fill="#cbcccd" stroke="#231f20" stroke-width="0.8"/>
<rect x="107.42" y="425.10" width="4.5" height="4.5" fill="#cbcccd" stroke="#231f20" stroke-width="0.8"/>
<rect x="109.47" y="421.88" width="4.5" height="4.5" fill="#cbcccd" stroke="#231f20" stroke-width="0.8"/>
<rect x="111.53" y="419.30" width="4.5" height="4.5" fill="#cbcccd" stroke="#231f20" stroke-width="0.8"/>
<rect x="113.59" y="416.91" width="4.5" height="4.5" fill="#cbcccd" stroke="#231f20" stroke-width="0.8"/>
<rect x="115.64" y="415.87" width="4.5" height="4.5" fill="#cbcccd" stroke="#231f20" stroke-width="0.8"/>
<rect x="117.70" y="417.36" width="4.5" height="4.5" fill="#cbcccd" stroke="#231f20" stroke-width="0.8"/>
<rect x="119.76" y="422.44" width="4.5" height="4.5" fill="#cbcccd" stroke="#231f20" stroke-width="0.8"/>
<rect x="121.82" y="427.84" width="4.5" height="4.5" fill="#cbcccd" stroke="#231f20" stroke-width="0.8"/>
<rect x="123.88" y="433.25" width="4.5" height="4.5" fill="#cbcccd" stroke="#231f20" stroke-width="0.8"/>
<rect x="125.93" y="439.52" width="4.5" height="4.5" fill="#cbcccd" stroke="#231f20" stroke-width="0.8"/>
<rect x="127.99" y="445.64" width="4.5" height="4.5" fill="#cbcccd" stroke="#231f20" stroke-width="0.8"/>
<rect x="130.05" y="451.24" width="4.5" height="4.5" fill="#cbcccd" stroke="#231f20" stroke-width="0.8"/>
<rect x="132.11" y="456.31" width="4.5" height="4.5" fill="#cbcccd" stroke="#231f20" stroke-width="0.8"/>
<rect x="134.16" y="460.78" width="4.5" height="4.5" fill="#cbcccd" stroke="#231f20" stroke-width="0.8"/>
<rect x="136.22" y="464.12" width="4.5" height="4.5" fill="#cbcccd" stroke="#231f20" stroke-width="0.8"/>
<rect x="138.28" y="466.04" width="4.5" height="4.5" fill="#cbcccd" stroke="#231f20" stroke-width="0.8"/>
<rect x="140.34" y="468.13" width="4.5" height="4.5" fill="#cbcccd" stroke="#231f20" stroke-width="0.8"/>
<rect x="142.39" y="470.76" width="4.5" height="4.5" fill="#cbcccd" stroke="#231f20" stroke-width="0.8"/>
<rect x="144.45" y="472.75" width="4.5" height="4.5" fill="#cbcccd" stroke="#231f20" stroke-width="0.8"/>
<rect x="146.51" y="474.89" width="4.5" height="4.5" fill="#cbcccd" stroke="#231f20" stroke-width="0.8"/>
<rect x="148.56" y="477.56" width="4.5" height="4.5" fill="#cbcccd" stroke="#231f20" stroke-width="0.8"/>
<rect x="150.62" y="481.10" width="4.5" height="4.5" fill="#cbcccd" stroke="#231f20" stroke-width="0.8"/>
<rect x="152.68" y="484.82" width="4.5" height="4.5" fill="#cbcccd" stroke="#231f20" stroke-width="0.8"/>
<rect x="154.74" y="488.07" width="4.5" height="4.5" fill="#cbcccd" stroke="#231f20" stroke-width="0.8"/>
<rect x="156.80" y="490.55" width="4.5" height="4.5" fill="#cbcccd" stroke="#231f20" stroke-width="0.8"/>
<rect x="158.85" y="492.08" width="4.5" height="4.5" fill="#cbcccd" stroke="#231f20" stroke-width="0.8"/>
<rect x="160.91" y="493.47" width="4.5" height="4.5" fill="#cbcccd" stroke="#231f20" stroke-width="0.8"/>
<rect x="162.97" y="494.95" width="4.5" height="4.5" fill="#cbcccd" stroke="#231f20" stroke-width="0.8"/>
<rect x="165.03" y="496.44" width="4.5" height="4.5" fill="#cbcccd" stroke="#231f20" stroke-width="0.8"/>
<rect x="167.08" y="497.83" width="4.5" height="4.5" fill="#cbcccd" stroke="#231f20" stroke-width="0.8"/>
<rect x="169.14" y="499.16" width="4.5" height="4.5" fill="#cbcccd" stroke="#231f20" stroke-width="0.8"/>
<rect x="171.20" y="500.43" width="4.5" height="4.5" fill="#cbcccd" stroke="#231f20" stroke-width="0.8"/>
<rect x="173.25" y="501.70" width="4.5" height="4.5" fill="#cbcccd" stroke="#231f20" stroke-width="0.8"/>
<rect x="175.31" y="502.93" width="4.5" height="4.5" fill="#cbcccd" stroke="#231f20" stroke-width="0.8"/>
<rect x="177.37" y="503.94" width="4.5" height="4.5" fill="#cbcccd" stroke="#231f20" stroke-width="0.8"/>
<rect x="179.43" y="504.96" width="4.5" height="4.5" fill="#cbcccd" stroke="#231f20" stroke-width="0.8"/>
<rect x="181.49" y="505.97" width="4.5" height="4.5" fill="#cbcccd" stroke="#231f20" stroke-width="0.8"/>
<rect x="183.54" y="507.22" width="4.5" height="4.5" fill="#cbcccd" stroke="#231f20" stroke-width="0.8"/>
<rect x="185.60" y="508.49" width="4.5" height="4.5" fill="#cbcccd" stroke="#231f20" stroke-width="0.8"/>
<rect x="187.66" y="509.76" width="4.5" height="4.5" fill="#cbcccd" stroke="#231f20" stroke-width="0.8"/>
<rect x="189.71" y="511.04" width="4.5" height="4.5" fill="#cbcccd" stroke="#231f20" stroke-width="0.8"/>
<rect x="191.77" y="512.33" width="4.5" height="4.5" fill="#cbcccd" stroke="#231f20" stroke-width="0.8"/>
<rect x="193.83" y="513.62" width="4.5" height="4.5" fill="#cbcccd" stroke="#231f20" stroke-width="0.8"/>
<rect x="195.89" y="514.82" width="4.5" height="4.5" fill="#cbcccd" stroke="#231f20" stroke-width="0.8"/>
<rect x="197.95" y="515.85" width="4.5" height="4.5" fill="#cbcccd" stroke="#231f20" stroke-width="0.8"/>
<rect x="200.00" y="516.88" width="4.5" height="4.5" fill="#cbcccd" stroke="#231f20" stroke-width="0.8"/>
<rect x="202.06" y="517.89" width="4.5" height="4.5" fill="#cbcccd" stroke="#231f20" stroke-width="0.8"/>
<rect x="204.12" y="518.66" width="4.5" height="4.5" fill="#cbcccd" stroke="#231f20" stroke-width="0.8"/>
<rect x="206.18" y="519.43" width="4.5" height="4.5" fill="#cbcccd" stroke="#231f20" stroke-width="0.8"/>
<rect x="208.23" y="520.19" width="4.5" height="4.5" fill="#cbcccd" stroke="#231f20" stroke-width="0.8"/>
<rect x="210.29" y="520.95" width="4.5" height="4.5" fill="#cbcccd" stroke="#231f20" stroke-width="0.8"/>
<rect x="212.35" y="521.71" width="4.5" height="4.5" fill="#cbcccd" stroke="#231f20" stroke-width="0.8"/>
<rect x="214.41" y="522.47" width="4.5" height="4.5" fill="#cbcccd" stroke="#231f20" stroke-width="0.8"/>
<rect x="216.46" y="523.25" width="4.5" height="4.5" fill="#cbcccd" stroke="#231f20" stroke-width="0.8"/>
<rect x="218.52" y="524.07" width="4.5" height="4.5" fill="#cbcccd" stroke="#231f20" stroke-width="0.8"/>
<rect x="220.58" y="524.89" width="4.5" height="4.5" fill="#cbcccd" stroke="#231f20" stroke-width="0.8"/>
<rect x="222.63" y="525.65" width="4.5" height="4.5" fill="#cbcccd" stroke="#231f20" stroke-width="0.8"/>
<rect x="224.69" y="526.17" width="4.5" height="4.5" fill="#cbcccd" stroke="#231f20" stroke-width="0.8"/>
<rect x="226.75" y="526.70" width="4.5" height="4.5" fill="#cbcccd" stroke="#231f20" stroke-width="0.8"/>
<line x1="260.86" y1="384.50" x2="260.86" y2="414.01" stroke="#c4c4c4" stroke-width="0.9"/>
<line x1="262.92" y1="391.47" x2="262.92" y2="420.62" stroke="#c4c4c4" stroke-width="0.9"/>
<line x1="264.98" y1="397.84" x2="264.98" y2="426.64" stroke="#c4c4c4" stroke-width="0.9"/>
<line x1="267.04" y1="402.69" x2="267.04" y2="431.13" stroke="#c4c4c4" stroke-width="0.9"/>
<line x1="269.09" y1="406.28" x2="269.09" y2="434.36" stroke="#c4c4c4" stroke-width="0.9"/>
<line x1="271.15" y1="407.72" x2="271.15" y2="435.45" stroke="#c4c4c4" stroke-width="0.9"/>
<line x1="273.21" y1="407.04" x2="273.21" y2="434.41" stroke="#c4c4c4" stroke-width="0.9"/>
<line x1="275.27" y1="405.28" x2="275.27" y2="432.30" stroke="#c4c4c4" stroke-width="0.9"/>
<line x1="277.33" y1="402.39" x2="277.33" y2="429.05" stroke="#c4c4c4" stroke-width="0.9"/>
<line x1="279.39" y1="397.90" x2="279.39" y2="424.21" stroke="#c4c4c4" stroke-width="0.9"/>
<line x1="281.45" y1="394.14" x2="281.45" y2="420.10" stroke="#c4c4c4" stroke-width="0.9"/>
<line x1="283.50" y1="391.68" x2="283.50" y2="417.28" stroke="#c4c4c4" stroke-width="0.9"/>
<line x1="285.56" y1="393.37" x2="285.56" y2="418.61" stroke="#c4c4c4" stroke-width="0.9"/>
<line x1="287.62" y1="398.50" x2="287.62" y2="423.38" stroke="#c4c4c4" stroke-width="0.9"/>
<line x1="289.68" y1="403.11" x2="289.68" y2="427.64" stroke="#c4c4c4" stroke-width="0.9"/>
<line x1="291.74" y1="407.70" x2="291.74" y2="431.79" stroke="#c4c4c4" stroke-width="0.9"/>
<line x1="293.80" y1="409.52" x2="293.80" y2="433.15" stroke="#c4c4c4" stroke-width="0.9"/>
<line x1="295.86" y1="409.25" x2="295.86" y2="432.42" stroke="#c4c4c4" stroke-width="0.9"/>
<line x1="297.92" y1="407.08" x2="297.92" y2="429.79" stroke="#c4c4c4" stroke-width="0.9"/>
<line x1="299.98" y1="402.09" x2="299.98" y2="424.35" stroke="#c4c4c4" stroke-width="0.9"/>
<line x1="302.03" y1="397.70" x2="302.03" y2="419.39" stroke="#c4c4c4" stroke-width="0.9"/>
<line x1="304.09" y1="390.81" x2="304.09" y2="411.94" stroke="#c4c4c4" stroke-width="0.9"/>
<line x1="306.15" y1="382.59" x2="306.15" y2="403.15" stroke="#c4c4c4" stroke-width="0.9"/>
<line x1="308.21" y1="375.89" x2="308.21" y2="395.89" stroke="#c4c4c4" stroke-width="0.9"/>
<line x1="310.27" y1="370.70" x2="310.27" y2="390.13" stroke="#c4c4c4" stroke-width="0.9"/>
<line x1="312.33" y1="367.03" x2="312.33" y2="385.89" stroke="#c4c4c4" stroke-width="0.9"/>
<line x1="314.39" y1="366.99" x2="314.39" y2="385.28" stroke="#c4c4c4" stroke-width="0.9"/>
<line x1="316.44" y1="372.42" x2="316.44" y2="390.15" stroke="#c4c4c4" stroke-width="0.9"/>
<line x1="318.50" y1="379.00" x2="318.50" y2="396.16" stroke="#c4c4c4" stroke-width="0.9"/>
<line x1="320.56" y1="386.35" x2="320.56" y2="402.94" stroke="#c4c4c4" stroke-width="0.9"/>
<line x1="322.62" y1="394.25" x2="322.62" y2="410.28" stroke="#c4c4c4" stroke-width="0.9"/>
<line x1="324.68" y1="401.69" x2="324.68" y2="417.16" stroke="#c4c4c4" stroke-width="0.9"/>
<line x1="326.74" y1="408.59" x2="326.74" y2="423.49" stroke="#c4c4c4" stroke-width="0.9"/>
<line x1="328.80" y1="415.27" x2="328.80" y2="429.60" stroke="#c4c4c4" stroke-width="0.9"/>
<line x1="330.86" y1="421.58" x2="330.86" y2="435.56" stroke="#c4c4c4" stroke-width="0.9"/>
<line x1="332.92" y1="425.85" x2="332.92" y2="439.79" stroke="#c4c4c4" stroke-width="0.9"/>
<line x1="334.97" y1="431.25" x2="334.97" y2="445.15" stroke="#c4c4c4" stroke-width="0.9"/>
<line x1="337.03" y1="436.54" x2="337.03" y2="450.39" stroke="#c4c4c4" stroke-width="0.9"/>
<line x1="339.09" y1="440.68" x2="339.09" y2="454.49" stroke="#c4c4c4" stroke-width="0.9"/>
<line x1="341.15" y1="444.82" x2="341.15" y2="458.58" stroke="#c4c4c4" stroke-width="0.9"/>
<line x1="343.21" y1="448.96" x2="343.21" y2="462.68" stroke="#c4c4c4" stroke-width="0.9"/>
<line x1="345.27" y1="452.30" x2="345.27" y2="465.98" stroke="#c4c4c4" stroke-width="0.9"/>
<line x1="347.33" y1="455.40" x2="347.33" y2="469.03" stroke="#c4c4c4" stroke-width="0.9"/>
<line x1="349.38" y1="458.49" x2="349.38" y2="472.08" stroke="#c4c4c4" stroke-width="0.9"/>
<line x1="351.44" y1="461.36" x2="351.44" y2="474.90" stroke="#c4c4c4" stroke-width="0.9"/>
<line x1="353.50" y1="463.73" x2="353.50" y2="477.23" stroke="#c4c4c4" stroke-width="0.9"/>
<line x1="355.56" y1="466.09" x2="355.56" y2="479.55" stroke="#c4c4c4" stroke-width="0.9"/>
<line x1="357.62" y1="468.46" x2="357.62" y2="481.87" stroke="#c4c4c4" stroke-width="0.9"/>
<line x1="359.68" y1="470.82" x2="359.68" y2="484.19" stroke="#c4c4c4" stroke-width="0.9"/>
<line x1="361.74" y1="472.51" x2="361.74" y2="485.83" stroke="#c4c4c4" stroke-width="0.9"/>
<line x1="363.80" y1="473.96" x2="363.80" y2="487.24" stroke="#c4c4c4" stroke-width="0.9"/>
<line x1="365.86" y1="475.41" x2="365.86" y2="488.65" stroke="#c4c4c4" stroke-width="0.9"/>
<line x1="367.91" y1="476.86" x2="367.91" y2="490.06" stroke="#c4c4c4" stroke-width="0.9"/>
<line x1="369.97" y1="478.32" x2="369.97" y2="491.47" stroke="#c4c4c4" stroke-width="0.9"/>
<line x1="372.03" y1="479.77" x2="372.03" y2="492.87" stroke="#c4c4c4" stroke-width="0.9"/>
<line x1="374.09" y1="481.02" x2="374.09" y2="494.08" stroke="#c4c4c4" stroke-width="0.9"/>
<line x1="376.15" y1="482.27" x2="376.15" y2="495.28" stroke="#c4c4c4" stroke-width="0.9"/>
<line x1="378.21" y1="483.52" x2="378.21" y2="496.49" stroke="#c4c4c4" stroke-width="0.9"/>
<line x1="380.27" y1="484.77" x2="380.27" y2="497.70" stroke="#c4c4c4" stroke-width="0.9"/>
<line x1="382.33" y1="486.02" x2="382.33" y2="498.90" stroke="#c4c4c4" stroke-width="0.9"/>
<line x1="384.38" y1="487.22" x2="384.38" y2="500.07" stroke="#c4c4c4" stroke-width="0.9"/>
<line x1="386.44" y1="488.29" x2="386.44" y2="501.09" stroke="#c4c4c4" stroke-width="0.9"/>
<line x1="388.50" y1="489.36" x2="388.50" y2="502.12" stroke="#c4c4c4" stroke-width="0.9"/>
<line x1="390.56" y1="490.43" x2="390.56" y2="503.14" stroke="#c4c4c4" stroke-width="0.9"/>
<line x1="392.62" y1="491.50" x2="392.62" y2="504.17" stroke="#c4c4c4" stroke-width="0.9"/>
<line x1="394.68" y1="492.57" x2="394.68" y2="505.19" stroke="#c4c4c4" stroke-width="0.9"/>
<line x1="396.74" y1="493.63" x2="396.74" y2="506.21" stroke="#c4c4c4" stroke-width="0.9"/>
<line x1="398.79" y1="494.68" x2="398.79" y2="507.22" stroke="#c4c4c4" stroke-width="0.9"/>
<line x1="400.85" y1="495.73" x2="400.85" y2="508.22" stroke="#c4c4c4" stroke-width="0.9"/>
<line x1="402.91" y1="496.78" x2="402.91" y2="509.23" stroke="#c4c4c4" stroke-width="0.9"/>
<line x1="404.97" y1="497.83" x2="404.97" y2="510.24" stroke="#c4c4c4" stroke-width="0.9"/>
<line x1="407.03" y1="498.88" x2="407.03" y2="511.25" stroke="#c4c4c4" stroke-width="0.9"/>
<line x1="409.09" y1="500.13" x2="409.09" y2="512.45" stroke="#c4c4c4" stroke-width="0.9"/>
<line x1="411.15" y1="501.43" x2="411.15" y2="513.70" stroke="#c4c4c4" stroke-width="0.9"/>
<line x1="413.21" y1="502.73" x2="413.21" y2="514.96" stroke="#c4c4c4" stroke-width="0.9"/>
<line x1="415.26" y1="504.03" x2="415.26" y2="516.22" stroke="#c4c4c4" stroke-width="0.9"/>
<line x1="417.32" y1="505.36" x2="417.32" y2="517.50" stroke="#c4c4c4" stroke-width="0.9"/>
<line x1="419.38" y1="506.86" x2="419.38" y2="518.96" stroke="#c4c4c4" stroke-width="0.9"/>
<line x1="421.44" y1="508.36" x2="421.44" y2="520.41" stroke="#c4c4c4" stroke-width="0.9"/>
<line x1="423.50" y1="509.49" x2="423.50" y2="521.51" stroke="#c4c4c4" stroke-width="0.9"/>
<line x1="260.86" y1="428.96" x2="260.86" y2="441.92" stroke="#231f20" stroke-width="0.9"/>
<line x1="262.92" y1="425.57" x2="262.92" y2="438.50" stroke="#231f20" stroke-width="0.9"/>
<line x1="264.98" y1="428.86" x2="264.98" y2="441.76" stroke="#231f20" stroke-width="0.9"/>
<line x1="267.04" y1="431.59" x2="267.04" y2="444.47" stroke="#231f20" stroke-width="0.9"/>
<line x1="269.09" y1="432.58" x2="269.09" y2="445.43" stroke="#231f20" stroke-width="0.9"/>
<line x1="271.15" y1="432.16" x2="271.15" y2="444.97" stroke="#231f20" stroke-width="0.9"/>
<line x1="273.21" y1="431.44" x2="273.21" y2="444.23" stroke="#231f20" stroke-width="0.9"/>
<line x1="275.27" y1="429.09" x2="275.27" y2="441.85" stroke="#231f20" stroke-width="0.9"/>
<line x1="277.33" y1="425.11" x2="277.33" y2="437.84" stroke="#231f20" stroke-width="0.9"/>
<line x1="279.39" y1="421.78" x2="279.39" y2="434.48" stroke="#231f20" stroke-width="0.9"/>
<line x1="281.45" y1="420.10" x2="281.45" y2="432.78" stroke="#231f20" stroke-width="0.9"/>
<line x1="283.50" y1="421.36" x2="283.50" y2="434.00" stroke="#231f20" stroke-width="0.9"/>
<line x1="285.56" y1="424.36" x2="285.56" y2="436.98" stroke="#231f20" stroke-width="0.9"/>
<line x1="287.62" y1="427.77" x2="287.62" y2="440.35" stroke="#231f20" stroke-width="0.9"/>
<line x1="289.68" y1="430.96" x2="289.68" y2="443.52" stroke="#231f20" stroke-width="0.9"/>
<line x1="291.74" y1="433.46" x2="291.74" y2="445.99" stroke="#231f20" stroke-width="0.9"/>
<line x1="293.80" y1="434.22" x2="293.80" y2="446.73" stroke="#231f20" stroke-width="0.9"/>
<line x1="295.86" y1="433.36" x2="295.86" y2="445.83" stroke="#231f20" stroke-width="0.9"/>
<line x1="297.92" y1="430.98" x2="297.92" y2="443.43" stroke="#231f20" stroke-width="0.9"/>
<line x1="299.98" y1="427.32" x2="299.98" y2="439.74" stroke="#231f20" stroke-width="0.9"/>
<line x1="302.03" y1="421.81" x2="302.03" y2="434.06" stroke="#231f20" stroke-width="0.9"/>
<line x1="304.09" y1="414.69" x2="304.09" y2="426.77" stroke="#231f20" stroke-width="0.9"/>
<line x1="306.15" y1="406.56" x2="306.15" y2="418.48" stroke="#231f20" stroke-width="0.9"/>
<line x1="308.21" y1="398.17" x2="308.21" y2="409.93" stroke="#231f20" stroke-width="0.9"/>
<line x1="310.27" y1="390.03" x2="310.27" y2="401.62" stroke="#231f20" stroke-width="0.9"/>
<line x1="312.33" y1="382.44" x2="312.33" y2="393.87" stroke="#231f20" stroke-width="0.9"/>
<line x1="314.39" y1="376.64" x2="314.39" y2="387.90" stroke="#231f20" stroke-width="0.9"/>
<line x1="316.44" y1="372.02" x2="316.44" y2="383.11" stroke="#231f20" stroke-width="0.9"/>
<line x1="318.50" y1="368.55" x2="318.50" y2="379.48" stroke="#231f20" stroke-width="0.9"/>
<line x1="320.56" y1="373.32" x2="320.56" y2="384.08" stroke="#231f20" stroke-width="0.9"/>
<line x1="322.62" y1="378.37" x2="322.62" y2="388.97" stroke="#231f20" stroke-width="0.9"/>
<line x1="324.68" y1="384.94" x2="324.68" y2="395.37" stroke="#231f20" stroke-width="0.9"/>
<line x1="326.74" y1="392.26" x2="326.74" y2="402.53" stroke="#231f20" stroke-width="0.9"/>
<line x1="328.80" y1="399.59" x2="328.80" y2="409.68" stroke="#231f20" stroke-width="0.9"/>
<line x1="330.86" y1="406.42" x2="330.86" y2="416.42" stroke="#231f20" stroke-width="0.9"/>
<line x1="332.92" y1="412.46" x2="332.92" y2="422.46" stroke="#231f20" stroke-width="0.9"/>
<line x1="334.97" y1="418.82" x2="334.97" y2="428.82" stroke="#231f20" stroke-width="0.9"/>
<line x1="337.03" y1="424.16" x2="337.03" y2="434.16" stroke="#231f20" stroke-width="0.9"/>
<line x1="339.09" y1="429.49" x2="339.09" y2="439.49" stroke="#231f20" stroke-width="0.9"/>
<line x1="341.15" y1="434.81" x2="341.15" y2="444.81" stroke="#231f20" stroke-width="0.9"/>
<line x1="343.21" y1="438.37" x2="343.21" y2="448.37" stroke="#231f20" stroke-width="0.9"/>
<line x1="345.27" y1="441.79" x2="345.27" y2="451.79" stroke="#231f20" stroke-width="0.9"/>
<line x1="347.33" y1="445.22" x2="347.33" y2="455.22" stroke="#231f20" stroke-width="0.9"/>
<line x1="349.38" y1="448.25" x2="349.38" y2="458.25" stroke="#231f20" stroke-width="0.9"/>
<line x1="351.44" y1="450.85" x2="351.44" y2="460.85" stroke="#231f20" stroke-width="0.9"/>
<line x1="353.50" y1="453.46" x2="353.50" y2="463.46" stroke="#231f20" stroke-width="0.9"/>
<line x1="355.56" y1="456.07" x2="355.56" y2="466.07" stroke="#231f20" stroke-width="0.9"/>
<line x1="357.62" y1="458.67" x2="357.62" y2="468.67" stroke="#231f20" stroke-width="0.9"/>
<line x1="359.68" y1="460.54" x2="359.68" y2="470.54" stroke="#231f20" stroke-width="0.9"/>
<line x1="361.74" y1="462.34" x2="361.74" y2="472.34" stroke="#231f20" stroke-width="0.9"/>
<line x1="363.80" y1="464.14" x2="363.80" y2="474.14" stroke="#231f20" stroke-width="0.9"/>
<line x1="365.86" y1="465.94" x2="365.86" y2="475.94" stroke="#231f20" stroke-width="0.9"/>
<line x1="367.91" y1="467.63" x2="367.91" y2="477.63" stroke="#231f20" stroke-width="0.9"/>
<line x1="369.97" y1="469.06" x2="369.97" y2="479.06" stroke="#231f20" stroke-width="0.9"/>
<line x1="372.03" y1="470.49" x2="372.03" y2="480.49" stroke="#231f20" stroke-width="0.9"/>
<line x1="374.09" y1="471.92" x2="374.09" y2="481.92" stroke="#231f20" stroke-width="0.9"/>
<line x1="376.15" y1="473.35" x2="376.15" y2="483.35" stroke="#231f20" stroke-width="0.9"/>
<line x1="378.21" y1="474.78" x2="378.21" y2="484.78" stroke="#231f20" stroke-width="0.9"/>
<line x1="380.27" y1="476.21" x2="380.27" y2="486.21" stroke="#231f20" stroke-width="0.9"/>
<line x1="382.33" y1="477.65" x2="382.33" y2="487.65" stroke="#231f20" stroke-width="0.9"/>
<line x1="384.38" y1="479.09" x2="384.38" y2="489.09" stroke="#231f20" stroke-width="0.9"/>
<line x1="386.44" y1="480.52" x2="386.44" y2="490.52" stroke="#231f20" stroke-width="0.9"/>
<line x1="388.50" y1="481.96" x2="388.50" y2="491.96" stroke="#231f20" stroke-width="0.9"/>
<line x1="390.56" y1="483.39" x2="390.56" y2="493.39" stroke="#231f20" stroke-width="0.9"/>
<line x1="392.62" y1="484.67" x2="392.62" y2="494.67" stroke="#231f20" stroke-width="0.9"/>
<line x1="394.68" y1="485.91" x2="394.68" y2="495.91" stroke="#231f20" stroke-width="0.9"/>
<line x1="396.74" y1="487.15" x2="396.74" y2="497.15" stroke="#231f20" stroke-width="0.9"/>
<line x1="398.79" y1="488.39" x2="398.79" y2="498.39" stroke="#231f20" stroke-width="0.9"/>
<line x1="400.85" y1="489.63" x2="400.85" y2="499.63" stroke="#231f20" stroke-width="0.9"/>
<line x1="402.91" y1="490.87" x2="402.91" y2="500.87" stroke="#231f20" stroke-width="0.9"/>
<line x1="404.97" y1="492.11" x2="404.97" y2="502.11" stroke="#231f20" stroke-width="0.9"/>
<line x1="407.03" y1="493.35" x2="407.03" y2="503.35" stroke="#231f20" stroke-width="0.9"/>
<line x1="409.09" y1="494.58" x2="409.09" y2="504.58" stroke="#231f20" stroke-width="0.9"/>
<line x1="411.15" y1="495.82" x2="411.15" y2="505.82" stroke="#231f20" stroke-width="0.9"/>
<line x1="413.21" y1="497.06" x2="413.21" y2="507.06" stroke="#231f20" stroke-width="0.9"/>
<line x1="415.26" y1="498.48" x2="415.26" y2="508.48" stroke="#231f20" stroke-width="0.9"/>
<line x1="417.32" y1="500.28" x2="417.32" y2="510.28" stroke="#231f20" stroke-width="0.9"/>
<line x1="419.38" y1="502.08" x2="419.38" y2="512.08" stroke="#231f20" stroke-width="0.9"/>
<line x1="421.44" y1="503.88" x2="421.44" y2="513.88" stroke="#231f20" stroke-width="0.9"/>
<line x1="423.50" y1="505.50" x2="423.50" y2="515.50" stroke="#231f20" stroke-width="0.9"/>
<rect x="258.21" y="432.27" width="5.3" height="5.3" fill="#231f20"/>
<rect x="260.27" y="428.85" width="5.3" height="5.3" fill="#231f20"/>
<rect x="262.33" y="432.11" width="5.3" height="5.3" fill="#231f20"/>
<rect x="264.39" y="434.82" width="5.3" height="5.3" fill="#231f20"/>
<rect x="266.44" y="435.78" width="5.3" height="5.3" fill="#231f20"/>
<rect x="268.50" y="435.32" width="5.3" height="5.3" fill="#231f20"/>
<rect x="270.56" y="434.58" width="5.3" height="5.3" fill="#231f20"/>
<rect x="272.62" y="432.20" width="5.3" height="5.3" fill="#231f20"/>
<rect x="274.68" y="428.19" width="5.3" height="5.3" fill="#231f20"/>
<rect x="276.74" y="424.83" width="5.3" height="5.3" fill="#231f20"/>
<rect x="278.80" y="423.13" width="5.3" height="5.3" fill="#231f20"/>
<rect x="280.86" y="424.36" width="5.3" height="5.3" fill="#231f20"/>
<rect x="282.91" y="427.33" width="5.3" height="5.3" fill="#231f20"/>
<rect x="284.97" y="430.70" width="5.3" height="5.3" fill="#231f20"/>
<rect x="287.03" y="433.87" width="5.3" height="5.3" fill="#231f20"/>
<rect x="289.09" y="436.34" width="5.3" height="5.3" fill="#231f20"/>
<rect x="291.15" y="437.08" width="5.3" height="5.3" fill="#231f20"/>
<rect x="293.21" y="436.18" width="5.3" height="5.3" fill="#231f20"/>
<rect x="295.27" y="433.78" width="5.3" height="5.3" fill="#231f20"/>
<rect x="297.33" y="430.09" width="5.3" height="5.3" fill="#231f20"/>
<rect x="299.38" y="424.55" width="5.3" height="5.3" fill="#231f20"/>
<rect x="301.44" y="417.40" width="5.3" height="5.3" fill="#231f20"/>
<rect x="303.50" y="409.24" width="5.3" height="5.3" fill="#231f20"/>
<rect x="305.56" y="400.83" width="5.3" height="5.3" fill="#231f20"/>
<rect x="307.62" y="392.65" width="5.3" height="5.3" fill="#231f20"/>
<rect x="309.68" y="385.04" width="5.3" height="5.3" fill="#231f20"/>
<rect x="311.74" y="379.21" width="5.3" height="5.3" fill="#231f20"/>
<rect x="313.80" y="374.56" width="5.3" height="5.3" fill="#231f20"/>
<rect x="315.85" y="371.06" width="5.3" height="5.3" fill="#231f20"/>
<rect x="317.91" y="375.80" width="5.3" height="5.3" fill="#231f20"/>
<rect x="319.97" y="380.83" width="5.3" height="5.3" fill="#231f20"/>
<rect x="322.03" y="387.37" width="5.3" height="5.3" fill="#231f20"/>
<rect x="324.09" y="394.66" width="5.3" height="5.3" fill="#231f20"/>
<rect x="326.15" y="401.95" width="5.3" height="5.3" fill="#231f20"/>
<rect x="328.21" y="408.77" width="5.3" height="5.3" fill="#231f20"/>
<rect x="330.27" y="414.81" width="5.3" height="5.3" fill="#231f20"/>
<rect x="332.32" y="421.17" width="5.3" height="5.3" fill="#231f20"/>
<rect x="334.38" y="426.51" width="5.3" height="5.3" fill="#231f20"/>
<rect x="336.44" y="431.84" width="5.3" height="5.3" fill="#231f20"/>
<rect x="338.50" y="437.16" width="5.3" height="5.3" fill="#231f20"/>
<rect x="340.56" y="440.72" width="5.3" height="5.3" fill="#231f20"/>
<rect x="342.62" y="444.14" width="5.3" height="5.3" fill="#231f20"/>
<rect x="344.68" y="447.57" width="5.3" height="5.3" fill="#231f20"/>
<rect x="346.74" y="450.60" width="5.3" height="5.3" fill="#231f20"/>
<rect x="348.79" y="453.20" width="5.3" height="5.3" fill="#231f20"/>
<rect x="350.85" y="455.81" width="5.3" height="5.3" fill="#231f20"/>
<rect x="352.91" y="458.42" width="5.3" height="5.3" fill="#231f20"/>
<rect x="354.97" y="461.02" width="5.3" height="5.3" fill="#231f20"/>
<rect x="357.03" y="462.89" width="5.3" height="5.3" fill="#231f20"/>
<rect x="359.09" y="464.69" width="5.3" height="5.3" fill="#231f20"/>
<rect x="361.15" y="466.49" width="5.3" height="5.3" fill="#231f20"/>
<rect x="363.21" y="468.29" width="5.3" height="5.3" fill="#231f20"/>
<rect x="365.26" y="469.98" width="5.3" height="5.3" fill="#231f20"/>
<rect x="367.32" y="471.41" width="5.3" height="5.3" fill="#231f20"/>
<rect x="369.38" y="472.84" width="5.3" height="5.3" fill="#231f20"/>
<rect x="371.44" y="474.27" width="5.3" height="5.3" fill="#231f20"/>
<rect x="373.50" y="475.70" width="5.3" height="5.3" fill="#231f20"/>
<rect x="375.56" y="477.13" width="5.3" height="5.3" fill="#231f20"/>
<rect x="377.62" y="478.56" width="5.3" height="5.3" fill="#231f20"/>
<rect x="379.68" y="480.00" width="5.3" height="5.3" fill="#231f20"/>
<rect x="381.73" y="481.44" width="5.3" height="5.3" fill="#231f20"/>
<rect x="383.79" y="482.87" width="5.3" height="5.3" fill="#231f20"/>
<rect x="385.85" y="484.31" width="5.3" height="5.3" fill="#231f20"/>
<rect x="387.91" y="485.74" width="5.3" height="5.3" fill="#231f20"/>
<rect x="389.97" y="487.02" width="5.3" height="5.3" fill="#231f20"/>
<rect x="392.03" y="488.26" width="5.3" height="5.3" fill="#231f20"/>
<rect x="394.09" y="489.50" width="5.3" height="5.3" fill="#231f20"/>
<rect x="396.14" y="490.74" width="5.3" height="5.3" fill="#231f20"/>
<rect x="398.20" y="491.98" width="5.3" height="5.3" fill="#231f20"/>
<rect x="400.26" y="493.22" width="5.3" height="5.3" fill="#231f20"/>
<rect x="402.32" y="494.46" width="5.3" height="5.3" fill="#231f20"/>
<rect x="404.38" y="495.70" width="5.3" height="5.3" fill="#231f20"/>
<rect x="406.44" y="496.93" width="5.3" height="5.3" fill="#231f20"/>
<rect x="408.50" y="498.17" width="5.3" height="5.3" fill="#231f20"/>
<rect x="410.56" y="499.41" width="5.3" height="5.3" fill="#231f20"/>
<rect x="412.62" y="500.83" width="5.3" height="5.3" fill="#231f20"/>
<rect x="414.67" y="502.63" width="5.3" height="5.3" fill="#231f20"/>
<rect x="416.73" y="504.43" width="5.3" height="5.3" fill="#231f20"/>
<rect x="418.79" y="506.23" width="5.3" height="5.3" fill="#231f20"/>
<rect x="420.85" y="507.85" width="5.3" height="5.3" fill="#231f20"/>
<rect x="258.61" y="399.90" width="4.5" height="4.5" fill="#cbcccd" stroke="#231f20" stroke-width="0.8"/>
<rect x="260.67" y="406.60" width="4.5" height="4.5" fill="#cbcccd" stroke="#231f20" stroke-width="0.8"/>
<rect x="262.73" y="412.72" width="4.5" height="4.5" fill="#cbcccd" stroke="#231f20" stroke-width="0.8"/>
<rect x="264.79" y="417.31" width="4.5" height="4.5" fill="#cbcccd" stroke="#231f20" stroke-width="0.8"/>
<rect x="266.84" y="420.64" width="4.5" height="4.5" fill="#cbcccd" stroke="#231f20" stroke-width="0.8"/>
<rect x="268.90" y="421.82" width="4.5" height="4.5" fill="#cbcccd" stroke="#231f20" stroke-width="0.8"/>
<rect x="270.96" y="420.88" width="4.5" height="4.5" fill="#cbcccd" stroke="#231f20" stroke-width="0.8"/>
<rect x="273.02" y="418.87" width="4.5" height="4.5" fill="#cbcccd" stroke="#231f20" stroke-width="0.8"/>
<rect x="275.08" y="415.72" width="4.5" height="4.5" fill="#cbcccd" stroke="#231f20" stroke-width="0.8"/>
<rect x="277.14" y="410.98" width="4.5" height="4.5" fill="#cbcccd" stroke="#231f20" stroke-width="0.8"/>
<rect x="279.20" y="406.96" width="4.5" height="4.5" fill="#cbcccd" stroke="#231f20" stroke-width="0.8"/>
<rect x="281.25" y="404.25" width="4.5" height="4.5" fill="#cbcccd" stroke="#231f20" stroke-width="0.8"/>
<rect x="283.31" y="405.68" width="4.5" height="4.5" fill="#cbcccd" stroke="#231f20" stroke-width="0.8"/>
<rect x="285.37" y="410.54" width="4.5" height="4.5" fill="#cbcccd" stroke="#231f20" stroke-width="0.8"/>
<rect x="287.43" y="414.90" width="4.5" height="4.5" fill="#cbcccd" stroke="#231f20" stroke-width="0.8"/>
<rect x="289.49" y="419.14" width="4.5" height="4.5" fill="#cbcccd" stroke="#231f20" stroke-width="0.8"/>
<rect x="291.55" y="420.60" width="4.5" height="4.5" fill="#cbcccd" stroke="#231f20" stroke-width="0.8"/>
<rect x="293.61" y="419.97" width="4.5" height="4.5" fill="#cbcccd" stroke="#231f20" stroke-width="0.8"/>
<rect x="295.67" y="417.45" width="4.5" height="4.5" fill="#cbcccd" stroke="#231f20" stroke-width="0.8"/>
<rect x="297.73" y="412.10" width="4.5" height="4.5" fill="#cbcccd" stroke="#231f20" stroke-width="0.8"/>
<rect x="299.78" y="407.34" width="4.5" height="4.5" fill="#cbcccd" stroke="#231f20" stroke-width="0.8"/>
<rect x="301.84" y="400.10" width="4.5" height="4.5" fill="#cbcccd" stroke="#231f20" stroke-width="0.8"/>
<rect x="303.90" y="391.52" width="4.5" height="4.5" fill="#cbcccd" stroke="#231f20" stroke-width="0.8"/>
<rect x="305.96" y="384.46" width="4.5" height="4.5" fill="#cbcccd" stroke="#231f20" stroke-width="0.8"/>
<rect x="308.02" y="378.91" width="4.5" height="4.5" fill="#cbcccd" stroke="#231f20" stroke-width="0.8"/>
<rect x="310.08" y="374.87" width="4.5" height="4.5" fill="#cbcccd" stroke="#231f20" stroke-width="0.8"/>
<rect x="312.14" y="374.47" width="4.5" height="4.5" fill="#cbcccd" stroke="#231f20" stroke-width="0.8"/>
<rect x="314.19" y="379.54" width="4.5" height="4.5" fill="#cbcccd" stroke="#231f20" stroke-width="0.8"/>
<rect x="316.25" y="385.76" width="4.5" height="4.5" fill="#cbcccd" stroke="#231f20" stroke-width="0.8"/>
<rect x="318.31" y="392.75" width="4.5" height="4.5" fill="#cbcccd" stroke="#231f20" stroke-width="0.8"/>
<rect x="320.37" y="400.30" width="4.5" height="4.5" fill="#cbcccd" stroke="#231f20" stroke-width="0.8"/>
<rect x="322.43" y="407.37" width="4.5" height="4.5" fill="#cbcccd" stroke="#231f20" stroke-width="0.8"/>
<rect x="324.49" y="413.91" width="4.5" height="4.5" fill="#cbcccd" stroke="#231f20" stroke-width="0.8"/>
<rect x="326.55" y="420.23" width="4.5" height="4.5" fill="#cbcccd" stroke="#231f20" stroke-width="0.8"/>
<rect x="328.61" y="426.32" width="4.5" height="4.5" fill="#cbcccd" stroke="#231f20" stroke-width="0.8"/>
<rect x="330.67" y="430.57" width="4.5" height="4.5" fill="#cbcccd" stroke="#231f20" stroke-width="0.8"/>
<rect x="332.72" y="435.95" width="4.5" height="4.5" fill="#cbcccd" stroke="#231f20" stroke-width="0.8"/>
<rect x="334.78" y="441.22" width="4.5" height="4.5" fill="#cbcccd" stroke="#231f20" stroke-width="0.8"/>
<rect x="336.84" y="445.33" width="4.5" height="4.5" fill="#cbcccd" stroke="#231f20" stroke-width="0.8"/>
<rect x="338.90" y="449.45" width="4.5" height="4.5" fill="#cbcccd" stroke="#231f20" stroke-width="0.8"/>
<rect x="340.96" y="453.57" width="4.5" height="4.5" fill="#cbcccd" stroke="#231f20" stroke-width="0.8"/>
<rect x="343.02" y="456.89" width="4.5" height="4.5" fill="#cbcccd" stroke="#231f20" stroke-width="0.8"/>
<rect x="345.08" y="459.96" width="4.5" height="4.5" fill="#cbcccd" stroke="#231f20" stroke-width="0.8"/>
<rect x="347.13" y="463.04" width="4.5" height="4.5" fill="#cbcccd" stroke="#231f20" stroke-width="0.8"/>
<rect x="349.19" y="465.88" width="4.5" height="4.5" fill="#cbcccd" stroke="#231f20" stroke-width="0.8"/>
<rect x="351.25" y="468.23" width="4.5" height="4.5" fill="#cbcccd" stroke="#231f20" stroke-width="0.8"/>
<rect x="353.31" y="470.57" width="4.5" height="4.5" fill="#cbcccd" stroke="#231f20" stroke-width="0.8"/>
<rect x="355.37" y="472.91" width="4.5" height="4.5" fill="#cbcccd" stroke="#231f20" stroke-width="0.8"/>
<rect x="357.43" y="475.26" width="4.5" height="4.5" fill="#cbcccd" stroke="#231f20" stroke-width="0.8"/>
<rect x="359.49" y="476.92" width="4.5" height="4.5" fill="#cbcccd" stroke="#231f20" stroke-width="0.8"/>
<rect x="361.55" y="478.35" width="4.5" height="4.5" fill="#cbcccd" stroke="#231f20" stroke-width="0.8"/>
<rect x="363.61" y="479.78" width="4.5" height="4.5" fill="#cbcccd" stroke="#231f20" stroke-width="0.8"/>
<rect x="365.66" y="481.21" width="4.5" height="4.5" fill="#cbcccd" stroke="#231f20" stroke-width="0.8"/>
<rect x="367.72" y="482.64" width="4.5" height="4.5" fill="#cbcccd" stroke="#231f20" stroke-width="0.8"/>
<rect x="369.78" y="484.07" width="4.5" height="4.5" fill="#cbcccd" stroke="#231f20" stroke-width="0.8"/>
<rect x="371.84" y="485.30" width="4.5" height="4.5" fill="#cbcccd" stroke="#231f20" stroke-width="0.8"/>
<rect x="373.90" y="486.53" width="4.5" height="4.5" fill="#cbcccd" stroke="#231f20" stroke-width="0.8"/>
<rect x="375.96" y="487.75" width="4.5" height="4.5" fill="#cbcccd" stroke="#231f20" stroke-width="0.8"/>
<rect x="378.02" y="488.98" width="4.5" height="4.5" fill="#cbcccd" stroke="#231f20" stroke-width="0.8"/>
<rect x="380.08" y="490.21" width="4.5" height="4.5" fill="#cbcccd" stroke="#231f20" stroke-width="0.8"/>
<rect x="382.13" y="491.40" width="4.5" height="4.5" fill="#cbcccd" stroke="#231f20" stroke-width="0.8"/>
<rect x="384.19" y="492.44" width="4.5" height="4.5" fill="#cbcccd" stroke="#231f20" stroke-width="0.8"/>
<rect x="386.25" y="493.49" width="4.5" height="4.5" fill="#cbcccd" stroke="#231f20" stroke-width="0.8"/>
<rect x="388.31" y="494.54" width="4.5" height="4.5" fill="#cbcccd" stroke="#231f20" stroke-width="0.8"/>
<rect x="390.37" y="495.58" width="4.5" height="4.5" fill="#cbcccd" stroke="#231f20" stroke-width="0.8"/>
<rect x="392.43" y="496.63" width="4.5" height="4.5" fill="#cbcccd" stroke="#231f20" stroke-width="0.8"/>
<rect x="394.49" y="497.67" width="4.5" height="4.5" fill="#cbcccd" stroke="#231f20" stroke-width="0.8"/>
<rect x="396.54" y="498.70" width="4.5" height="4.5" fill="#cbcccd" stroke="#231f20" stroke-width="0.8"/>
<rect x="398.60" y="499.73" width="4.5" height="4.5" fill="#cbcccd" stroke="#231f20" stroke-width="0.8"/>
<rect x="400.66" y="500.76" width="4.5" height="4.5" fill="#cbcccd" stroke="#231f20" stroke-width="0.8"/>
<rect x="402.72" y="501.79" width="4.5" height="4.5" fill="#cbcccd" stroke="#231f20" stroke-width="0.8"/>
<rect x="404.78" y="502.81" width="4.5" height="4.5" fill="#cbcccd" stroke="#231f20" stroke-width="0.8"/>
<rect x="406.84" y="504.04" width="4.5" height="4.5" fill="#cbcccd" stroke="#231f20" stroke-width="0.8"/>
<rect x="408.90" y="505.32" width="4.5" height="4.5" fill="#cbcccd" stroke="#231f20" stroke-width="0.8"/>
<rect x="410.96" y="506.59" width="4.5" height="4.5" fill="#cbcccd" stroke="#231f20" stroke-width="0.8"/>
<rect x="413.01" y="507.87" width="4.5" height="4.5" fill="#cbcccd" stroke="#231f20" stroke-width="0.8"/>
<rect x="415.07" y="509.18" width="4.5" height="4.5" fill="#cbcccd" stroke="#231f20" stroke-width="0.8"/>
<rect x="417.13" y="510.66" width="4.5" height="4.5" fill="#cbcccd" stroke="#231f20" stroke-width="0.8"/>
<rect x="419.19" y="512.13" width="4.5" height="4.5" fill="#cbcccd" stroke="#231f20" stroke-width="0.8"/>
<rect x="421.25" y="513.25" width="4.5" height="4.5" fill="#cbcccd" stroke="#231f20" stroke-width="0.8"/>
<path d="M145.40,245.90 L150.00,245.90 L147.70,250.90 Z M147.46,245.90 L152.06,245.90 L149.76,250.90 Z M149.53,245.90 L154.13,245.90 L151.83,250.90 Z M151.59,245.90 L156.19,245.90 L153.89,250.90 Z M153.65,245.90 L158.25,245.90 L155.95,250.90 Z M155.71,245.90 L160.31,245.90 L158.01,250.90 Z M157.78,245.90 L162.38,245.90 L160.08,250.90 Z M159.84,245.90 L164.44,245.90 L162.14,250.90 Z M161.90,245.90 L166.50,245.90 L164.20,250.90 Z M163.96,245.90 L168.56,245.90 L166.26,250.90 Z M166.03,245.90 L170.63,245.90 L168.33,250.90 Z M168.09,245.90 L172.69,245.90 L170.39,250.90 Z M170.15,245.90 L174.75,245.90 L172.45,250.90 Z M172.21,245.90 L176.81,245.90 L174.51,250.90 Z M174.28,245.90 L178.88,245.90 L176.58,250.90 Z M176.34,245.90 L180.94,245.90 L178.64,250.90 Z M178.40,245.90 L183.00,245.90 L180.70,250.90 Z M180.46,245.90 L185.06,245.90 L182.76,250.90 Z M182.53,245.90 L187.13,245.90 L184.83,250.90 Z M184.59,245.90 L189.19,245.90 L186.89,250.90 Z M186.65,245.90 L191.25,245.90 L188.95,250.90 Z M188.71,245.90 L193.31,245.90 L191.01,250.90 Z M190.78,245.90 L195.38,245.90 L193.08,250.90 Z M192.84,245.90 L197.44,245.90 L195.14,250.90 Z M194.90,245.90 L199.50,245.90 L197.20,250.90 Z M196.96,245.90 L201.56,245.90 L199.26,250.90 Z M199.03,245.90 L203.63,245.90 L201.33,250.90 Z M201.09,245.90 L205.69,245.90 L203.39,250.90 Z M203.15,245.90 L207.75,245.90 L205.45,250.90 Z M205.21,245.90 L209.81,245.90 L207.51,250.90 Z M207.28,245.90 L211.88,245.90 L209.58,250.90 Z M209.34,245.90 L213.94,245.90 L211.64,250.90 Z M211.40,245.90 L216.00,245.90 L213.70,250.90 Z M213.46,245.90 L218.06,245.90 L215.76,250.90 Z M215.53,245.90 L220.13,245.90 L217.83,250.90 Z M217.59,245.90 L222.19,245.90 L219.89,250.90 Z M219.65,245.90 L224.25,245.90 L221.95,250.90 Z M221.71,245.90 L226.31,245.90 L224.01,250.90 Z M223.78,245.90 L228.38,245.90 L226.08,250.90 Z" fill="#8d8e90"/>
<path d="M263.17,249.30 L267.96,249.30 L265.56,244.10 Z M265.22,249.30 L270.02,249.30 L267.62,244.10 Z M267.27,249.30 L272.07,249.30 L269.67,244.10 Z M269.33,249.30 L274.13,249.30 L271.73,244.10 Z" fill="#8d8e90"/>
<path d="M119.51,537.20 L124.51,537.20 L122.01,542.10 Z M121.57,537.20 L126.57,537.20 L124.07,542.10 Z M123.62,537.20 L128.62,537.20 L126.12,542.10 Z M125.68,537.20 L130.68,537.20 L128.18,542.10 Z M127.74,537.20 L132.74,537.20 L130.24,542.10 Z M129.80,537.20 L134.80,537.20 L132.30,542.10 Z M131.86,537.20 L136.86,537.20 L134.36,542.10 Z M133.91,537.20 L138.91,537.20 L136.41,542.10 Z M135.97,537.20 L140.97,537.20 L138.47,542.10 Z M138.03,537.20 L143.03,537.20 L140.53,542.10 Z M140.09,537.20 L145.09,537.20 L142.59,542.10 Z M142.14,537.20 L147.14,537.20 L144.64,542.10 Z M144.20,537.20 L149.20,537.20 L146.70,542.10 Z M146.26,537.20 L151.26,537.20 L148.76,542.10 Z M148.31,537.20 L153.31,537.20 L150.81,542.10 Z M150.37,537.20 L155.37,537.20 L152.87,542.10 Z M152.43,537.20 L157.43,537.20 L154.93,542.10 Z M154.49,537.20 L159.49,537.20 L156.99,542.10 Z M156.55,537.20 L161.55,537.20 L159.05,542.10 Z M158.60,537.20 L163.60,537.20 L161.10,542.10 Z M160.66,537.20 L165.66,537.20 L163.16,542.10 Z M162.72,537.20 L167.72,537.20 L165.22,542.10 Z M164.78,537.20 L169.78,537.20 L167.28,542.10 Z M166.83,537.20 L171.83,537.20 L169.33,542.10 Z M168.89,537.20 L173.89,537.20 L171.39,542.10 Z M170.95,537.20 L175.95,537.20 L173.45,542.10 Z M173.00,537.20 L178.00,537.20 L175.50,542.10 Z M175.06,537.20 L180.06,537.20 L177.56,542.10 Z M177.12,537.20 L182.12,537.20 L179.62,542.10 Z M179.18,537.20 L184.18,537.20 L181.68,542.10 Z M181.24,537.20 L186.24,537.20 L183.74,542.10 Z M183.29,537.20 L188.29,537.20 L185.79,542.10 Z M185.35,537.20 L190.35,537.20 L187.85,542.10 Z M187.41,537.20 L192.41,537.20 L189.91,542.10 Z M189.46,537.20 L194.46,537.20 L191.96,542.10 Z M191.52,537.20 L196.52,537.20 L194.02,542.10 Z M193.58,537.20 L198.58,537.20 L196.08,542.10 Z M195.64,537.20 L200.64,537.20 L198.14,542.10 Z M197.70,537.20 L202.70,537.20 L200.20,542.10 Z M199.75,537.20 L204.75,537.20 L202.25,542.10 Z M201.81,537.20 L206.81,537.20 L204.31,542.10 Z M203.87,537.20 L208.87,537.20 L206.37,542.10 Z M205.93,537.20 L210.93,537.20 L208.43,542.10 Z M207.98,537.20 L212.98,537.20 L210.48,542.10 Z M210.04,537.20 L215.04,537.20 L212.54,542.10 Z M212.10,537.20 L217.10,537.20 L214.60,542.10 Z M214.16,537.20 L219.16,537.20 L216.66,542.10 Z M216.21,537.20 L221.21,537.20 L218.71,542.10 Z M218.27,537.20 L223.27,537.20 L220.77,542.10 Z M220.33,537.20 L225.33,537.20 L222.83,542.10 Z M222.38,537.20 L227.38,537.20 L224.88,542.10 Z M224.44,537.20 L229.44,537.20 L226.94,542.10 Z M226.50,537.20 L231.50,537.20 L229.00,542.10 Z" fill="#8d8e90"/>
<line x1="533.32" y1="35.30" x2="533.32" y2="253.30" stroke="#e6e6e6" stroke-width="1" stroke-dasharray="1 3"/>
<line x1="568.34" y1="35.30" x2="568.34" y2="253.30" stroke="#e6e6e6" stroke-width="1" stroke-dasharray="1 3"/>
<line x1="603.36" y1="35.30" x2="603.36" y2="253.30" stroke="#e6e6e6" stroke-width="1" stroke-dasharray="1 3"/>
<line x1="638.38" y1="35.30" x2="638.38" y2="253.30" stroke="#e6e6e6" stroke-width="1" stroke-dasharray="1 3"/>
<line x1="673.40" y1="35.30" x2="673.40" y2="253.30" stroke="#e6e6e6" stroke-width="1" stroke-dasharray="1 3"/>
<line x1="498.30" y1="35.30" x2="498.30" y2="256.80" stroke="#444444" stroke-width="1.3" />
<line x1="492.80" y1="254.30" x2="673.40" y2="254.30" stroke="#444444" stroke-width="1.3" />
<line x1="533.32" y1="254.30" x2="533.32" y2="257.10" stroke="#444444" stroke-width="1.3" />
<line x1="568.34" y1="254.30" x2="568.34" y2="257.10" stroke="#444444" stroke-width="1.3" />
<line x1="603.36" y1="254.30" x2="603.36" y2="257.10" stroke="#444444" stroke-width="1.3" />
<line x1="638.38" y1="254.30" x2="638.38" y2="257.10" stroke="#444444" stroke-width="1.3" />
<line x1="673.40" y1="254.30" x2="673.40" y2="257.10" stroke="#444444" stroke-width="1.3" />
<line x1="492.80" y1="189.97" x2="498.30" y2="189.97" stroke="#444444" stroke-width="1.2" />
<line x1="492.80" y1="125.64" x2="498.30" y2="125.64" stroke="#444444" stroke-width="1.2" />
<line x1="492.80" y1="61.31" x2="498.30" y2="61.31" stroke="#444444" stroke-width="1.2" />
<text transform="translate(485.60,260.30) scale(0.98,1.05)" x="0" y="0" font-family="Liberation Sans" font-size="15" font-weight="normal" font-style="normal" text-anchor="end" fill="#231f20" >0</text>
<text transform="translate(485.60,195.97) scale(0.98,1.05)" x="0" y="0" font-family="Liberation Sans" font-size="15" font-weight="normal" font-style="normal" text-anchor="end" fill="#231f20" >100</text>
<text transform="translate(485.60,131.64) scale(0.98,1.05)" x="0" y="0" font-family="Liberation Sans" font-size="15" font-weight="normal" font-style="normal" text-anchor="end" fill="#231f20" >200</text>
<text transform="translate(485.60,67.31) scale(0.98,1.05)" x="0" y="0" font-family="Liberation Sans" font-size="15" font-weight="normal" font-style="normal" text-anchor="end" fill="#231f20" >300</text>
<text transform="translate(498.30,278.50) scale(0.98,1.05)" x="0" y="0" font-family="Liberation Sans" font-size="15" font-weight="normal" font-style="normal" text-anchor="middle" fill="#231f20" >5</text>
<text transform="translate(533.32,278.50) scale(0.98,1.05)" x="0" y="0" font-family="Liberation Sans" font-size="15" font-weight="normal" font-style="normal" text-anchor="middle" fill="#231f20" >6</text>
<text transform="translate(568.34,278.50) scale(0.98,1.05)" x="0" y="0" font-family="Liberation Sans" font-size="15" font-weight="normal" font-style="normal" text-anchor="middle" fill="#231f20" >7</text>
<text transform="translate(603.36,278.50) scale(0.98,1.05)" x="0" y="0" font-family="Liberation Sans" font-size="15" font-weight="normal" font-style="normal" text-anchor="middle" fill="#231f20" >8</text>
<text transform="translate(638.38,278.50) scale(0.98,1.05)" x="0" y="0" font-family="Liberation Sans" font-size="15" font-weight="normal" font-style="normal" text-anchor="middle" fill="#231f20" >9</text>
<text transform="translate(673.40,278.50) scale(0.98,1.05)" x="0" y="0" font-family="Liberation Sans" font-size="15" font-weight="normal" font-style="normal" text-anchor="middle" fill="#231f20" >10</text>
<line x1="536.50" y1="326.40" x2="536.50" y2="544.50" stroke="#e6e6e6" stroke-width="1" stroke-dasharray="1 3"/>
<line x1="571.60" y1="326.40" x2="571.60" y2="544.50" stroke="#e6e6e6" stroke-width="1" stroke-dasharray="1 3"/>
<line x1="606.70" y1="326.40" x2="606.70" y2="544.50" stroke="#e6e6e6" stroke-width="1" stroke-dasharray="1 3"/>
<line x1="641.80" y1="326.40" x2="641.80" y2="544.50" stroke="#e6e6e6" stroke-width="1" stroke-dasharray="1 3"/>
<line x1="676.90" y1="326.40" x2="676.90" y2="544.50" stroke="#e6e6e6" stroke-width="1" stroke-dasharray="1 3"/>
<line x1="501.40" y1="326.40" x2="501.40" y2="548.00" stroke="#444444" stroke-width="1.3" />
<line x1="495.90" y1="545.50" x2="676.90" y2="545.50" stroke="#444444" stroke-width="1.3" />
<line x1="536.50" y1="545.50" x2="536.50" y2="548.30" stroke="#444444" stroke-width="1.3" />
<line x1="571.60" y1="545.50" x2="571.60" y2="548.30" stroke="#444444" stroke-width="1.3" />
<line x1="606.70" y1="545.50" x2="606.70" y2="548.30" stroke="#444444" stroke-width="1.3" />
<line x1="641.80" y1="545.50" x2="641.80" y2="548.30" stroke="#444444" stroke-width="1.3" />
<line x1="676.90" y1="545.50" x2="676.90" y2="548.30" stroke="#444444" stroke-width="1.3" />
<line x1="495.90" y1="511.70" x2="501.40" y2="511.70" stroke="#444444" stroke-width="1.2" />
<line x1="495.90" y1="477.90" x2="501.40" y2="477.90" stroke="#444444" stroke-width="1.2" />
<line x1="495.90" y1="444.10" x2="501.40" y2="444.10" stroke="#444444" stroke-width="1.2" />
<line x1="495.90" y1="410.30" x2="501.40" y2="410.30" stroke="#444444" stroke-width="1.2" />
<line x1="495.90" y1="376.50" x2="501.40" y2="376.50" stroke="#444444" stroke-width="1.2" />
<line x1="495.90" y1="342.70" x2="501.40" y2="342.70" stroke="#444444" stroke-width="1.2" />
<text transform="translate(489.00,551.50) scale(0.98,1.05)" x="0" y="0" font-family="Liberation Sans" font-size="15" font-weight="normal" font-style="normal" text-anchor="end" fill="#231f20" >0</text>
<text transform="translate(489.00,517.70) scale(0.98,1.05)" x="0" y="0" font-family="Liberation Sans" font-size="15" font-weight="normal" font-style="normal" text-anchor="end" fill="#231f20" >100</text>
<text transform="translate(489.00,483.90) scale(0.98,1.05)" x="0" y="0" font-family="Liberation Sans" font-size="15" font-weight="normal" font-style="normal" text-anchor="end" fill="#231f20" >200</text>
<text transform="translate(489.00,450.10) scale(0.98,1.05)" x="0" y="0" font-family="Liberation Sans" font-size="15" font-weight="normal" font-style="normal" text-anchor="end" fill="#231f20" >300</text>
<text transform="translate(489.00,416.30) scale(0.98,1.05)" x="0" y="0" font-family="Liberation Sans" font-size="15" font-weight="normal" font-style="normal" text-anchor="end" fill="#231f20" >400</text>
<text transform="translate(489.00,382.50) scale(0.98,1.05)" x="0" y="0" font-family="Liberation Sans" font-size="15" font-weight="normal" font-style="normal" text-anchor="end" fill="#231f20" >500</text>
<text transform="translate(489.00,348.70) scale(0.98,1.05)" x="0" y="0" font-family="Liberation Sans" font-size="15" font-weight="normal" font-style="normal" text-anchor="end" fill="#231f20" >600</text>
<text transform="translate(501.40,569.70) scale(0.98,1.05)" x="0" y="0" font-family="Liberation Sans" font-size="15" font-weight="normal" font-style="normal" text-anchor="middle" fill="#231f20" >5</text>
<text transform="translate(536.50,569.70) scale(0.98,1.05)" x="0" y="0" font-family="Liberation Sans" font-size="15" font-weight="normal" font-style="normal" text-anchor="middle" fill="#231f20" >6</text>
<text transform="translate(571.60,569.70) scale(0.98,1.05)" x="0" y="0" font-family="Liberation Sans" font-size="15" font-weight="normal" font-style="normal" text-anchor="middle" fill="#231f20" >7</text>
<text transform="translate(606.70,569.70) scale(0.98,1.05)" x="0" y="0" font-family="Liberation Sans" font-size="15" font-weight="normal" font-style="normal" text-anchor="middle" fill="#231f20" >8</text>
<text transform="translate(641.80,569.70) scale(0.98,1.05)" x="0" y="0" font-family="Liberation Sans" font-size="15" font-weight="normal" font-style="normal" text-anchor="middle" fill="#231f20" >9</text>
<text transform="translate(676.90,569.70) scale(0.98,1.05)" x="0" y="0" font-family="Liberation Sans" font-size="15" font-weight="normal" font-style="normal" text-anchor="middle" fill="#231f20" >10</text>
<line x1="498.30" y1="120.70" x2="498.30" y2="126.70" stroke="#c8c8c8" stroke-width="1.2"/>
<line x1="507.06" y1="126.10" x2="507.06" y2="132.10" stroke="#c8c8c8" stroke-width="1.2"/>
<line x1="515.81" y1="131.70" x2="515.81" y2="137.70" stroke="#c8c8c8" stroke-width="1.2"/>
<line x1="524.57" y1="133.60" x2="524.57" y2="141.60" stroke="#c8c8c8" stroke-width="1.2"/>
<line x1="533.32" y1="133.80" x2="533.32" y2="143.80" stroke="#c8c8c8" stroke-width="1.2"/>
<line x1="542.08" y1="130.10" x2="542.08" y2="146.10" stroke="#c8c8c8" stroke-width="1.2"/>
<line x1="550.83" y1="119.50" x2="550.83" y2="144.90" stroke="#c8c8c8" stroke-width="1.2"/>
<line x1="559.59" y1="97.80" x2="559.59" y2="141.80" stroke="#c8c8c8" stroke-width="1.2"/>
<line x1="568.34" y1="87.70" x2="568.34" y2="135.70" stroke="#c8c8c8" stroke-width="1.2"/>
<line x1="577.10" y1="97.80" x2="577.10" y2="135.80" stroke="#c8c8c8" stroke-width="1.2"/>
<line x1="585.85" y1="110.80" x2="585.85" y2="144.80" stroke="#c8c8c8" stroke-width="1.2"/>
<line x1="594.61" y1="121.70" x2="594.61" y2="151.70" stroke="#c8c8c8" stroke-width="1.2"/>
<line x1="603.36" y1="133.80" x2="603.36" y2="161.80" stroke="#c8c8c8" stroke-width="1.2"/>
<line x1="612.12" y1="150.10" x2="612.12" y2="170.10" stroke="#c8c8c8" stroke-width="1.2"/>
<line x1="620.87" y1="164.30" x2="620.87" y2="178.30" stroke="#c8c8c8" stroke-width="1.2"/>
<line x1="629.62" y1="175.90" x2="629.62" y2="185.90" stroke="#c8c8c8" stroke-width="1.2"/>
<line x1="638.38" y1="184.80" x2="638.38" y2="192.80" stroke="#c8c8c8" stroke-width="1.2"/>
<line x1="647.13" y1="192.00" x2="647.13" y2="198.00" stroke="#c8c8c8" stroke-width="1.2"/>
<line x1="655.89" y1="197.60" x2="655.89" y2="203.60" stroke="#c8c8c8" stroke-width="1.2"/>
<line x1="664.64" y1="202.60" x2="664.64" y2="206.60" stroke="#c8c8c8" stroke-width="1.2"/>
<line x1="673.40" y1="205.50" x2="673.40" y2="209.50" stroke="#c8c8c8" stroke-width="1.2"/>
<polyline points="498.30,123.70 507.06,129.10 515.81,134.70 524.57,137.60 533.32,138.80 542.08,138.10 550.83,132.20 559.59,119.80 568.34,111.70 577.10,116.80 585.85,127.80 594.61,136.70 603.36,147.80 612.12,160.10 620.87,171.30 629.62,180.90 638.38,188.80 647.13,195.00 655.89,200.60 664.64,204.60 673.40,207.50" fill="none" stroke="#c8c8c8" stroke-width="3.2" stroke-linejoin="round"/>
<rect x="495.15" y="120.55" width="6.30" height="6.30" fill="#cbcccd" stroke="#231f20" stroke-width="1.3"/>
<rect x="503.90" y="125.95" width="6.30" height="6.30" fill="#cbcccd" stroke="#231f20" stroke-width="1.3"/>
<rect x="512.66" y="131.55" width="6.30" height="6.30" fill="#cbcccd" stroke="#231f20" stroke-width="1.3"/>
<rect x="521.42" y="134.45" width="6.30" height="6.30" fill="#cbcccd" stroke="#231f20" stroke-width="1.3"/>
<rect x="530.17" y="135.65" width="6.30" height="6.30" fill="#cbcccd" stroke="#231f20" stroke-width="1.3"/>
<rect x="538.93" y="134.95" width="6.30" height="6.30" fill="#cbcccd" stroke="#231f20" stroke-width="1.3"/>
<rect x="547.68" y="129.05" width="6.30" height="6.30" fill="#cbcccd" stroke="#231f20" stroke-width="1.3"/>
<rect x="556.44" y="116.65" width="6.30" height="6.30" fill="#cbcccd" stroke="#231f20" stroke-width="1.3"/>
<rect x="565.19" y="108.55" width="6.30" height="6.30" fill="#cbcccd" stroke="#231f20" stroke-width="1.3"/>
<rect x="573.95" y="113.65" width="6.30" height="6.30" fill="#cbcccd" stroke="#231f20" stroke-width="1.3"/>
<rect x="582.70" y="124.65" width="6.30" height="6.30" fill="#cbcccd" stroke="#231f20" stroke-width="1.3"/>
<rect x="591.46" y="133.55" width="6.30" height="6.30" fill="#cbcccd" stroke="#231f20" stroke-width="1.3"/>
<rect x="600.21" y="144.65" width="6.30" height="6.30" fill="#cbcccd" stroke="#231f20" stroke-width="1.3"/>
<rect x="608.97" y="156.95" width="6.30" height="6.30" fill="#cbcccd" stroke="#231f20" stroke-width="1.3"/>
<rect x="617.72" y="168.15" width="6.30" height="6.30" fill="#cbcccd" stroke="#231f20" stroke-width="1.3"/>
<rect x="626.48" y="177.75" width="6.30" height="6.30" fill="#cbcccd" stroke="#231f20" stroke-width="1.3"/>
<rect x="635.23" y="185.65" width="6.30" height="6.30" fill="#cbcccd" stroke="#231f20" stroke-width="1.3"/>
<rect x="643.99" y="191.85" width="6.30" height="6.30" fill="#cbcccd" stroke="#231f20" stroke-width="1.3"/>
<rect x="652.74" y="197.45" width="6.30" height="6.30" fill="#cbcccd" stroke="#231f20" stroke-width="1.3"/>
<rect x="661.50" y="201.45" width="6.30" height="6.30" fill="#cbcccd" stroke="#231f20" stroke-width="1.3"/>
<rect x="670.25" y="204.35" width="6.30" height="6.30" fill="#cbcccd" stroke="#231f20" stroke-width="1.3"/>
<line x1="498.30" y1="134.10" x2="498.30" y2="142.10" stroke="#231f20" stroke-width="1.0"/>
<line x1="507.06" y1="134.60" x2="507.06" y2="144.60" stroke="#231f20" stroke-width="1.0"/>
<line x1="515.81" y1="137.60" x2="515.81" y2="147.60" stroke="#231f20" stroke-width="1.0"/>
<line x1="524.57" y1="142.20" x2="524.57" y2="152.20" stroke="#231f20" stroke-width="1.0"/>
<line x1="533.32" y1="147.80" x2="533.32" y2="157.80" stroke="#231f20" stroke-width="1.0"/>
<line x1="542.08" y1="152.50" x2="542.08" y2="162.50" stroke="#231f20" stroke-width="1.0"/>
<line x1="550.83" y1="151.10" x2="550.83" y2="161.10" stroke="#231f20" stroke-width="1.0"/>
<line x1="559.59" y1="145.10" x2="559.59" y2="157.10" stroke="#231f20" stroke-width="1.0"/>
<line x1="568.34" y1="134.80" x2="568.34" y2="148.80" stroke="#231f20" stroke-width="1.0"/>
<line x1="577.10" y1="117.60" x2="577.10" y2="135.60" stroke="#231f20" stroke-width="1.0"/>
<line x1="585.85" y1="94.50" x2="585.85" y2="112.50" stroke="#231f20" stroke-width="1.0"/>
<line x1="594.61" y1="77.10" x2="594.61" y2="100.10" stroke="#231f20" stroke-width="1.0"/>
<line x1="603.36" y1="86.90" x2="603.36" y2="108.90" stroke="#231f20" stroke-width="1.0"/>
<line x1="612.12" y1="109.60" x2="612.12" y2="126.60" stroke="#231f20" stroke-width="1.0"/>
<line x1="620.87" y1="133.50" x2="620.87" y2="145.50" stroke="#231f20" stroke-width="1.0"/>
<line x1="629.62" y1="149.40" x2="629.62" y2="159.40" stroke="#231f20" stroke-width="1.0"/>
<line x1="638.38" y1="163.60" x2="638.38" y2="171.60" stroke="#231f20" stroke-width="1.0"/>
<line x1="647.13" y1="174.60" x2="647.13" y2="180.60" stroke="#231f20" stroke-width="1.0"/>
<line x1="655.89" y1="183.70" x2="655.89" y2="189.70" stroke="#231f20" stroke-width="1.0"/>
<line x1="664.64" y1="192.30" x2="664.64" y2="196.30" stroke="#231f20" stroke-width="1.0"/>
<line x1="673.40" y1="198.30" x2="673.40" y2="202.30" stroke="#231f20" stroke-width="1.0"/>
<polyline points="498.30,138.10 507.06,139.60 515.81,142.60 524.57,147.20 533.32,152.80 542.08,157.50 550.83,156.10 559.59,151.10 568.34,141.80 577.10,126.60 585.85,103.50 594.61,88.60 603.36,97.90 612.12,118.10 620.87,139.50 629.62,154.40 638.38,167.60 647.13,177.60 655.89,186.70 664.64,194.30 673.40,200.30" fill="none" stroke="#231f20" stroke-width="3.2" stroke-linejoin="round"/>
<rect x="494.50" y="134.30" width="7.6" height="7.6" fill="#231f20"/>
<rect x="503.25" y="135.80" width="7.6" height="7.6" fill="#231f20"/>
<rect x="512.01" y="138.80" width="7.6" height="7.6" fill="#231f20"/>
<rect x="520.77" y="143.40" width="7.6" height="7.6" fill="#231f20"/>
<rect x="529.52" y="149.00" width="7.6" height="7.6" fill="#231f20"/>
<rect x="538.28" y="153.70" width="7.6" height="7.6" fill="#231f20"/>
<rect x="547.03" y="152.30" width="7.6" height="7.6" fill="#231f20"/>
<rect x="555.79" y="147.30" width="7.6" height="7.6" fill="#231f20"/>
<rect x="564.54" y="138.00" width="7.6" height="7.6" fill="#231f20"/>
<rect x="573.30" y="122.80" width="7.6" height="7.6" fill="#231f20"/>
<rect x="582.05" y="99.70" width="7.6" height="7.6" fill="#231f20"/>
<rect x="590.81" y="84.80" width="7.6" height="7.6" fill="#231f20"/>
<rect x="599.56" y="94.10" width="7.6" height="7.6" fill="#231f20"/>
<rect x="608.32" y="114.30" width="7.6" height="7.6" fill="#231f20"/>
<rect x="617.07" y="135.70" width="7.6" height="7.6" fill="#231f20"/>
<rect x="625.83" y="150.60" width="7.6" height="7.6" fill="#231f20"/>
<rect x="634.58" y="163.80" width="7.6" height="7.6" fill="#231f20"/>
<rect x="643.34" y="173.80" width="7.6" height="7.6" fill="#231f20"/>
<rect x="652.09" y="182.90" width="7.6" height="7.6" fill="#231f20"/>
<rect x="660.85" y="190.50" width="7.6" height="7.6" fill="#231f20"/>
<rect x="669.60" y="196.50" width="7.6" height="7.6" fill="#231f20"/>
<line x1="501.40" y1="488.10" x2="501.40" y2="496.10" stroke="#231f20" stroke-width="1.0"/>
<line x1="510.17" y1="487.70" x2="510.17" y2="495.70" stroke="#231f20" stroke-width="1.0"/>
<line x1="518.95" y1="486.00" x2="518.95" y2="494.00" stroke="#231f20" stroke-width="1.0"/>
<line x1="527.73" y1="483.50" x2="527.73" y2="491.50" stroke="#231f20" stroke-width="1.0"/>
<line x1="536.50" y1="480.50" x2="536.50" y2="488.50" stroke="#231f20" stroke-width="1.0"/>
<line x1="545.27" y1="475.60" x2="545.27" y2="485.60" stroke="#231f20" stroke-width="1.0"/>
<line x1="554.05" y1="469.80" x2="554.05" y2="479.80" stroke="#231f20" stroke-width="1.0"/>
<line x1="562.82" y1="459.90" x2="562.82" y2="471.90" stroke="#231f20" stroke-width="1.0"/>
<line x1="571.60" y1="444.40" x2="571.60" y2="460.40" stroke="#231f20" stroke-width="1.0"/>
<line x1="580.38" y1="420.50" x2="580.38" y2="440.50" stroke="#231f20" stroke-width="1.0"/>
<line x1="589.15" y1="383.00" x2="589.15" y2="410.20" stroke="#231f20" stroke-width="1.0"/>
<line x1="597.92" y1="347.30" x2="597.92" y2="387.30" stroke="#231f20" stroke-width="1.0"/>
<line x1="606.70" y1="355.10" x2="606.70" y2="387.10" stroke="#231f20" stroke-width="1.0"/>
<line x1="615.48" y1="380.10" x2="615.48" y2="412.10" stroke="#231f20" stroke-width="1.0"/>
<line x1="624.25" y1="411.20" x2="624.25" y2="438.40" stroke="#231f20" stroke-width="1.0"/>
<line x1="633.02" y1="439.20" x2="633.02" y2="458.00" stroke="#231f20" stroke-width="1.0"/>
<line x1="641.80" y1="460.70" x2="641.80" y2="474.70" stroke="#231f20" stroke-width="1.0"/>
<line x1="650.58" y1="476.60" x2="650.58" y2="486.60" stroke="#231f20" stroke-width="1.0"/>
<line x1="659.35" y1="488.10" x2="659.35" y2="496.10" stroke="#231f20" stroke-width="1.0"/>
<line x1="668.12" y1="498.00" x2="668.12" y2="504.00" stroke="#231f20" stroke-width="1.0"/>
<line x1="676.90" y1="504.80" x2="676.90" y2="510.80" stroke="#231f20" stroke-width="1.0"/>
<polyline points="501.40,492.10 510.17,491.70 518.95,490.00 527.73,487.50 536.50,484.50 545.27,480.60 554.05,474.80 562.82,465.90 571.60,452.40 580.38,430.50 589.15,396.60 597.92,367.30 606.70,371.10 615.48,396.10 624.25,424.80 633.02,448.60 641.80,467.70 650.58,481.60 659.35,492.10 668.12,501.00 676.90,507.80" fill="none" stroke="#231f20" stroke-width="3.2" stroke-linejoin="round"/>
<rect x="497.60" y="488.30" width="7.6" height="7.6" fill="#231f20"/>
<rect x="506.37" y="487.90" width="7.6" height="7.6" fill="#231f20"/>
<rect x="515.15" y="486.20" width="7.6" height="7.6" fill="#231f20"/>
<rect x="523.93" y="483.70" width="7.6" height="7.6" fill="#231f20"/>
<rect x="532.70" y="480.70" width="7.6" height="7.6" fill="#231f20"/>
<rect x="541.48" y="476.80" width="7.6" height="7.6" fill="#231f20"/>
<rect x="550.25" y="471.00" width="7.6" height="7.6" fill="#231f20"/>
<rect x="559.02" y="462.10" width="7.6" height="7.6" fill="#231f20"/>
<rect x="567.80" y="448.60" width="7.6" height="7.6" fill="#231f20"/>
<rect x="576.58" y="426.70" width="7.6" height="7.6" fill="#231f20"/>
<rect x="585.35" y="392.80" width="7.6" height="7.6" fill="#231f20"/>
<rect x="594.12" y="363.50" width="7.6" height="7.6" fill="#231f20"/>
<rect x="602.90" y="367.30" width="7.6" height="7.6" fill="#231f20"/>
<rect x="611.68" y="392.30" width="7.6" height="7.6" fill="#231f20"/>
<rect x="620.45" y="421.00" width="7.6" height="7.6" fill="#231f20"/>
<rect x="629.23" y="444.80" width="7.6" height="7.6" fill="#231f20"/>
<rect x="638.00" y="463.90" width="7.6" height="7.6" fill="#231f20"/>
<rect x="646.78" y="477.80" width="7.6" height="7.6" fill="#231f20"/>
<rect x="655.55" y="488.30" width="7.6" height="7.6" fill="#231f20"/>
<rect x="664.33" y="497.20" width="7.6" height="7.6" fill="#231f20"/>
<rect x="673.10" y="504.00" width="7.6" height="7.6" fill="#231f20"/>
<line x1="501.40" y1="473.40" x2="501.40" y2="481.40" stroke="#c8c8c8" stroke-width="1.2"/>
<line x1="510.17" y1="471.70" x2="510.17" y2="479.70" stroke="#c8c8c8" stroke-width="1.2"/>
<line x1="518.95" y1="469.50" x2="518.95" y2="477.50" stroke="#c8c8c8" stroke-width="1.2"/>
<line x1="527.73" y1="464.80" x2="527.73" y2="474.80" stroke="#c8c8c8" stroke-width="1.2"/>
<line x1="536.50" y1="458.70" x2="536.50" y2="470.70" stroke="#c8c8c8" stroke-width="1.2"/>
<line x1="545.27" y1="450.30" x2="545.27" y2="466.30" stroke="#c8c8c8" stroke-width="1.2"/>
<line x1="554.05" y1="438.60" x2="554.05" y2="458.60" stroke="#c8c8c8" stroke-width="1.2"/>
<line x1="562.82" y1="420.60" x2="562.82" y2="448.60" stroke="#c8c8c8" stroke-width="1.2"/>
<line x1="571.60" y1="406.00" x2="571.60" y2="440.00" stroke="#c8c8c8" stroke-width="1.2"/>
<line x1="580.38" y1="402.60" x2="580.38" y2="442.60" stroke="#c8c8c8" stroke-width="1.2"/>
<line x1="589.15" y1="413.40" x2="589.15" y2="443.40" stroke="#c8c8c8" stroke-width="1.2"/>
<line x1="597.92" y1="423.70" x2="597.92" y2="451.70" stroke="#c8c8c8" stroke-width="1.2"/>
<line x1="606.70" y1="437.70" x2="606.70" y2="463.70" stroke="#c8c8c8" stroke-width="1.2"/>
<line x1="615.48" y1="452.70" x2="615.48" y2="478.70" stroke="#c8c8c8" stroke-width="1.2"/>
<line x1="624.25" y1="470.00" x2="624.25" y2="490.00" stroke="#c8c8c8" stroke-width="1.2"/>
<line x1="633.02" y1="483.50" x2="633.02" y2="499.50" stroke="#c8c8c8" stroke-width="1.2"/>
<line x1="641.80" y1="494.00" x2="641.80" y2="506.00" stroke="#c8c8c8" stroke-width="1.2"/>
<line x1="650.58" y1="502.80" x2="650.58" y2="510.80" stroke="#c8c8c8" stroke-width="1.2"/>
<line x1="659.35" y1="509.10" x2="659.35" y2="515.10" stroke="#c8c8c8" stroke-width="1.2"/>
<line x1="668.12" y1="512.80" x2="668.12" y2="518.80" stroke="#c8c8c8" stroke-width="1.2"/>
<line x1="676.90" y1="516.00" x2="676.90" y2="522.00" stroke="#c8c8c8" stroke-width="1.2"/>
<polyline points="501.40,477.40 510.17,475.70 518.95,473.50 527.73,469.80 536.50,464.70 545.27,458.30 554.05,448.60 562.82,434.60 571.60,423.00 580.38,422.60 589.15,428.40 597.92,437.70 606.70,450.70 615.48,465.70 624.25,480.00 633.02,491.50 641.80,500.00 650.58,506.80 659.35,512.10 668.12,515.80 676.90,519.00" fill="none" stroke="#c8c8c8" stroke-width="3.2" stroke-linejoin="round"/>
<rect x="498.25" y="474.25" width="6.30" height="6.30" fill="#cbcccd" stroke="#231f20" stroke-width="1.3"/>
<rect x="507.02" y="472.55" width="6.30" height="6.30" fill="#cbcccd" stroke="#231f20" stroke-width="1.3"/>
<rect x="515.80" y="470.35" width="6.30" height="6.30" fill="#cbcccd" stroke="#231f20" stroke-width="1.3"/>
<rect x="524.58" y="466.65" width="6.30" height="6.30" fill="#cbcccd" stroke="#231f20" stroke-width="1.3"/>
<rect x="533.35" y="461.55" width="6.30" height="6.30" fill="#cbcccd" stroke="#231f20" stroke-width="1.3"/>
<rect x="542.12" y="455.15" width="6.30" height="6.30" fill="#cbcccd" stroke="#231f20" stroke-width="1.3"/>
<rect x="550.90" y="445.45" width="6.30" height="6.30" fill="#cbcccd" stroke="#231f20" stroke-width="1.3"/>
<rect x="559.67" y="431.45" width="6.30" height="6.30" fill="#cbcccd" stroke="#231f20" stroke-width="1.3"/>
<rect x="568.45" y="419.85" width="6.30" height="6.30" fill="#cbcccd" stroke="#231f20" stroke-width="1.3"/>
<rect x="577.23" y="419.45" width="6.30" height="6.30" fill="#cbcccd" stroke="#231f20" stroke-width="1.3"/>
<rect x="586.00" y="425.25" width="6.30" height="6.30" fill="#cbcccd" stroke="#231f20" stroke-width="1.3"/>
<rect x="594.77" y="434.55" width="6.30" height="6.30" fill="#cbcccd" stroke="#231f20" stroke-width="1.3"/>
<rect x="603.55" y="447.55" width="6.30" height="6.30" fill="#cbcccd" stroke="#231f20" stroke-width="1.3"/>
<rect x="612.33" y="462.55" width="6.30" height="6.30" fill="#cbcccd" stroke="#231f20" stroke-width="1.3"/>
<rect x="621.10" y="476.85" width="6.30" height="6.30" fill="#cbcccd" stroke="#231f20" stroke-width="1.3"/>
<rect x="629.88" y="488.35" width="6.30" height="6.30" fill="#cbcccd" stroke="#231f20" stroke-width="1.3"/>
<rect x="638.65" y="496.85" width="6.30" height="6.30" fill="#cbcccd" stroke="#231f20" stroke-width="1.3"/>
<rect x="647.43" y="503.65" width="6.30" height="6.30" fill="#cbcccd" stroke="#231f20" stroke-width="1.3"/>
<rect x="656.20" y="508.95" width="6.30" height="6.30" fill="#cbcccd" stroke="#231f20" stroke-width="1.3"/>
<rect x="664.98" y="512.65" width="6.30" height="6.30" fill="#cbcccd" stroke="#231f20" stroke-width="1.3"/>
<rect x="673.75" y="515.85" width="6.30" height="6.30" fill="#cbcccd" stroke="#231f20" stroke-width="1.3"/>
<path d="M594.61,244.60 L598.21,248.20 L594.61,251.80 L591.00,248.20 Z" fill="#c9cacb" stroke="#333" stroke-width="1.15"/>
<path d="M603.36,244.60 L606.96,248.20 L603.36,251.80 L599.76,248.20 Z" fill="#c9cacb" stroke="#333" stroke-width="1.15"/>
<path d="M612.12,244.60 L615.72,248.20 L612.12,251.80 L608.51,248.20 Z" fill="#c9cacb" stroke="#333" stroke-width="1.15"/>
<path d="M620.87,244.60 L624.47,248.20 L620.87,251.80 L617.27,248.20 Z" fill="#c9cacb" stroke="#333" stroke-width="1.15"/>
<path d="M629.62,244.60 L633.23,248.20 L629.62,251.80 L626.02,248.20 Z" fill="#c9cacb" stroke="#333" stroke-width="1.15"/>
<path d="M638.38,244.60 L641.98,248.20 L638.38,251.80 L634.78,248.20 Z" fill="#c9cacb" stroke="#333" stroke-width="1.15"/>
<path d="M647.13,244.60 L650.74,248.20 L647.13,251.80 L643.53,248.20 Z" fill="#c9cacb" stroke="#333" stroke-width="1.15"/>
<path d="M655.89,244.60 L659.49,248.20 L655.89,251.80 L652.29,248.20 Z" fill="#c9cacb" stroke="#333" stroke-width="1.15"/>
<path d="M664.64,244.60 L668.25,248.20 L664.64,251.80 L661.04,248.20 Z" fill="#c9cacb" stroke="#333" stroke-width="1.15"/>
<path d="M501.40,538.60 L505.00,542.20 L501.40,545.80 L497.80,542.20 Z" fill="#c9cacb" stroke="#333" stroke-width="1.15"/>
<path d="M510.17,538.60 L513.77,542.20 L510.17,545.80 L506.57,542.20 Z" fill="#c9cacb" stroke="#333" stroke-width="1.15"/>
<path d="M518.95,538.60 L522.55,542.20 L518.95,545.80 L515.35,542.20 Z" fill="#c9cacb" stroke="#333" stroke-width="1.15"/>
<path d="M527.73,538.60 L531.33,542.20 L527.73,545.80 L524.12,542.20 Z" fill="#c9cacb" stroke="#333" stroke-width="1.15"/>
<path d="M536.50,538.60 L540.10,542.20 L536.50,545.80 L532.90,542.20 Z" fill="#c9cacb" stroke="#333" stroke-width="1.15"/>
<path d="M545.27,538.60 L548.88,542.20 L545.27,545.80 L541.67,542.20 Z" fill="#c9cacb" stroke="#333" stroke-width="1.15"/>
<path d="M554.05,538.60 L557.65,542.20 L554.05,545.80 L550.45,542.20 Z" fill="#c9cacb" stroke="#333" stroke-width="1.15"/>
<path d="M597.92,538.60 L601.52,542.20 L597.92,545.80 L594.32,542.20 Z" fill="#c9cacb" stroke="#333" stroke-width="1.15"/>
<path d="M606.70,538.60 L610.30,542.20 L606.70,545.80 L603.10,542.20 Z" fill="#c9cacb" stroke="#333" stroke-width="1.15"/>
<path d="M615.48,538.60 L619.08,542.20 L615.48,545.80 L611.88,542.20 Z" fill="#c9cacb" stroke="#333" stroke-width="1.15"/>
<path d="M624.25,538.60 L627.85,542.20 L624.25,545.80 L620.65,542.20 Z" fill="#c9cacb" stroke="#333" stroke-width="1.15"/>
<path d="M633.02,538.60 L636.62,542.20 L633.02,545.80 L629.42,542.20 Z" fill="#c9cacb" stroke="#333" stroke-width="1.15"/>
<path d="M641.80,538.60 L645.40,542.20 L641.80,545.80 L638.20,542.20 Z" fill="#c9cacb" stroke="#333" stroke-width="1.15"/>
<path d="M650.58,538.60 L654.18,542.20 L650.58,545.80 L646.98,542.20 Z" fill="#c9cacb" stroke="#333" stroke-width="1.15"/>
<path d="M659.35,538.60 L662.95,542.20 L659.35,545.80 L655.75,542.20 Z" fill="#c9cacb" stroke="#333" stroke-width="1.15"/>
<path d="M668.12,538.60 L671.73,542.20 L668.12,545.80 L664.52,542.20 Z" fill="#c9cacb" stroke="#333" stroke-width="1.15"/>
<path d="M676.90,538.60 L680.50,542.20 L676.90,545.80 L673.30,542.20 Z" fill="#c9cacb" stroke="#333" stroke-width="1.15"/>
<text x="17.30" y="12.20" font-family="Liberation Serif" font-size="21" font-weight="bold" font-style="normal" text-anchor="start" fill="#231f20" >a</text>
<text x="453.80" y="13.70" font-family="Liberation Serif" font-size="21" font-weight="bold" font-style="normal" text-anchor="start" fill="#231f20" >b</text>
<text x="242.00" y="19.00" font-family="Liberation Sans" font-size="15" font-weight="bold" font-style="normal" text-anchor="middle" fill="#231f20" >NREM sleep</text>
<line x1="198.30" y1="21.00" x2="285.80" y2="21.00" stroke="#231f20" stroke-width="1.4" />
<text x="243.50" y="312.20" font-family="Liberation Sans" font-size="15" font-weight="bold" font-style="normal" text-anchor="middle" fill="#231f20" >REM sleep</text>
<line x1="205.60" y1="314.20" x2="281.40" y2="314.20" stroke="#231f20" stroke-width="1.4" />
<text x="573.50" y="20.40" font-family="Liberation Sans" font-size="15" font-weight="bold" font-style="normal" text-anchor="middle" fill="#231f20" >Waking</text>
<line x1="546.20" y1="22.10" x2="600.70" y2="22.10" stroke="#231f20" stroke-width="1.4" />
<text x="70.40" y="59.20" font-family="Liberation Sans" font-size="15" font-weight="normal" font-style="italic" text-anchor="start" fill="#231f20" >Frontal</text>
<text x="338.90" y="58.90" font-family="Liberation Sans" font-size="15" font-weight="normal" font-style="italic" text-anchor="start" fill="#231f20" >Occipital</text>
<text x="507.60" y="59.60" font-family="Liberation Sans" font-size="15" font-weight="bold" font-style="italic" text-anchor="start" fill="#231f20" >Frontal</text>
<text x="511.50" y="344.10" font-family="Liberation Sans" font-size="15" font-weight="bold" font-style="italic" text-anchor="start" fill="#231f20" >Occipital</text>
<line x1="155.10" y1="45.20" x2="189.10" y2="45.20" stroke="#231f20" stroke-width="3" />
<rect x="169.6" y="42.6" width="5.3" height="5.3" fill="#231f20"/>
<line x1="155.10" y1="61.00" x2="189.10" y2="61.00" stroke="#c4c4c4" stroke-width="3" />
<rect x="170.0" y="58.3" width="4.7" height="4.7" fill="#cbcccd" stroke="#231f20" stroke-width="0.8"/>
<text x="197.80" y="50.40" font-family="Liberation Sans" font-size="15" font-weight="normal" font-style="normal" text-anchor="start" fill="#231f20" >WT</text>
<text x="198.40" y="66.50" font-family="Liberation Sans" font-size="15" font-weight="normal" font-style="italic" text-anchor="start" fill="#231f20" letter-spacing="0.2">Gria1<tspan font-size="10" dy="-6">-/-</tspan></text>
<line x1="585.80" y1="49.10" x2="620.20" y2="49.10" stroke="#231f20" stroke-width="3" />
<rect x="599.1" y="45.2" width="7.8" height="7.8" fill="#231f20"/>
<line x1="585.80" y1="63.40" x2="620.20" y2="63.40" stroke="#c8c8c8" stroke-width="3" />
<rect x="599.2" y="59.8" width="7.2" height="7.2" fill="#cbcccd" stroke="#231f20" stroke-width="1.3"/>
<text x="629.00" y="53.70" font-family="Liberation Sans" font-size="15" font-weight="normal" font-style="normal" text-anchor="start" fill="#231f20" >WT</text>
<text x="629.20" y="68.00" font-family="Liberation Sans" font-size="15" font-weight="normal" font-style="italic" text-anchor="start" fill="#231f20" letter-spacing="0.15">Gria1-/-</text>
<text x="250.50" y="588.40" font-family="Liberation Sans" font-size="15" font-weight="normal" font-style="normal" text-anchor="middle" fill="#231f20" >Frequency [Hz]</text>
<text x="587.00" y="586.40" font-family="Liberation Sans" font-size="15" font-weight="normal" font-style="normal" text-anchor="middle" fill="#231f20" >Frequency [Hz]</text>
<text transform="translate(14.3,295.8) rotate(-90)" x="0" y="0" font-family="Liberation Sans" font-size="15" text-anchor="middle" fill="#231f20">EEG power density (μV<tspan font-size="10" dy="-6">2</tspan><tspan dy="6">/0.25 Hz)</tspan></text>
<text transform="translate(463.3,265.0) rotate(-90)" x="0" y="0" font-family="Liberation Sans" font-size="15" text-anchor="middle" textLength="141" lengthAdjust="spacingAndGlyphs" fill="#231f20">EEG power density (%)</text>
</svg>
</body></html>
